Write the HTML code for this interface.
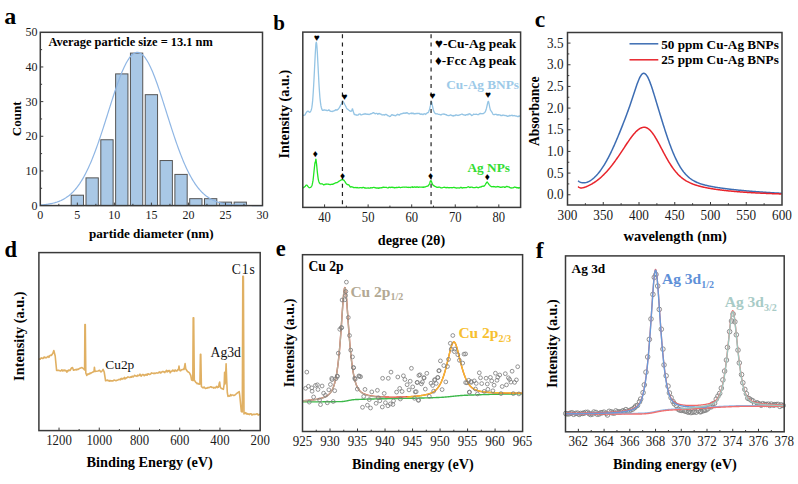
<!DOCTYPE html>
<html><head><meta charset="utf-8"><style>
html,body{margin:0;padding:0;background:#fff;}
svg{display:block;font-family:"Liberation Serif", serif;}
</style></head><body>
<svg width="798" height="484" viewBox="0 0 798 484">
<rect width="798" height="484" fill="#fff"/>
<text x="4.2" y="24" font-size="24" font-weight="bold" fill="#000" text-anchor="start" >a</text>
<rect x="71.19" y="195.2" width="12.3" height="10.4" fill="#a9c8e6" stroke="#555" stroke-width="1"/>
<rect x="86" y="177.87" width="12.3" height="27.73" fill="#a9c8e6" stroke="#555" stroke-width="1"/>
<rect x="100.81" y="139.75" width="12.3" height="65.85" fill="#a9c8e6" stroke="#555" stroke-width="1"/>
<rect x="115.63" y="73.89" width="12.3" height="131.71" fill="#a9c8e6" stroke="#555" stroke-width="1"/>
<rect x="130.44" y="53.1" width="12.3" height="152.5" fill="#a9c8e6" stroke="#555" stroke-width="1"/>
<rect x="145.25" y="94.69" width="12.3" height="110.91" fill="#a9c8e6" stroke="#555" stroke-width="1"/>
<rect x="160.07" y="160.54" width="12.3" height="45.06" fill="#a9c8e6" stroke="#555" stroke-width="1"/>
<rect x="174.88" y="174.41" width="12.3" height="31.19" fill="#a9c8e6" stroke="#555" stroke-width="1"/>
<rect x="189.69" y="198.67" width="12.3" height="6.93" fill="#a9c8e6" stroke="#555" stroke-width="1"/>
<rect x="204.51" y="198.67" width="12.3" height="6.93" fill="#a9c8e6" stroke="#555" stroke-width="1"/>
<rect x="219.32" y="202.13" width="12.3" height="3.47" fill="#a9c8e6" stroke="#555" stroke-width="1"/>
<rect x="234.13" y="202.13" width="12.3" height="3.47" fill="#a9c8e6" stroke="#555" stroke-width="1"/>
<path d="M40.3 204.97 L41.04 204.92 L41.78 204.86 L42.52 204.8 L43.26 204.73 L44 204.65 L44.74 204.58 L45.48 204.49 L46.23 204.4 L46.97 204.3 L47.71 204.2 L48.45 204.08 L49.19 203.96 L49.93 203.83 L50.67 203.69 L51.41 203.55 L52.15 203.39 L52.89 203.22 L53.63 203.04 L54.37 202.85 L55.11 202.65 L55.85 202.43 L56.59 202.2 L57.34 201.95 L58.08 201.69 L58.82 201.42 L59.56 201.12 L60.3 200.81 L61.04 200.49 L61.78 200.14 L62.52 199.77 L63.26 199.38 L64 198.97 L64.74 198.54 L65.48 198.09 L66.22 197.61 L66.96 197.1 L67.7 196.57 L68.45 196.02 L69.19 195.43 L69.93 194.82 L70.67 194.17 L71.41 193.5 L72.15 192.79 L72.89 192.05 L73.63 191.28 L74.37 190.47 L75.11 189.63 L75.85 188.75 L76.59 187.84 L77.33 186.89 L78.07 185.9 L78.81 184.87 L79.56 183.8 L80.3 182.69 L81.04 181.54 L81.78 180.34 L82.52 179.11 L83.26 177.83 L84 176.51 L84.74 175.14 L85.48 173.74 L86.22 172.28 L86.96 170.79 L87.7 169.25 L88.44 167.67 L89.18 166.04 L89.92 164.37 L90.67 162.66 L91.41 160.9 L92.15 159.11 L92.89 157.27 L93.63 155.39 L94.37 153.47 L95.11 151.52 L95.85 149.52 L96.59 147.49 L97.33 145.42 L98.07 143.33 L98.81 141.19 L99.55 139.03 L100.29 136.84 L101.03 134.63 L101.78 132.39 L102.52 130.12 L103.26 127.84 L104 125.54 L104.74 123.22 L105.48 120.89 L106.22 118.55 L106.96 116.21 L107.7 113.86 L108.44 111.51 L109.18 109.15 L109.92 106.81 L110.66 104.47 L111.4 102.14 L112.14 99.83 L112.89 97.53 L113.63 95.26 L114.37 93.01 L115.11 90.79 L115.85 88.59 L116.59 86.44 L117.33 84.32 L118.07 82.24 L118.81 80.21 L119.55 78.22 L120.29 76.29 L121.03 74.41 L121.77 72.59 L122.51 70.83 L123.25 69.14 L124 67.51 L124.74 65.95 L125.48 64.47 L126.22 63.06 L126.96 61.73 L127.7 60.48 L128.44 59.31 L129.18 58.23 L129.92 57.23 L130.66 56.33 L131.4 55.51 L132.14 54.79 L132.88 54.16 L133.62 53.63 L134.36 53.19 L135.11 52.84 L135.85 52.6 L136.59 52.45 L137.33 52.4 L138.07 52.45 L138.81 52.6 L139.55 52.84 L140.29 53.19 L141.03 53.63 L141.77 54.16 L142.51 54.79 L143.25 55.51 L143.99 56.33 L144.73 57.23 L145.47 58.23 L146.22 59.31 L146.96 60.48 L147.7 61.73 L148.44 63.06 L149.18 64.47 L149.92 65.95 L150.66 67.51 L151.4 69.14 L152.14 70.83 L152.88 72.59 L153.62 74.41 L154.36 76.29 L155.1 78.22 L155.84 80.21 L156.58 82.24 L157.33 84.32 L158.07 86.44 L158.81 88.59 L159.55 90.79 L160.29 93.01 L161.03 95.26 L161.77 97.53 L162.51 99.83 L163.25 102.14 L163.99 104.47 L164.73 106.81 L165.47 109.15 L166.21 111.51 L166.95 113.86 L167.69 116.21 L168.44 118.55 L169.18 120.89 L169.92 123.22 L170.66 125.54 L171.4 127.84 L172.14 130.12 L172.88 132.39 L173.62 134.63 L174.36 136.84 L175.1 139.03 L175.84 141.19 L176.58 143.33 L177.32 145.42 L178.06 147.49 L178.8 149.52 L179.55 151.52 L180.29 153.47 L181.03 155.39 L181.77 157.27 L182.51 159.11 L183.25 160.9 L183.99 162.66 L184.73 164.37 L185.47 166.04 L186.21 167.67 L186.95 169.25 L187.69 170.79 L188.43 172.28 L189.17 173.74 L189.91 175.14 L190.66 176.51 L191.4 177.83 L192.14 179.11 L192.88 180.34 L193.62 181.54 L194.36 182.69 L195.1 183.8 L195.84 184.87 L196.58 185.9 L197.32 186.89 L198.06 187.84 L198.8 188.75 L199.54 189.63 L200.28 190.47 L201.02 191.28 L201.77 192.05 L202.51 192.79 L203.25 193.5 L203.99 194.17 L204.73 194.82 L205.47 195.43 L206.21 196.02 L206.95 196.57 L207.69 197.1 L208.43 197.61 L209.17 198.09 L209.91 198.54 L210.65 198.97 L211.39 199.38 L212.13 199.77 L212.88 200.14 L213.62 200.49 L214.36 200.81 L215.1 201.12 L215.84 201.42 L216.58 201.69 L217.32 201.95 L218.06 202.2 L218.8 202.43 L219.54 202.65 L220.28 202.85 L221.02 203.04 L221.76 203.22 L222.5 203.39 L223.24 203.55 L223.99 203.69 L224.73 203.83 L225.47 203.96 L226.21 204.08 L226.95 204.2 L227.69 204.3 L228.43 204.4 L229.17 204.49 L229.91 204.58 L230.65 204.65 L231.39 204.73 L232.13 204.8 L232.87 204.86 L233.61 204.92 L234.35 204.97 L235.1 205.02 L235.84 205.07 L236.58 205.11 L237.32 205.15 L238.06 205.19 L238.8 205.23 L239.54 205.26 L240.28 205.29 L241.02 205.31 L241.76 205.34 L242.5 205.36 L243.24 205.38 L243.98 205.4 L244.72 205.42 L245.46 205.43 L246.21 205.45 L246.95 205.46 L247.69 205.48 L248.43 205.49 L249.17 205.5 L249.91 205.51 L250.65 205.52 L251.39 205.52 L252.13 205.53 L252.87 205.54 L253.61 205.54 L254.35 205.55 L255.09 205.55 L255.83 205.56 L256.57 205.56 L257.32 205.57 L258.06 205.57 L258.8 205.57 L259.54 205.58 L260.28 205.58 L261.02 205.58 L261.76 205.58 L262.5 205.58" fill="none" stroke="#8fb6e4" stroke-width="1.2" stroke-linejoin="round" />
<rect x="40.3" y="32.3" width="222.2" height="173.3" fill="none" stroke="#3a3a3a" stroke-width="1.5"/>
<line x1="58.82" y1="205.6" x2="58.82" y2="203.8" stroke="#3a3a3a" stroke-width="1" />
<line x1="77.33" y1="205.6" x2="77.33" y2="202.6" stroke="#3a3a3a" stroke-width="1" />
<line x1="95.85" y1="205.6" x2="95.85" y2="203.8" stroke="#3a3a3a" stroke-width="1" />
<line x1="114.37" y1="205.6" x2="114.37" y2="202.6" stroke="#3a3a3a" stroke-width="1" />
<line x1="132.88" y1="205.6" x2="132.88" y2="203.8" stroke="#3a3a3a" stroke-width="1" />
<line x1="151.4" y1="205.6" x2="151.4" y2="202.6" stroke="#3a3a3a" stroke-width="1" />
<line x1="169.92" y1="205.6" x2="169.92" y2="203.8" stroke="#3a3a3a" stroke-width="1" />
<line x1="188.43" y1="205.6" x2="188.43" y2="202.6" stroke="#3a3a3a" stroke-width="1" />
<line x1="206.95" y1="205.6" x2="206.95" y2="203.8" stroke="#3a3a3a" stroke-width="1" />
<line x1="225.47" y1="205.6" x2="225.47" y2="202.6" stroke="#3a3a3a" stroke-width="1" />
<line x1="243.98" y1="205.6" x2="243.98" y2="203.8" stroke="#3a3a3a" stroke-width="1" />
<line x1="40.3" y1="188.27" x2="42.1" y2="188.27" stroke="#3a3a3a" stroke-width="1" />
<line x1="40.3" y1="170.94" x2="43.3" y2="170.94" stroke="#3a3a3a" stroke-width="1" />
<line x1="40.3" y1="153.61" x2="42.1" y2="153.61" stroke="#3a3a3a" stroke-width="1" />
<line x1="40.3" y1="136.28" x2="43.3" y2="136.28" stroke="#3a3a3a" stroke-width="1" />
<line x1="40.3" y1="118.95" x2="42.1" y2="118.95" stroke="#3a3a3a" stroke-width="1" />
<line x1="40.3" y1="101.62" x2="43.3" y2="101.62" stroke="#3a3a3a" stroke-width="1" />
<line x1="40.3" y1="84.29" x2="42.1" y2="84.29" stroke="#3a3a3a" stroke-width="1" />
<line x1="40.3" y1="66.96" x2="43.3" y2="66.96" stroke="#3a3a3a" stroke-width="1" />
<line x1="40.3" y1="49.63" x2="42.1" y2="49.63" stroke="#3a3a3a" stroke-width="1" />
<text x="40.3" y="219" font-size="12" font-weight="normal" fill="#1a1a1a" text-anchor="middle" >0</text>
<text x="77.33" y="219" font-size="12" font-weight="normal" fill="#1a1a1a" text-anchor="middle" >5</text>
<text x="114.37" y="219" font-size="12" font-weight="normal" fill="#1a1a1a" text-anchor="middle" >10</text>
<text x="151.4" y="219" font-size="12" font-weight="normal" fill="#1a1a1a" text-anchor="middle" >15</text>
<text x="188.43" y="219" font-size="12" font-weight="normal" fill="#1a1a1a" text-anchor="middle" >20</text>
<text x="225.47" y="219" font-size="12" font-weight="normal" fill="#1a1a1a" text-anchor="middle" >25</text>
<text x="262.5" y="219" font-size="12" font-weight="normal" fill="#1a1a1a" text-anchor="middle" >30</text>
<text x="37.4" y="209.7" font-size="12" font-weight="normal" fill="#1a1a1a" text-anchor="end" >0</text>
<text x="37.4" y="175.04" font-size="12" font-weight="normal" fill="#1a1a1a" text-anchor="end" >10</text>
<text x="37.4" y="140.38" font-size="12" font-weight="normal" fill="#1a1a1a" text-anchor="end" >20</text>
<text x="37.4" y="105.72" font-size="12" font-weight="normal" fill="#1a1a1a" text-anchor="end" >30</text>
<text x="37.4" y="71.06" font-size="12" font-weight="normal" fill="#1a1a1a" text-anchor="end" >40</text>
<text x="37.4" y="36.4" font-size="12" font-weight="normal" fill="#1a1a1a" text-anchor="end" >50</text>
<text x="48.4" y="46.4" font-size="12.4" font-weight="bold" fill="#000" text-anchor="start" >Average particle size = 13.1 nm</text>
<text x="151.25" y="237.5" font-size="13.15" font-weight="bold" fill="#000" text-anchor="middle" >partide diameter (nm)</text>
<text x="21" y="118.85" font-size="13" font-weight="bold" fill="#000" text-anchor="middle" transform="rotate(-90 21 118.85)">Count</text>
<text x="273.2" y="29.5" font-size="21" font-weight="bold" fill="#000" text-anchor="start" >b</text>
<path d="M302.8 115.62 L303.16 115.44 L303.53 115.34 L303.89 115.23 L304.25 115.22 L304.62 115.13 L304.98 114.9 L305.35 114.33 L305.71 113.49 L306.07 112.93 L306.44 112.44 L306.8 111.99 L307.16 111.39 L307.53 111.35 L307.89 111.2 L308.25 111.25 L308.62 111.42 L308.98 111.83 L309.34 112.26 L309.71 112.2 L310.07 112.1 L310.44 111.7 L310.8 110.93 L311.16 110.16 L311.53 108.97 L311.89 107.17 L312.25 104.34 L312.62 100.89 L312.98 96.18 L313.34 90.81 L313.71 84.58 L314.07 77.87 L314.44 70.58 L314.8 62.99 L315.16 55.76 L315.53 49.66 L315.89 43.79 L316.25 42.05 L316.62 43.37 L316.98 46.96 L317.34 52.47 L317.71 59.71 L318.07 66.65 L318.44 73.84 L318.8 81.01 L319.16 87.12 L319.53 92.39 L319.89 97.24 L320.25 100.64 L320.62 103.59 L320.98 105.93 L321.34 107.51 L321.71 108.83 L322.07 109.88 L322.43 110.24 L322.8 110.21 L323.16 110.37 L323.53 110.15 L323.89 110.11 L324.25 109.94 L324.62 110.06 L324.98 109.9 L325.34 110.28 L325.71 110.03 L326.07 110.03 L326.43 110.27 L326.8 110.65 L327.16 110.54 L327.53 110.58 L327.89 110.4 L328.25 110.44 L328.62 110.06 L328.98 109.76 L329.34 110.29 L329.71 110.94 L330.07 110.91 L330.43 111.09 L330.8 111.37 L331.16 111.48 L331.52 111.39 L331.89 111.45 L332.25 111.5 L332.62 111.13 L332.98 111.05 L333.34 111.09 L333.71 111.07 L334.07 110.58 L334.43 110.7 L334.8 110.56 L335.16 109.99 L335.52 109.76 L335.89 110.18 L336.25 109.92 L336.62 109.88 L336.98 110.1 L337.34 109.86 L337.71 109.44 L338.07 109.46 L338.43 108.81 L338.8 108.49 L339.16 107.92 L339.52 107.26 L339.89 106.75 L340.25 106.11 L340.62 105.07 L340.98 104.64 L341.34 104.23 L341.71 103.23 L342.07 102.31 L342.43 101.95 L342.8 101.53 L343.16 101.3 L343.52 102.03 L343.89 102.7 L344.25 103.67 L344.61 104.22 L344.98 104.87 L345.34 105.42 L345.71 106.47 L346.07 107 L346.43 107.84 L346.8 108.51 L347.16 108.88 L347.52 109.18 L347.89 109.35 L348.25 109.65 L348.61 110 L348.98 110.2 L349.34 110.43 L349.71 110.72 L350.07 111.17 L350.43 111.23 L350.8 111.24 L351.16 111.11 L351.52 111.04 L351.89 110.47 L352.25 108.84 L352.61 108.81 L352.98 110.83 L353.34 111.72 L353.7 112.67 L354.07 114.06 L354.43 114.53 L354.8 114.25 L355.16 114.63 L355.52 114.95 L355.89 114.96 L356.25 114.79 L356.61 115.18 L356.98 115.32 L357.34 115.09 L357.7 115.02 L358.07 115.06 L358.43 114.6 L358.8 114.03 L359.16 114.03 L359.52 114.21 L359.89 114.02 L360.25 114 L360.61 114.64 L360.98 114.86 L361.34 114.92 L361.7 114.8 L362.07 114.72 L362.43 114.45 L362.79 114.38 L363.16 114.27 L363.52 114.06 L363.89 114.28 L364.25 114.04 L364.61 114.02 L364.98 113.51 L365.34 113.98 L365.7 113.96 L366.07 114.15 L366.43 114.02 L366.79 114.38 L367.16 114.33 L367.52 114.06 L367.89 114.32 L368.25 114.43 L368.61 114.19 L368.98 114.61 L369.34 114.38 L369.7 114.23 L370.07 113.96 L370.43 114 L370.79 113.6 L371.16 113.81 L371.52 113.73 L371.89 113.48 L372.25 113.16 L372.61 113.13 L372.98 112.9 L373.34 112.58 L373.7 112.58 L374.07 113.07 L374.43 113.1 L374.79 113.54 L375.16 113.56 L375.52 113.83 L375.88 113.41 L376.25 113.43 L376.61 113.47 L376.98 113.5 L377.34 113.81 L377.7 114.22 L378.07 114.09 L378.43 113.49 L378.79 113.94 L379.16 113.69 L379.52 113.46 L379.88 113.61 L380.25 114.1 L380.61 114.18 L380.98 114.07 L381.34 114.45 L381.7 114.72 L382.07 114.98 L382.43 114.75 L382.79 114.88 L383.16 114.94 L383.52 114.77 L383.88 114.62 L384.25 114.99 L384.61 115.16 L384.97 114.65 L385.34 114.64 L385.7 114.37 L386.07 114.34 L386.43 114.52 L386.79 114.89 L387.16 115.03 L387.52 115.58 L387.88 115.5 L388.25 115.74 L388.61 115.88 L388.97 116.11 L389.34 116.26 L389.7 116.56 L390.07 116.22 L390.43 116.4 L390.79 115.88 L391.16 115.41 L391.52 114.75 L391.88 115.05 L392.25 114.64 L392.61 114.95 L392.97 115.07 L393.34 115.38 L393.7 115.04 L394.07 115.25 L394.43 115.53 L394.79 115.52 L395.16 115.57 L395.52 115.8 L395.88 115.66 L396.25 115.06 L396.61 114.89 L396.97 114.93 L397.34 114.4 L397.7 114.27 L398.06 114.62 L398.43 114.81 L398.79 114.56 L399.16 114.95 L399.52 115.03 L399.88 114.58 L400.25 114.1 L400.61 113.93 L400.97 113.9 L401.34 113.71 L401.7 113.71 L402.06 113.8 L402.43 113.58 L402.79 113.34 L403.16 113.17 L403.52 113.35 L403.88 113.01 L404.25 113.29 L404.61 113.14 L404.97 112.95 L405.34 112.96 L405.7 113.28 L406.06 112.77 L406.43 112.68 L406.79 113.04 L407.15 112.78 L407.52 112.93 L407.88 113.42 L408.25 113.66 L408.61 113.63 L408.97 113.92 L409.34 113.87 L409.7 113.8 L410.06 113.28 L410.43 113.36 L410.79 113.34 L411.15 113.16 L411.52 112.99 L411.88 113.71 L412.25 113.23 L412.61 113.09 L412.97 113.58 L413.34 113.51 L413.7 113.3 L414.06 113.98 L414.43 113.9 L414.79 113.59 L415.15 113.94 L415.52 113.69 L415.88 113.36 L416.25 113.47 L416.61 113.56 L416.97 113.42 L417.34 113.59 L417.7 113.46 L418.06 113.39 L418.43 113.44 L418.79 113.5 L419.15 113.43 L419.52 113.5 L419.88 114.08 L420.24 114.16 L420.61 114.29 L420.97 114.01 L421.34 114.3 L421.7 113.93 L422.06 114.05 L422.43 114.03 L422.79 114.49 L423.15 114.48 L423.52 114.04 L423.88 113.92 L424.24 113.88 L424.61 113.74 L424.97 113.84 L425.34 114.46 L425.7 113.95 L426.06 113.68 L426.43 113.74 L426.79 113.37 L427.15 112.78 L427.52 112.6 L427.88 112.77 L428.24 112.47 L428.61 111.65 L428.97 110.73 L429.33 110.2 L429.7 108.67 L430.06 107.11 L430.43 105.46 L430.79 103.57 L431.15 102.08 L431.52 101.65 L431.88 102.63 L432.24 104.51 L432.61 106.75 L432.97 108.23 L433.33 109.88 L433.7 111.07 L434.06 111.89 L434.43 112.47 L434.79 113.07 L435.15 113.38 L435.52 113.71 L435.88 113.86 L436.24 113.78 L436.61 113.77 L436.97 113.95 L437.33 113.89 L437.7 113.99 L438.06 114.22 L438.43 114.42 L438.79 114.45 L439.15 114.29 L439.52 114.38 L439.88 114.61 L440.24 114.69 L440.61 114.71 L440.97 115.04 L441.33 114.81 L441.7 114.3 L442.06 114.25 L442.42 114.13 L442.79 114.2 L443.15 114.19 L443.52 114.08 L443.88 113.89 L444.24 114.35 L444.61 114.16 L444.97 114.12 L445.33 114.46 L445.7 114.75 L446.06 114.56 L446.42 114.67 L446.79 115.19 L447.15 115.46 L447.52 115.36 L447.88 115.39 L448.24 115.66 L448.61 115.57 L448.97 115.63 L449.33 115.44 L449.7 115.31 L450.06 115.15 L450.42 114.92 L450.79 114.93 L451.15 115.24 L451.51 115.43 L451.88 115.26 L452.24 115.78 L452.61 115.81 L452.97 115.66 L453.33 115.52 L453.7 116.03 L454.06 115.51 L454.42 115.44 L454.79 115.66 L455.15 115.64 L455.51 114.97 L455.88 115.06 L456.24 114.97 L456.61 115 L456.97 115.14 L457.33 115.35 L457.7 115.47 L458.06 115.51 L458.42 115.34 L458.79 115.21 L459.15 115.16 L459.51 115.13 L459.88 114.84 L460.24 114.69 L460.61 114.68 L460.97 114.46 L461.33 114.26 L461.7 114.09 L462.06 114.08 L462.42 114.18 L462.79 114.54 L463.15 114.61 L463.51 114.93 L463.88 114.8 L464.24 115.02 L464.6 115.01 L464.97 115.22 L465.33 115.1 L465.7 115.32 L466.06 114.66 L466.42 114.7 L466.79 114.67 L467.15 114.49 L467.51 114.51 L467.88 114.95 L468.24 114.49 L468.6 113.99 L468.97 114.13 L469.33 114.03 L469.7 113.66 L470.06 113.97 L470.42 114.34 L470.79 114.64 L471.15 114.88 L471.51 115.4 L471.88 115.59 L472.24 115.31 L472.6 115.09 L472.97 114.77 L473.33 114.3 L473.69 114.07 L474.06 114.29 L474.42 114.46 L474.79 114.36 L475.15 114.32 L475.51 114.31 L475.88 114.26 L476.24 114.1 L476.6 114.36 L476.97 114.43 L477.33 114.54 L477.69 114.62 L478.06 114.63 L478.42 114.5 L478.79 114.57 L479.15 113.92 L479.51 113.65 L479.88 113.63 L480.24 113.43 L480.6 113.44 L480.97 113.9 L481.33 113.75 L481.69 113.62 L482.06 113.74 L482.42 113.68 L482.78 113.63 L483.15 113.72 L483.51 113.42 L483.88 113.23 L484.24 112.86 L484.6 112.54 L484.97 112.17 L485.33 111.66 L485.69 110.76 L486.06 109.83 L486.42 108.45 L486.78 106.81 L487.15 105.25 L487.51 103.59 L487.88 102.05 L488.24 101.36 L488.6 101.66 L488.97 103.29 L489.33 105.05 L489.69 107.03 L490.06 108.54 L490.42 110.12 L490.78 110.31 L491.15 111.04 L491.51 111.52 L491.88 112.11 L492.24 112.73 L492.6 113.53 L492.97 114.16 L493.33 114.46 L493.69 114.7 L494.06 114.52 L494.42 114.56 L494.78 114.53 L495.15 114.29 L495.51 114.41 L495.87 114.2 L496.24 114.33 L496.6 114.67 L496.97 114.87 L497.33 114.71 L497.69 115.13 L498.06 115.13 L498.42 114.63 L498.78 114.74 L499.15 114.89 L499.51 114.86 L499.87 114.76 L500.24 115.26 L500.6 115.55 L500.97 115.49 L501.33 115.45 L501.69 115.55 L502.06 115.53 L502.42 115.14 L502.78 115.29 L503.15 115.19 L503.51 115.18 L503.87 115.08 L504.24 115.48 L504.6 115.39 L504.96 115.39 L505.33 115.69 L505.69 115.58 L506.06 115.43 L506.42 115.74 L506.78 116.09 L507.15 115.88 L507.51 116.33 L507.87 116.31 L508.24 116.2 L508.6 115.91 L508.96 116.02 L509.33 115.33 L509.69 115.68 L510.06 115.81 L510.42 115.73 L510.78 115.5 L511.15 115.55 L511.51 115.47 L511.87 115.17 L512.24 115.4 L512.6 115.64 L512.96 115.94 L513.33 115.56 L513.69 115.67 L514.06 115.45 L514.42 115.52 L514.78 115.63 L515.15 115.93 L515.51 115.91 L515.87 116.04 L516.24 116.1 L516.6 115.99 L516.96 116.21 L517.33 116.42 L517.69 116.59 L518.05 116.5 L518.42 116.49 L518.78 116.06 L519.15 115.89 L519.51 115.99 L519.87 116.19 L520.24 116.45 L520.6 117.02" fill="none" stroke="#94c4e4" stroke-width="1.3" stroke-linejoin="round" />
<path d="M302.8 187.78 L303.16 187.76 L303.53 187.63 L303.89 187.16 L304.25 187.11 L304.62 186.92 L304.98 186.54 L305.35 186.21 L305.71 185.54 L306.07 185.2 L306.44 185.12 L306.8 185.2 L307.16 185.33 L307.53 186.02 L307.89 186.4 L308.25 186.76 L308.62 187.19 L308.98 187.51 L309.34 187.61 L309.71 187.73 L310.07 187.5 L310.44 187.35 L310.8 187.22 L311.16 186.81 L311.53 186.31 L311.89 185.76 L312.25 184.43 L312.62 182.72 L312.98 180.69 L313.34 177.75 L313.71 174.3 L314.07 170.74 L314.44 167.26 L314.8 164 L315.16 162.18 L315.53 161.66 L315.89 159.07 L316.25 161.52 L316.62 164.68 L316.98 168.42 L317.34 172.17 L317.71 175.12 L318.07 177.83 L318.44 180.06 L318.8 181.42 L319.16 182.38 L319.53 183.09 L319.89 183.4 L320.25 183.86 L320.62 183.9 L320.98 183.83 L321.34 183.91 L321.71 183.83 L322.07 183.73 L322.43 184.03 L322.8 184.22 L323.16 184.44 L323.53 184.87 L323.89 184.78 L324.25 184.5 L324.62 184.53 L324.98 184.57 L325.34 184.19 L325.71 184.12 L326.07 184.24 L326.43 184.21 L326.8 183.99 L327.16 184.09 L327.53 184.16 L327.89 184.18 L328.25 184.13 L328.62 184.28 L328.98 184.25 L329.34 184.43 L329.71 184.54 L330.07 184.49 L330.43 184.59 L330.8 184.52 L331.16 184.37 L331.52 184.27 L331.89 184.46 L332.25 184.27 L332.62 184.3 L332.98 184.25 L333.34 183.92 L333.71 183.66 L334.07 183.54 L334.43 183.5 L334.8 183.23 L335.16 183.05 L335.52 182.92 L335.89 182.88 L336.25 182.61 L336.62 182.68 L336.98 182.7 L337.34 182.43 L337.71 182.25 L338.07 181.91 L338.43 181.49 L338.8 181.28 L339.16 181.2 L339.52 180.87 L339.89 180.82 L340.25 180.54 L340.62 180.3 L340.98 180.12 L341.34 179.8 L341.71 179.83 L342.07 179.53 L342.43 179.58 L342.8 179.58 L343.16 180.06 L343.52 179.97 L343.89 180.18 L344.25 180.66 L344.61 181.15 L344.98 181.52 L345.34 182.39 L345.71 183.06 L346.07 183.4 L346.43 183.8 L346.8 184.13 L347.16 184.37 L347.52 184.54 L347.89 184.79 L348.25 184.59 L348.61 184.95 L348.98 184.99 L349.34 185.54 L349.71 186.11 L350.07 186.78 L350.43 186.9 L350.8 187.09 L351.16 186.97 L351.52 186.72 L351.89 186.88 L352.25 186.98 L352.61 187.11 L352.98 187.24 L353.34 187.48 L353.7 187.5 L354.07 187.51 L354.43 187.62 L354.8 187.65 L355.16 187.43 L355.52 187.56 L355.89 187.66 L356.25 187.48 L356.61 187.64 L356.98 187.84 L357.34 187.49 L357.7 187.64 L358.07 187.8 L358.43 187.79 L358.8 187.78 L359.16 187.96 L359.52 187.59 L359.89 187.68 L360.25 187.58 L360.61 187.53 L360.98 187.6 L361.34 187.81 L361.7 187.78 L362.07 187.74 L362.43 187.77 L362.79 187.48 L363.16 187.43 L363.52 187.43 L363.89 187.64 L364.25 187.61 L364.61 187.86 L364.98 188.1 L365.34 187.99 L365.7 187.92 L366.07 188.17 L366.43 188.19 L366.79 188.15 L367.16 188.11 L367.52 188.05 L367.89 187.84 L368.25 187.85 L368.61 187.84 L368.98 188.22 L369.34 188.11 L369.7 188.06 L370.07 188.1 L370.43 187.84 L370.79 187.62 L371.16 187.77 L371.52 187.8 L371.89 187.81 L372.25 187.75 L372.61 187.78 L372.98 187.52 L373.34 187.47 L373.7 187.34 L374.07 187.48 L374.43 187.49 L374.79 187.68 L375.16 187.71 L375.52 187.84 L375.88 188.08 L376.25 187.97 L376.61 188 L376.98 188.2 L377.34 188.16 L377.7 187.81 L378.07 188.11 L378.43 188.32 L378.79 187.93 L379.16 187.89 L379.52 188.09 L379.88 187.9 L380.25 187.71 L380.61 187.91 L380.98 187.79 L381.34 187.74 L381.7 187.75 L382.07 187.53 L382.43 187.43 L382.79 187.55 L383.16 187.3 L383.52 187.14 L383.88 187.21 L384.25 187.38 L384.61 187.29 L384.97 187.41 L385.34 187.39 L385.7 187.43 L386.07 187.28 L386.43 187.36 L386.79 187.55 L387.16 187.73 L387.52 187.93 L387.88 187.91 L388.25 187.85 L388.61 187.46 L388.97 187.53 L389.34 187.23 L389.7 187.32 L390.07 187.42 L390.43 187.55 L390.79 187.37 L391.16 187.44 L391.52 187.22 L391.88 187.18 L392.25 187.48 L392.61 187.19 L392.97 187.28 L393.34 187.52 L393.7 187.53 L394.07 187.43 L394.43 187.81 L394.79 187.67 L395.16 187.75 L395.52 187.63 L395.88 187.66 L396.25 187.4 L396.61 187.4 L396.97 187.5 L397.34 187.59 L397.7 187.48 L398.06 187.43 L398.43 187.34 L398.79 187.15 L399.16 187.2 L399.52 187.26 L399.88 187.46 L400.25 187.54 L400.61 187.67 L400.97 187.5 L401.34 187.38 L401.7 187.42 L402.06 187.42 L402.43 187.22 L402.79 187.19 L403.16 187.22 L403.52 187.18 L403.88 187.21 L404.25 187.1 L404.61 187.21 L404.97 187.26 L405.34 187.06 L405.7 187.1 L406.06 187.21 L406.43 187.12 L406.79 187.19 L407.15 187.46 L407.52 187.28 L407.88 187.36 L408.25 187.29 L408.61 187.47 L408.97 187.25 L409.34 187.47 L409.7 187.34 L410.06 187.54 L410.43 187.53 L410.79 187.28 L411.15 187.08 L411.52 187.22 L411.88 187.11 L412.25 186.76 L412.61 187.32 L412.97 187.38 L413.34 187.12 L413.7 187.23 L414.06 187.11 L414.43 186.98 L414.79 186.9 L415.15 187.12 L415.52 187.17 L415.88 187.39 L416.25 187.08 L416.61 186.94 L416.97 187.07 L417.34 187 L417.7 186.89 L418.06 187.16 L418.43 187.42 L418.79 187.35 L419.15 186.99 L419.52 187.05 L419.88 187.05 L420.24 187.07 L420.61 187.1 L420.97 187.07 L421.34 187.12 L421.7 187.06 L422.06 187.27 L422.43 187.04 L422.79 187.28 L423.15 187.25 L423.52 187.28 L423.88 186.9 L424.24 187.12 L424.61 187.03 L424.97 187.02 L425.34 186.81 L425.7 186.82 L426.06 186.53 L426.43 186.35 L426.79 186.34 L427.15 186.3 L427.52 186.03 L427.88 185.91 L428.24 185.91 L428.61 185.26 L428.97 184.68 L429.33 184.1 L429.7 183.25 L430.06 182.07 L430.43 180.98 L430.79 180.65 L431.15 180.84 L431.52 181.6 L431.88 182.66 L432.24 183.92 L432.61 184.52 L432.97 184.98 L433.33 185.36 L433.7 185.68 L434.06 185.85 L434.43 185.98 L434.79 186.35 L435.15 186.41 L435.52 186.68 L435.88 186.72 L436.24 186.98 L436.61 187.13 L436.97 187.37 L437.33 187.25 L437.7 187.43 L438.06 187.44 L438.43 187.1 L438.79 187.03 L439.15 187.17 L439.52 187.13 L439.88 187.15 L440.24 187.46 L440.61 187.65 L440.97 187.75 L441.33 187.9 L441.7 187.87 L442.06 187.79 L442.42 187.68 L442.79 187.55 L443.15 187.47 L443.52 187.31 L443.88 187.28 L444.24 187.32 L444.61 187.25 L444.97 187.28 L445.33 187.56 L445.7 187.58 L446.06 187.84 L446.42 187.66 L446.79 187.64 L447.15 187.37 L447.52 187.51 L447.88 187.58 L448.24 187.6 L448.61 187.65 L448.97 187.93 L449.33 187.78 L449.7 187.53 L450.06 187.57 L450.42 187.66 L450.79 187.64 L451.15 187.69 L451.51 187.55 L451.88 187.9 L452.24 187.74 L452.61 187.72 L452.97 187.66 L453.33 187.46 L453.7 187.38 L454.06 187.47 L454.42 187.53 L454.79 187.48 L455.15 187.75 L455.51 187.83 L455.88 187.82 L456.24 187.88 L456.61 188.22 L456.97 188.11 L457.33 187.8 L457.7 187.89 L458.06 187.92 L458.42 187.79 L458.79 187.99 L459.15 188.14 L459.51 187.95 L459.88 187.87 L460.24 187.65 L460.61 187.33 L460.97 187.27 L461.33 187.65 L461.7 187.77 L462.06 187.79 L462.42 187.92 L462.79 188.06 L463.15 187.66 L463.51 187.58 L463.88 187.65 L464.24 187.6 L464.6 187.72 L464.97 187.74 L465.33 187.6 L465.7 187.6 L466.06 187.68 L466.42 187.56 L466.79 187.53 L467.15 187.28 L467.51 187 L467.88 186.88 L468.24 186.74 L468.6 186.81 L468.97 187.03 L469.33 187.35 L469.7 187.51 L470.06 187.49 L470.42 187.4 L470.79 187.13 L471.15 187.03 L471.51 187.06 L471.88 187.21 L472.24 187.26 L472.6 187.49 L472.97 187.6 L473.33 187.53 L473.69 187.55 L474.06 187.62 L474.42 187.65 L474.79 187.68 L475.15 187.59 L475.51 187.44 L475.88 187.25 L476.24 187.11 L476.6 187.12 L476.97 187.38 L477.33 187.41 L477.69 187.55 L478.06 187.76 L478.42 187.64 L478.79 187.54 L479.15 187.36 L479.51 187.17 L479.88 187.05 L480.24 187.08 L480.6 186.89 L480.97 186.88 L481.33 186.85 L481.69 186.64 L482.06 186.27 L482.42 186.33 L482.78 186.23 L483.15 186.12 L483.51 186.27 L483.88 186.28 L484.24 185.86 L484.6 185.5 L484.97 185.12 L485.33 184.52 L485.69 183.84 L486.06 183.29 L486.42 182.76 L486.78 182.34 L487.15 182.03 L487.51 182.27 L487.88 182.8 L488.24 183.26 L488.6 183.83 L488.97 184.45 L489.33 184.81 L489.69 185 L490.06 185.57 L490.42 186.07 L490.78 186.32 L491.15 186.59 L491.51 186.57 L491.88 186.82 L492.24 186.68 L492.6 186.68 L492.97 186.57 L493.33 186.8 L493.69 186.49 L494.06 186.53 L494.42 186.62 L494.78 186.79 L495.15 186.86 L495.51 186.92 L495.87 187.1 L496.24 186.99 L496.6 186.78 L496.97 186.74 L497.33 186.77 L497.69 186.49 L498.06 186.54 L498.42 186.81 L498.78 186.7 L499.15 186.79 L499.51 187.09 L499.87 187.23 L500.24 187.18 L500.6 187.35 L500.97 187.36 L501.33 187.19 L501.69 187.21 L502.06 187.23 L502.42 186.93 L502.78 186.95 L503.15 186.86 L503.51 186.86 L503.87 186.8 L504.24 187.12 L504.6 187.39 L504.96 187.38 L505.33 187.18 L505.69 187.09 L506.06 186.79 L506.42 186.32 L506.78 186.49 L507.15 186.56 L507.51 186.52 L507.87 186.63 L508.24 186.94 L508.6 186.81 L508.96 186.86 L509.33 187.13 L509.69 187.48 L510.06 187.65 L510.42 187.87 L510.78 187.94 L511.15 187.93 L511.51 188 L511.87 187.94 L512.24 187.79 L512.6 187.84 L512.96 187.86 L513.33 187.66 L513.69 187.44 L514.06 187.32 L514.42 187.21 L514.78 187 L515.15 187.15 L515.51 187.29 L515.87 187.31 L516.24 187.55 L516.6 187.85 L516.96 187.49 L517.33 187.65 L517.69 187.9 L518.05 187.99 L518.42 187.74 L518.78 188.05 L519.15 187.88 L519.51 187.82 L519.87 187.6 L520.24 187.88 L520.6 187.65" fill="none" stroke="#22e622" stroke-width="1.3" stroke-linejoin="round" />
<rect x="302.8" y="32.1" width="217.8" height="175.3" fill="none" stroke="#3a3a3a" stroke-width="1.5"/>
<line x1="342.44" y1="34.3" x2="342.44" y2="207.4" stroke="#222" stroke-width="1.2" stroke-dasharray="4 4.3"/>
<line x1="431.08" y1="34.3" x2="431.08" y2="207.4" stroke="#222" stroke-width="1.2" stroke-dasharray="4 4.3"/>
<line x1="324.58" y1="207.4" x2="324.58" y2="204.4" stroke="#3a3a3a" stroke-width="1" />
<line x1="346.36" y1="207.4" x2="346.36" y2="205.6" stroke="#3a3a3a" stroke-width="1" />
<line x1="368.14" y1="207.4" x2="368.14" y2="204.4" stroke="#3a3a3a" stroke-width="1" />
<line x1="389.92" y1="207.4" x2="389.92" y2="205.6" stroke="#3a3a3a" stroke-width="1" />
<line x1="411.7" y1="207.4" x2="411.7" y2="204.4" stroke="#3a3a3a" stroke-width="1" />
<line x1="433.48" y1="207.4" x2="433.48" y2="205.6" stroke="#3a3a3a" stroke-width="1" />
<line x1="455.26" y1="207.4" x2="455.26" y2="204.4" stroke="#3a3a3a" stroke-width="1" />
<line x1="477.04" y1="207.4" x2="477.04" y2="205.6" stroke="#3a3a3a" stroke-width="1" />
<line x1="498.82" y1="207.4" x2="498.82" y2="204.4" stroke="#3a3a3a" stroke-width="1" />
<text transform="translate(324.58 221.6) scale(1 1.08)" x="0" y="0" font-size="12.6" fill="#1a1a1a" text-anchor="middle">40</text>
<text transform="translate(368.14 221.6) scale(1 1.08)" x="0" y="0" font-size="12.6" fill="#1a1a1a" text-anchor="middle">50</text>
<text transform="translate(411.7 221.6) scale(1 1.08)" x="0" y="0" font-size="12.6" fill="#1a1a1a" text-anchor="middle">60</text>
<text transform="translate(455.26 221.6) scale(1 1.08)" x="0" y="0" font-size="12.6" fill="#1a1a1a" text-anchor="middle">70</text>
<text transform="translate(498.82 221.6) scale(1 1.08)" x="0" y="0" font-size="12.6" fill="#1a1a1a" text-anchor="middle">80</text>
<text x="411.55" y="244.9" font-size="14.2" font-weight="bold" fill="#000" text-anchor="middle" >degree (2θ)</text>
<text x="288.7" y="114.2" font-size="14.2" font-weight="bold" fill="#000" text-anchor="middle" transform="rotate(-90 288.7 114.2)">Intensity (a.u.)</text>
<text x="316.9" y="40.8" font-size="10" font-weight="normal" fill="#000" text-anchor="middle" >♥</text>
<text x="344.7" y="99.8" font-size="10" font-weight="normal" fill="#000" text-anchor="middle" >♥</text>
<text x="432.6" y="98.8" font-size="10" font-weight="normal" fill="#000" text-anchor="middle" >♥</text>
<text x="488.2" y="97.8" font-size="10" font-weight="normal" fill="#000" text-anchor="middle" >♥</text>
<text x="315.3" y="157" font-size="10" font-weight="normal" fill="#000" text-anchor="middle" >♦</text>
<text x="342.6" y="178.6" font-size="10" font-weight="normal" fill="#000" text-anchor="middle" >♦</text>
<text x="430.6" y="178.7" font-size="10" font-weight="normal" fill="#000" text-anchor="middle" >♦</text>
<text x="487.2" y="180.2" font-size="10" font-weight="normal" fill="#000" text-anchor="middle" >♦</text>
<text x="435" y="47.6" font-size="13.4" font-weight="bold" fill="#000" text-anchor="start" >♥-Cu-Ag peak</text>
<text x="435" y="64.6" font-size="13.4" font-weight="bold" fill="#000" text-anchor="start" >♦-Fcc Ag peak</text>
<text x="519" y="89.2" font-size="13.3" font-weight="bold" fill="#9dcae8" text-anchor="end" >Cu-Ag BNPs</text>
<text x="510" y="171.6" font-size="13.3" font-weight="bold" fill="#33dd33" text-anchor="end" >Ag NPs</text>
<text x="534.8" y="27.2" font-size="23.5" font-weight="bold" fill="#000" text-anchor="start" >c</text>
<path d="M578.1 180.79 L578.6 181.2 L579.1 181.55 L579.6 181.85 L580.1 182.11 L580.6 182.33 L581.1 182.5 L581.6 182.64 L582.1 182.75 L582.6 182.82 L583.1 182.86 L583.6 182.87 L584.1 182.85 L584.6 182.8 L585.1 182.73 L585.6 182.63 L586.1 182.51 L586.6 182.37 L587.1 182.2 L587.6 182.01 L588.1 181.8 L588.6 181.57 L589.1 181.31 L589.6 181.04 L590.1 180.75 L590.6 180.44 L591.1 180.11 L591.6 179.76 L592.1 179.39 L592.6 179.01 L593.1 178.6 L593.6 178.18 L594.1 177.74 L594.6 177.28 L595.1 176.8 L595.6 176.3 L596.1 175.79 L596.6 175.25 L597.1 174.7 L597.6 174.13 L598.1 173.55 L598.6 172.94 L599.1 172.32 L599.6 171.68 L600.1 171.02 L600.6 170.34 L601.1 169.64 L601.6 168.93 L602.1 168.2 L602.6 167.45 L603.1 166.68 L603.6 165.89 L604.1 165.09 L604.6 164.27 L605.1 163.43 L605.6 162.57 L606.1 161.7 L606.6 160.81 L607.1 159.9 L607.6 158.97 L608.1 158.03 L608.6 157.08 L609.1 156.1 L609.6 155.11 L610.1 154.11 L610.6 153.09 L611.1 152.06 L611.6 151.01 L612.1 149.95 L612.6 148.87 L613.1 147.78 L613.6 146.68 L614.1 145.57 L614.6 144.44 L615.1 143.3 L615.6 142.15 L616.1 140.99 L616.6 139.82 L617.1 138.64 L617.6 137.46 L618.1 136.26 L618.6 135.05 L619.1 133.84 L619.6 132.62 L620.1 131.39 L620.6 130.15 L621.1 128.9 L621.6 127.65 L622.1 126.39 L622.6 125.13 L623.1 123.85 L623.6 122.57 L624.1 121.28 L624.6 119.99 L625.1 118.68 L625.6 117.37 L626.1 116.04 L626.6 114.7 L627.1 113.35 L627.6 111.99 L628.1 110.62 L628.6 109.23 L629.1 107.82 L629.6 106.4 L630.1 104.97 L630.6 103.52 L631.1 102.05 L631.6 100.57 L632.1 99.07 L632.6 97.57 L633.1 96.05 L633.6 94.53 L634.1 93 L634.6 91.48 L635.1 89.97 L635.6 88.46 L636.1 86.98 L636.6 85.53 L637.1 84.12 L637.6 82.75 L638.1 81.43 L638.6 80.18 L639.1 79.01 L639.6 77.92 L640.1 76.93 L640.6 76.04 L641.1 75.27 L641.6 74.61 L642.1 74.08 L642.6 73.69 L643.1 73.44 L643.6 73.33 L644.1 73.35 L644.6 73.51 L645.1 73.79 L645.6 74.19 L646.1 74.72 L646.6 75.36 L647.1 76.11 L647.6 76.97 L648.1 77.93 L648.6 78.98 L649.1 80.11 L649.6 81.33 L650.1 82.61 L650.6 83.96 L651.1 85.37 L651.6 86.82 L652.1 88.32 L652.6 89.85 L653.1 91.42 L653.6 93.01 L654.1 94.62 L654.6 96.24 L655.1 97.88 L655.6 99.53 L656.1 101.19 L656.6 102.85 L657.1 104.51 L657.6 106.17 L658.1 107.83 L658.6 109.49 L659.1 111.14 L659.6 112.79 L660.1 114.44 L660.6 116.08 L661.1 117.71 L661.6 119.33 L662.1 120.95 L662.6 122.56 L663.1 124.16 L663.6 125.74 L664.1 127.32 L664.6 128.89 L665.1 130.44 L665.6 131.97 L666.1 133.5 L666.6 135 L667.1 136.49 L667.6 137.96 L668.1 139.42 L668.6 140.85 L669.1 142.26 L669.6 143.65 L670.1 145.01 L670.6 146.36 L671.1 147.68 L671.6 148.97 L672.1 150.24 L672.6 151.48 L673.1 152.7 L673.6 153.89 L674.1 155.05 L674.6 156.18 L675.1 157.29 L675.6 158.36 L676.1 159.41 L676.6 160.43 L677.1 161.43 L677.6 162.39 L678.1 163.33 L678.6 164.23 L679.1 165.11 L679.6 165.97 L680.1 166.79 L680.6 167.59 L681.1 168.36 L681.6 169.11 L682.1 169.83 L682.6 170.53 L683.1 171.2 L683.6 171.85 L684.1 172.47 L684.6 173.07 L685.1 173.65 L685.6 174.21 L686.1 174.75 L686.6 175.26 L687.1 175.76 L687.6 176.24 L688.1 176.7 L688.6 177.14 L689.1 177.56 L689.6 177.97 L690.1 178.36 L690.6 178.73 L691.1 179.09 L691.6 179.43 L692.1 179.77 L692.6 180.08 L693.1 180.39 L693.6 180.68 L694.1 180.97 L694.6 181.24 L695.1 181.5 L695.6 181.75 L696.1 181.99 L696.6 182.22 L697.1 182.44 L697.6 182.65 L698.1 182.86 L698.6 183.06 L699.1 183.25 L699.6 183.44 L700.1 183.61 L700.6 183.79 L701.1 183.95 L701.6 184.11 L702.1 184.27 L702.6 184.42 L703.1 184.56 L703.6 184.71 L704.1 184.84 L704.6 184.98 L705.1 185.11 L705.6 185.23 L706.1 185.35 L706.6 185.47 L707.1 185.59 L707.6 185.7 L708.1 185.81 L708.6 185.92 L709.1 186.03 L709.6 186.13 L710.1 186.23 L710.6 186.33 L711.1 186.43 L711.6 186.52 L712.1 186.61 L712.6 186.7 L713.1 186.79 L713.6 186.88 L714.1 186.97 L714.6 187.05 L715.1 187.14 L715.6 187.22 L716.1 187.3 L716.6 187.38 L717.1 187.46 L717.6 187.54 L718.1 187.62 L718.6 187.69 L719.1 187.77 L719.6 187.84 L720.1 187.91 L720.6 187.99 L721.1 188.06 L721.6 188.13 L722.1 188.2 L722.6 188.26 L723.1 188.33 L723.6 188.4 L724.1 188.47 L724.6 188.53 L725.1 188.6 L725.6 188.66 L726.1 188.72 L726.6 188.79 L727.1 188.85 L727.6 188.91 L728.1 188.97 L728.6 189.03 L729.1 189.09 L729.6 189.15 L730.1 189.21 L730.6 189.27 L731.1 189.33 L731.6 189.38 L732.1 189.44 L732.6 189.5 L733.1 189.55 L733.6 189.61 L734.1 189.66 L734.6 189.71 L735.1 189.77 L735.6 189.82 L736.1 189.87 L736.6 189.93 L737.1 189.98 L737.6 190.03 L738.1 190.08 L738.6 190.13 L739.1 190.18 L739.6 190.23 L740.1 190.28 L740.6 190.33 L741.1 190.37 L741.6 190.42 L742.1 190.47 L742.6 190.52 L743.1 190.56 L743.6 190.61 L744.1 190.65 L744.6 190.7 L745.1 190.74 L745.6 190.79 L746.1 190.83 L746.6 190.88 L747.1 190.92 L747.6 190.96 L748.1 191.01 L748.6 191.05 L749.1 191.09 L749.6 191.13 L750.1 191.18 L750.6 191.22 L751.1 191.26 L751.6 191.3 L752.1 191.34 L752.6 191.38 L753.1 191.42 L753.6 191.46 L754.1 191.5 L754.6 191.54 L755.1 191.58 L755.6 191.61 L756.1 191.65 L756.6 191.69 L757.1 191.73 L757.6 191.76 L758.1 191.8 L758.6 191.84 L759.1 191.87 L759.6 191.91 L760.1 191.95 L760.6 191.98 L761.1 192.02 L761.6 192.05 L762.1 192.09 L762.6 192.12 L763.1 192.16 L763.6 192.19 L764.1 192.22 L764.6 192.26 L765.1 192.29 L765.6 192.33 L766.1 192.36 L766.6 192.39 L767.1 192.42 L767.6 192.46 L768.1 192.49 L768.6 192.52 L769.1 192.55 L769.6 192.58 L770.1 192.62 L770.6 192.65 L771.1 192.68 L771.6 192.71 L772.1 192.74 L772.6 192.77 L773.1 192.8 L773.6 192.83 L774.1 192.86 L774.6 192.89 L775.1 192.92 L775.6 192.95 L776.1 192.98 L776.6 193.01 L777.1 193.04 L777.6 193.07 L778.1 193.1 L778.6 193.12 L779.1 193.15 L779.6 193.18 L780.1 193.21 L780.6 193.24 L781.1 193.26 L781.6 193.29" fill="none" stroke="#3d6db3" stroke-width="1.5" stroke-linejoin="round" />
<path d="M578.1 186.51 L578.6 187.03 L579.1 187.4 L579.6 187.65 L580.1 187.82 L580.6 187.91 L581.1 187.94 L581.6 187.93 L582.1 187.88 L582.6 187.81 L583.1 187.7 L583.6 187.58 L584.1 187.44 L584.6 187.28 L585.1 187.11 L585.6 186.94 L586.1 186.74 L586.6 186.54 L587.1 186.34 L587.6 186.12 L588.1 185.89 L588.6 185.66 L589.1 185.42 L589.6 185.17 L590.1 184.91 L590.6 184.65 L591.1 184.38 L591.6 184.1 L592.1 183.81 L592.6 183.51 L593.1 183.21 L593.6 182.9 L594.1 182.58 L594.6 182.25 L595.1 181.91 L595.6 181.57 L596.1 181.22 L596.6 180.85 L597.1 180.48 L597.6 180.1 L598.1 179.72 L598.6 179.32 L599.1 178.91 L599.6 178.5 L600.1 178.07 L600.6 177.64 L601.1 177.19 L601.6 176.74 L602.1 176.28 L602.6 175.81 L603.1 175.33 L603.6 174.84 L604.1 174.34 L604.6 173.83 L605.1 173.31 L605.6 172.79 L606.1 172.25 L606.6 171.7 L607.1 171.15 L607.6 170.58 L608.1 170.01 L608.6 169.43 L609.1 168.83 L609.6 168.23 L610.1 167.62 L610.6 167 L611.1 166.38 L611.6 165.74 L612.1 165.1 L612.6 164.45 L613.1 163.79 L613.6 163.12 L614.1 162.45 L614.6 161.76 L615.1 161.07 L615.6 160.38 L616.1 159.68 L616.6 158.97 L617.1 158.25 L617.6 157.53 L618.1 156.8 L618.6 156.07 L619.1 155.34 L619.6 154.59 L620.1 153.85 L620.6 153.1 L621.1 152.35 L621.6 151.6 L622.1 150.84 L622.6 150.08 L623.1 149.32 L623.6 148.56 L624.1 147.8 L624.6 147.04 L625.1 146.29 L625.6 145.53 L626.1 144.78 L626.6 144.02 L627.1 143.28 L627.6 142.54 L628.1 141.8 L628.6 141.07 L629.1 140.35 L629.6 139.64 L630.1 138.93 L630.6 138.24 L631.1 137.56 L631.6 136.88 L632.1 136.23 L632.6 135.58 L633.1 134.96 L633.6 134.35 L634.1 133.75 L634.6 133.18 L635.1 132.63 L635.6 132.09 L636.1 131.58 L636.6 131.1 L637.1 130.64 L637.6 130.2 L638.1 129.79 L638.6 129.41 L639.1 129.06 L639.6 128.73 L640.1 128.44 L640.6 128.18 L641.1 127.95 L641.6 127.75 L642.1 127.59 L642.6 127.46 L643.1 127.37 L643.6 127.3 L644.1 127.28 L644.6 127.29 L645.1 127.34 L645.6 127.45 L646.1 127.59 L646.6 127.78 L647.1 128.01 L647.6 128.29 L648.1 128.61 L648.6 128.98 L649.1 129.38 L649.6 129.82 L650.1 130.31 L650.6 130.83 L651.1 131.38 L651.6 131.98 L652.1 132.6 L652.6 133.26 L653.1 133.95 L653.6 134.67 L654.1 135.41 L654.6 136.19 L655.1 136.98 L655.6 137.8 L656.1 138.64 L656.6 139.5 L657.1 140.37 L657.6 141.27 L658.1 142.17 L658.6 143.09 L659.1 144.01 L659.6 144.95 L660.1 145.89 L660.6 146.84 L661.1 147.79 L661.6 148.74 L662.1 149.69 L662.6 150.64 L663.1 151.59 L663.6 152.54 L664.1 153.48 L664.6 154.41 L665.1 155.33 L665.6 156.25 L666.1 157.16 L666.6 158.06 L667.1 158.94 L667.6 159.81 L668.1 160.67 L668.6 161.52 L669.1 162.35 L669.6 163.16 L670.1 163.96 L670.6 164.74 L671.1 165.51 L671.6 166.26 L672.1 166.99 L672.6 167.71 L673.1 168.41 L673.6 169.09 L674.1 169.75 L674.6 170.39 L675.1 171.02 L675.6 171.63 L676.1 172.22 L676.6 172.8 L677.1 173.36 L677.6 173.9 L678.1 174.42 L678.6 174.93 L679.1 175.42 L679.6 175.89 L680.1 176.35 L680.6 176.8 L681.1 177.23 L681.6 177.65 L682.1 178.05 L682.6 178.44 L683.1 178.81 L683.6 179.17 L684.1 179.52 L684.6 179.86 L685.1 180.19 L685.6 180.5 L686.1 180.81 L686.6 181.1 L687.1 181.39 L687.6 181.66 L688.1 181.92 L688.6 182.18 L689.1 182.43 L689.6 182.67 L690.1 182.9 L690.6 183.12 L691.1 183.34 L691.6 183.55 L692.1 183.75 L692.6 183.95 L693.1 184.14 L693.6 184.33 L694.1 184.51 L694.6 184.68 L695.1 184.85 L695.6 185.02 L696.1 185.18 L696.6 185.33 L697.1 185.48 L697.6 185.63 L698.1 185.78 L698.6 185.92 L699.1 186.05 L699.6 186.19 L700.1 186.32 L700.6 186.44 L701.1 186.57 L701.6 186.69 L702.1 186.81 L702.6 186.92 L703.1 187.04 L703.6 187.15 L704.1 187.26 L704.6 187.37 L705.1 187.47 L705.6 187.57 L706.1 187.68 L706.6 187.77 L707.1 187.87 L707.6 187.97 L708.1 188.06 L708.6 188.15 L709.1 188.24 L709.6 188.33 L710.1 188.42 L710.6 188.51 L711.1 188.59 L711.6 188.68 L712.1 188.76 L712.6 188.84 L713.1 188.92 L713.6 189 L714.1 189.07 L714.6 189.15 L715.1 189.22 L715.6 189.3 L716.1 189.37 L716.6 189.44 L717.1 189.51 L717.6 189.58 L718.1 189.65 L718.6 189.71 L719.1 189.78 L719.6 189.85 L720.1 189.91 L720.6 189.97 L721.1 190.04 L721.6 190.1 L722.1 190.16 L722.6 190.22 L723.1 190.28 L723.6 190.34 L724.1 190.39 L724.6 190.45 L725.1 190.51 L725.6 190.56 L726.1 190.62 L726.6 190.67 L727.1 190.72 L727.6 190.78 L728.1 190.83 L728.6 190.88 L729.1 190.93 L729.6 190.98 L730.1 191.03 L730.6 191.08 L731.1 191.12 L731.6 191.17 L732.1 191.22 L732.6 191.26 L733.1 191.31 L733.6 191.36 L734.1 191.4 L734.6 191.44 L735.1 191.49 L735.6 191.53 L736.1 191.57 L736.6 191.61 L737.1 191.65 L737.6 191.69 L738.1 191.73 L738.6 191.77 L739.1 191.81 L739.6 191.85 L740.1 191.89 L740.6 191.93 L741.1 191.97 L741.6 192 L742.1 192.04 L742.6 192.07 L743.1 192.11 L743.6 192.15 L744.1 192.18 L744.6 192.21 L745.1 192.25 L745.6 192.28 L746.1 192.31 L746.6 192.35 L747.1 192.38 L747.6 192.41 L748.1 192.44 L748.6 192.48 L749.1 192.51 L749.6 192.54 L750.1 192.57 L750.6 192.6 L751.1 192.63 L751.6 192.66 L752.1 192.69 L752.6 192.71 L753.1 192.74 L753.6 192.77 L754.1 192.8 L754.6 192.83 L755.1 192.85 L755.6 192.88 L756.1 192.91 L756.6 192.93 L757.1 192.96 L757.6 192.98 L758.1 193.01 L758.6 193.04 L759.1 193.06 L759.6 193.09 L760.1 193.11 L760.6 193.13 L761.1 193.16 L761.6 193.18 L762.1 193.21 L762.6 193.23 L763.1 193.25 L763.6 193.28 L764.1 193.3 L764.6 193.32 L765.1 193.34 L765.6 193.36 L766.1 193.39 L766.6 193.41 L767.1 193.43 L767.6 193.45 L768.1 193.47 L768.6 193.49 L769.1 193.51 L769.6 193.53 L770.1 193.55 L770.6 193.57 L771.1 193.59 L771.6 193.61 L772.1 193.63 L772.6 193.65 L773.1 193.67 L773.6 193.69 L774.1 193.71 L774.6 193.73 L775.1 193.74 L775.6 193.76 L776.1 193.78 L776.6 193.8 L777.1 193.82 L777.6 193.83 L778.1 193.85 L778.6 193.87 L779.1 193.89 L779.6 193.9 L780.1 193.92 L780.6 193.94 L781.1 193.95 L781.6 193.97" fill="none" stroke="#e8242c" stroke-width="1.5" stroke-linejoin="round" />
<rect x="567.5" y="32.5" width="214.5" height="172.5" fill="none" stroke="#3a3a3a" stroke-width="1.5"/>
<line x1="585.38" y1="205" x2="585.38" y2="203.2" stroke="#3a3a3a" stroke-width="1" />
<line x1="603.25" y1="205" x2="603.25" y2="202" stroke="#3a3a3a" stroke-width="1" />
<line x1="621.12" y1="205" x2="621.12" y2="203.2" stroke="#3a3a3a" stroke-width="1" />
<line x1="639" y1="205" x2="639" y2="202" stroke="#3a3a3a" stroke-width="1" />
<line x1="656.88" y1="205" x2="656.88" y2="203.2" stroke="#3a3a3a" stroke-width="1" />
<line x1="674.75" y1="205" x2="674.75" y2="202" stroke="#3a3a3a" stroke-width="1" />
<line x1="692.62" y1="205" x2="692.62" y2="203.2" stroke="#3a3a3a" stroke-width="1" />
<line x1="710.5" y1="205" x2="710.5" y2="202" stroke="#3a3a3a" stroke-width="1" />
<line x1="728.38" y1="205" x2="728.38" y2="203.2" stroke="#3a3a3a" stroke-width="1" />
<line x1="746.25" y1="205" x2="746.25" y2="202" stroke="#3a3a3a" stroke-width="1" />
<line x1="764.12" y1="205" x2="764.12" y2="203.2" stroke="#3a3a3a" stroke-width="1" />
<line x1="567.5" y1="194.75" x2="570.5" y2="194.75" stroke="#3a3a3a" stroke-width="1" />
<line x1="567.5" y1="183.92" x2="569.3" y2="183.92" stroke="#3a3a3a" stroke-width="1" />
<line x1="567.5" y1="173.09" x2="570.5" y2="173.09" stroke="#3a3a3a" stroke-width="1" />
<line x1="567.5" y1="162.25" x2="569.3" y2="162.25" stroke="#3a3a3a" stroke-width="1" />
<line x1="567.5" y1="151.42" x2="570.5" y2="151.42" stroke="#3a3a3a" stroke-width="1" />
<line x1="567.5" y1="140.59" x2="569.3" y2="140.59" stroke="#3a3a3a" stroke-width="1" />
<line x1="567.5" y1="129.75" x2="570.5" y2="129.75" stroke="#3a3a3a" stroke-width="1" />
<line x1="567.5" y1="118.92" x2="569.3" y2="118.92" stroke="#3a3a3a" stroke-width="1" />
<line x1="567.5" y1="108.09" x2="570.5" y2="108.09" stroke="#3a3a3a" stroke-width="1" />
<line x1="567.5" y1="97.26" x2="569.3" y2="97.26" stroke="#3a3a3a" stroke-width="1" />
<line x1="567.5" y1="86.43" x2="570.5" y2="86.43" stroke="#3a3a3a" stroke-width="1" />
<line x1="567.5" y1="75.59" x2="569.3" y2="75.59" stroke="#3a3a3a" stroke-width="1" />
<line x1="567.5" y1="64.76" x2="570.5" y2="64.76" stroke="#3a3a3a" stroke-width="1" />
<line x1="567.5" y1="53.93" x2="569.3" y2="53.93" stroke="#3a3a3a" stroke-width="1" />
<line x1="567.5" y1="43.09" x2="570.5" y2="43.09" stroke="#3a3a3a" stroke-width="1" />
<text transform="translate(567.5 219.6) scale(1 1.08)" x="0" y="0" font-size="13.2" fill="#1a1a1a" text-anchor="middle">300</text>
<text transform="translate(603.25 219.6) scale(1 1.08)" x="0" y="0" font-size="13.2" fill="#1a1a1a" text-anchor="middle">350</text>
<text transform="translate(639 219.6) scale(1 1.08)" x="0" y="0" font-size="13.2" fill="#1a1a1a" text-anchor="middle">400</text>
<text transform="translate(674.75 219.6) scale(1 1.08)" x="0" y="0" font-size="13.2" fill="#1a1a1a" text-anchor="middle">450</text>
<text transform="translate(710.5 219.6) scale(1 1.08)" x="0" y="0" font-size="13.2" fill="#1a1a1a" text-anchor="middle">500</text>
<text transform="translate(746.25 219.6) scale(1 1.08)" x="0" y="0" font-size="13.2" fill="#1a1a1a" text-anchor="middle">550</text>
<text transform="translate(782 219.6) scale(1 1.08)" x="0" y="0" font-size="13.2" fill="#1a1a1a" text-anchor="middle">600</text>
<text transform="translate(563.5 199.25) scale(1 1.08)" x="0" y="0" font-size="13.2" fill="#1a1a1a" text-anchor="end">0.0</text>
<text transform="translate(563.5 177.59) scale(1 1.08)" x="0" y="0" font-size="13.2" fill="#1a1a1a" text-anchor="end">0.5</text>
<text transform="translate(563.5 155.92) scale(1 1.08)" x="0" y="0" font-size="13.2" fill="#1a1a1a" text-anchor="end">1.0</text>
<text transform="translate(563.5 134.25) scale(1 1.08)" x="0" y="0" font-size="13.2" fill="#1a1a1a" text-anchor="end">1.5</text>
<text transform="translate(563.5 112.59) scale(1 1.08)" x="0" y="0" font-size="13.2" fill="#1a1a1a" text-anchor="end">2.0</text>
<text transform="translate(563.5 90.93) scale(1 1.08)" x="0" y="0" font-size="13.2" fill="#1a1a1a" text-anchor="end">2.5</text>
<text transform="translate(563.5 69.26) scale(1 1.08)" x="0" y="0" font-size="13.2" fill="#1a1a1a" text-anchor="end">3.0</text>
<text transform="translate(563.5 47.59) scale(1 1.08)" x="0" y="0" font-size="13.2" fill="#1a1a1a" text-anchor="end">3.5</text>
<text x="675.2" y="241.2" font-size="14.5" font-weight="bold" fill="#000" text-anchor="middle" >wavelength (nm)</text>
<text x="538.9" y="111.3" font-size="13.6" font-weight="bold" fill="#000" text-anchor="middle" transform="rotate(-90 538.9 111.3)">Absorbance</text>
<line x1="629.5" y1="43.8" x2="658.3" y2="43.8" stroke="#3d6db3" stroke-width="1.5" />
<line x1="629.5" y1="59.8" x2="658.3" y2="59.8" stroke="#e8242c" stroke-width="1.5" />
<text x="661.2" y="48.8" font-size="13.2" font-weight="bold" fill="#000" text-anchor="start" >50 ppm Cu-Ag BNPs</text>
<text x="661.2" y="64" font-size="13.2" font-weight="bold" fill="#000" text-anchor="start" >25 ppm Cu-Ag BNPs</text>
<text x="4.5" y="256.5" font-size="22.5" font-weight="bold" fill="#000" text-anchor="start" >d</text>
<path d="M38.9 358.55 L39.51 359.11 L40.12 359.23 L40.73 358.39 L41.34 357.86 L41.95 358.27 L42.56 358.36 L43.17 358.47 L43.78 357.27 L44.39 357.08 L45 357.82 L45.65 357.5 L46.3 357.77 L46.95 357.31 L47.6 356.61 L48.25 356.33 L48.9 357.4 L49.55 355.9 L50.2 355.47 L50.85 355.1 L51.5 355.4 L53 353 L53.8 350.5 L55.2 356 L56.6 370.34 L57.25 370.4 L57.89 370.22 L58.54 370.39 L59.18 370.58 L59.83 370.8 L60.48 371.02 L61.12 370.66 L61.77 369.8 L62.42 370.96 L63.06 370.05 L63.71 370.65 L64.35 370.1 L65 370.8 L65.62 370.41 L66.25 370.82 L66.88 372.17 L67.5 370.63 L68.12 370.99 L68.75 369.98 L69.38 370.41 L70 370.5 L71.5 368 L72.5 367.5 L73.5 370.3 L74.14 369.89 L74.79 370.02 L75.43 369.83 L76.07 369.26 L76.71 369.9 L77.36 369.21 L78 369.5 L80 368.2 L82 367.5 L83.6 368.8 L84.6 370 L84.9 324.5 L85.3 324.5 L85.8 373 L86.8 375.44 L87.45 374.11 L88.1 374.38 L88.75 373.81 L89.4 373.98 L90.05 373.02 L90.7 373.47 L91.35 372.71 L92 372.5 L94 371.5 L94.4 367.2 L95 371.5 L98 371 L99.5 370.3 L101 372 L102.5 370.5 L103.1 369.4 L104.2 372 L105.6 380.77 L106.22 380.53 L106.83 380.36 L107.45 380 L108.07 380.75 L108.68 380.66 L109.3 381.24 L109.92 380.38 L110.53 380.85 L111.15 380.88 L111.77 380.83 L112.38 380.84 L113 380.88 L113.6 380.38 L114.2 380.04 L114.8 380.17 L115.4 380.47 L116 380.73 L116.6 380.34 L117.2 380.22 L117.8 379.95 L118.4 379.76 L119 379.38 L119.6 379.5 L120.2 379.8 L120.8 378.7 L121.4 378.39 L122 379.43 L122.6 378.51 L123.2 378.69 L123.8 378.49 L124.4 377.44 L125 378.9 L125.6 378.5 L126.2 377.67 L126.8 377.83 L127.4 377.44 L128 376.88 L128.6 377.13 L129.2 377.24 L129.8 377.47 L130.4 377.18 L131 376.79 L131.6 377.27 L132.2 376.21 L132.8 376.8 L133.4 376.84 L134 376.11 L134.6 375.33 L135.2 375.62 L135.8 376.03 L136.4 376.06 L137 376.42 L137.6 375.16 L138.2 375.51 L138.8 375.7 L139.4 375.23 L140 374.13 L140.6 375.48 L141.2 376.08 L141.8 375.41 L142.4 374.47 L143 374.61 L143.6 374.82 L144.2 375.76 L144.8 374.84 L145.4 374.53 L146 375.1 L146.6 374.28 L147.2 375.08 L147.8 373.85 L148.4 373.87 L149 374.32 L149.6 374.56 L150.2 374.13 L150.8 373.9 L151.4 372.86 L152 373.28 L152.6 373.25 L153.2 373.2 L153.8 373.62 L154.4 373.13 L155 373.55 L155.61 373.14 L156.22 372.85 L156.83 372.95 L157.44 372.99 L158.06 373.09 L158.67 372.39 L159.28 372.4 L159.89 371.79 L160.5 373.02 L161.11 372.85 L161.72 372.02 L162.33 371.78 L162.94 371.34 L163.56 371.88 L164.17 371.79 L164.78 372.58 L165.39 371.61 L166 371.05 L166.6 370.27 L167.2 371.98 L167.8 371.41 L168.4 370.57 L169 371.35 L169.6 370.52 L170.2 372.78 L170.8 371.69 L171.4 371.42 L172 371.05 L172.6 370.14 L173.2 371.02 L173.8 370.35 L174.4 371.29 L175 370.04 L175.7 370.35 L176.4 371.07 L177.1 371.02 L177.8 369.51 L178.5 369.8 L179 366 L179.6 369.91 L180.23 370.84 L180.86 370.67 L181.49 369.68 L182.11 369.66 L182.74 369.5 L183.37 369.12 L184 369.5 L185.1 363.6 L185.8 369 L187.5 371.5 L189.3 372.7 L190.8 375.5 L191.6 380 L192.8 380.5 L193.2 317.7 L193.7 317.7 L194.3 380.8 L195.1 381.09 L195.78 382.45 L196.47 382.68 L197.15 383.78 L197.83 383.29 L198.52 383.76 L199.2 384.3 L199.9 384 L200.4 354.3 L200.8 354.3 L201.4 386.5 L202.4 387.46 L203.03 387.82 L203.67 387.26 L204.3 387.03 L204.93 388.11 L205.57 388.42 L206.2 388.13 L206.83 388.32 L207.47 387.81 L208.1 387.35 L208.73 387.69 L209.37 387.46 L210 387.1 L210.61 386.81 L211.23 386.88 L211.84 387.51 L212.46 387.55 L213.07 387.24 L213.69 388.07 L214.3 387.48 L214.91 387.63 L215.53 387.89 L216.14 386.95 L216.76 386.4 L217.37 387.6 L217.99 386.92 L218.6 387.2 L219.2 383.5 L219.7 382 L220.2 386.5 L221 388.3 L223.4 389.3 L224.2 384 L224.6 372.4 L225.1 384 L225.6 376 L226.1 363.7 L226.7 380 L227.3 392.5 L228 396.39 L228.64 395.88 L229.27 396.11 L229.91 395.93 L230.55 394.57 L231.18 395.76 L231.82 395.06 L232.45 394.95 L233.09 395.02 L233.73 395.49 L234.36 395.47 L235 395 L237.1 393.2 L239.2 391.6 L239.8 396 L241.3 411.5 L242.3 412 L242.8 276.4 L243.4 276.4 L244 413.96 L244.6 412.82 L245.2 413.37 L245.8 412.64 L246.4 413.73 L247 414.12 L247.6 413.58 L248.2 414.1 L248.8 414.16 L249.4 414.58 L250 413.83 L250.63 413.84 L251.26 413.88 L251.89 415.03 L252.53 414.74 L253.16 414.21 L253.79 414.38 L254.42 414.34 L255.05 414.39 L255.68 414.22 L256.31 414.17 L256.94 413.77 L257.58 414.06 L258.21 415.11 L258.84 414.62 L259.47 414.42 L260.1 414.4" fill="none" stroke="#e0b063" stroke-width="1.6" stroke-linejoin="round" />
<rect x="38.9" y="252.6" width="221.3" height="178" fill="none" stroke="#3a3a3a" stroke-width="1.5"/>
<line x1="240.08" y1="430.6" x2="240.08" y2="429" stroke="#3a3a3a" stroke-width="1" />
<line x1="219.96" y1="430.6" x2="219.96" y2="427.6" stroke="#3a3a3a" stroke-width="1" />
<line x1="199.85" y1="430.6" x2="199.85" y2="429" stroke="#3a3a3a" stroke-width="1" />
<line x1="179.73" y1="430.6" x2="179.73" y2="427.6" stroke="#3a3a3a" stroke-width="1" />
<line x1="159.61" y1="430.6" x2="159.61" y2="429" stroke="#3a3a3a" stroke-width="1" />
<line x1="139.49" y1="430.6" x2="139.49" y2="427.6" stroke="#3a3a3a" stroke-width="1" />
<line x1="119.37" y1="430.6" x2="119.37" y2="429" stroke="#3a3a3a" stroke-width="1" />
<line x1="99.25" y1="430.6" x2="99.25" y2="427.6" stroke="#3a3a3a" stroke-width="1" />
<line x1="79.14" y1="430.6" x2="79.14" y2="429" stroke="#3a3a3a" stroke-width="1" />
<line x1="59.02" y1="430.6" x2="59.02" y2="427.6" stroke="#3a3a3a" stroke-width="1" />
<text transform="translate(260.2 444.8) scale(1 1.08)" x="0" y="0" font-size="12.8" fill="#1a1a1a" text-anchor="middle">200</text>
<text transform="translate(219.96 444.8) scale(1 1.08)" x="0" y="0" font-size="12.8" fill="#1a1a1a" text-anchor="middle">400</text>
<text transform="translate(179.73 444.8) scale(1 1.08)" x="0" y="0" font-size="12.8" fill="#1a1a1a" text-anchor="middle">600</text>
<text transform="translate(139.49 444.8) scale(1 1.08)" x="0" y="0" font-size="12.8" fill="#1a1a1a" text-anchor="middle">800</text>
<text transform="translate(99.25 444.8) scale(1 1.08)" x="0" y="0" font-size="12.8" fill="#1a1a1a" text-anchor="middle">1000</text>
<text transform="translate(59.02 444.8) scale(1 1.08)" x="0" y="0" font-size="12.8" fill="#1a1a1a" text-anchor="middle">1200</text>
<text x="149.7" y="467" font-size="14.3" font-weight="bold" fill="#000" text-anchor="middle" >Binding Energy (eV)</text>
<text x="24.3" y="336.2" font-size="14.3" font-weight="bold" fill="#000" text-anchor="middle" transform="rotate(-90 24.3 336.2)">Intensity (a.u.)</text>
<text x="105.3" y="369.4" font-size="13.4" font-weight="normal" fill="#111" text-anchor="start" >Cu2p</text>
<text x="210.5" y="357.1" font-size="13.7" font-weight="normal" fill="#111" text-anchor="start" >Ag3d</text>
<text x="231.8" y="273.9" font-size="13.6" font-weight="normal" fill="#111" text-anchor="start" letter-spacing="0.9">C1s</text>
<text x="275.8" y="256.2" font-size="22.5" font-weight="bold" fill="#000" text-anchor="start" >e</text>
<path d="M302.5 401.9 L302.78 401.9 L303.05 401.9 L303.33 401.9 L303.6 401.9 L303.88 401.9 L304.15 401.9 L304.43 401.9 L304.7 401.9 L304.98 401.9 L305.25 401.9 L305.53 401.9 L305.8 401.9 L306.08 401.9 L306.35 401.9 L306.63 401.9 L306.9 401.9 L307.18 401.9 L307.45 401.9 L307.73 401.9 L308 401.89 L308.28 401.89 L308.55 401.89 L308.83 401.89 L309.1 401.89 L309.38 401.89 L309.65 401.89 L309.93 401.89 L310.2 401.89 L310.48 401.89 L310.75 401.89 L311.03 401.89 L311.3 401.89 L311.58 401.89 L311.85 401.89 L312.13 401.88 L312.4 401.88 L312.68 401.88 L312.95 401.88 L313.23 401.88 L313.5 401.88 L313.78 401.88 L314.06 401.88 L314.33 401.88 L314.61 401.87 L314.88 401.87 L315.16 401.87 L315.43 401.87 L315.71 401.87 L315.98 401.87 L316.26 401.87 L316.53 401.87 L316.81 401.86 L317.08 401.86 L317.36 401.86 L317.63 401.86 L317.91 401.86 L318.18 401.86 L318.46 401.85 L318.73 401.85 L319.01 401.85 L319.28 401.85 L319.56 401.85 L319.83 401.85 L320.11 401.84 L320.38 401.84 L320.66 401.84 L320.93 401.84 L321.21 401.84 L321.48 401.83 L321.76 401.83 L322.03 401.83 L322.31 401.83 L322.58 401.83 L322.86 401.82 L323.13 401.82 L323.41 401.82 L323.68 401.82 L323.96 401.82 L324.23 401.81 L324.51 401.81 L324.79 401.81 L325.06 401.81 L325.34 401.8 L325.61 401.8 L325.89 401.8 L326.16 401.8 L326.44 401.79 L326.71 401.79 L326.99 401.79 L327.26 401.79 L327.54 401.78 L327.81 401.78 L328.09 401.78 L328.36 401.77 L328.64 401.77 L328.91 401.77 L329.19 401.77 L329.46 401.76 L329.74 401.76 L330.01 401.76 L330.29 401.75 L330.56 401.75 L330.84 401.75 L331.11 401.74 L331.39 401.74 L331.66 401.74 L331.94 401.73 L332.21 401.73 L332.49 401.73 L332.76 401.72 L333.04 401.72 L333.31 401.72 L333.59 401.71 L333.86 401.71 L334.14 401.71 L334.41 401.7 L334.69 401.7 L334.96 401.69 L335.24 401.69 L335.51 401.69 L335.79 401.68 L336.07 401.68 L336.34 401.67 L336.62 401.67 L336.89 401.67 L337.17 401.66 L337.44 401.66 L337.72 401.65 L337.99 401.65 L338.27 401.65 L338.54 401.64 L338.82 401.64 L339.09 401.63 L339.37 401.63 L339.64 401.62 L339.92 401.62 L340.19 401.61 L340.47 401.61 L340.74 401.6 L341.02 401.6 L341.29 401.59 L341.57 401.58 L341.84 401.57 L342.12 401.55 L342.39 401.53 L342.67 401.51 L342.94 401.48 L343.22 401.45 L343.49 401.42 L343.77 401.38 L344.04 401.35 L344.32 401.31 L344.59 401.26 L344.87 401.22 L345.14 401.17 L345.42 401.13 L345.69 401.08 L345.97 401.03 L346.24 400.98 L346.52 400.93 L346.8 400.87 L347.07 400.82 L347.35 400.76 L347.62 400.71 L347.9 400.65 L348.17 400.6 L348.45 400.54 L348.72 400.49 L349 400.43 L349.27 400.38 L349.55 400.32 L349.82 400.27 L350.1 400.22 L350.37 400.16 L350.65 400.11 L350.92 400.07 L351.2 400.02 L351.47 399.97 L351.75 399.93 L352.02 399.89 L352.3 399.85 L352.57 399.81 L352.85 399.77 L353.12 399.74 L353.4 399.71 L353.67 399.68 L353.95 399.66 L354.22 399.63 L354.5 399.62 L354.77 399.6 L355.05 399.59 L355.32 399.57 L355.6 399.56 L355.87 399.55 L356.15 399.54 L356.42 399.52 L356.7 399.51 L356.97 399.5 L357.25 399.49 L357.52 399.47 L357.8 399.46 L358.08 399.45 L358.35 399.44 L358.63 399.43 L358.9 399.41 L359.18 399.4 L359.45 399.39 L359.73 399.38 L360 399.37 L360.28 399.36 L360.55 399.35 L360.83 399.34 L361.1 399.33 L361.38 399.32 L361.65 399.31 L361.93 399.3 L362.2 399.29 L362.48 399.28 L362.75 399.27 L363.03 399.26 L363.3 399.25 L363.58 399.24 L363.85 399.23 L364.13 399.22 L364.4 399.21 L364.68 399.2 L364.95 399.19 L365.23 399.18 L365.5 399.17 L365.78 399.16 L366.05 399.15 L366.33 399.14 L366.6 399.14 L366.88 399.13 L367.15 399.12 L367.43 399.11 L367.7 399.1 L367.98 399.09 L368.25 399.09 L368.53 399.08 L368.81 399.07 L369.08 399.06 L369.36 399.05 L369.63 399.05 L369.91 399.04 L370.18 399.03 L370.46 399.02 L370.73 399.02 L371.01 399.01 L371.28 399 L371.56 398.99 L371.83 398.99 L372.11 398.98 L372.38 398.97 L372.66 398.97 L372.93 398.96 L373.21 398.95 L373.48 398.95 L373.76 398.94 L374.03 398.93 L374.31 398.93 L374.58 398.92 L374.86 398.91 L375.13 398.91 L375.41 398.9 L375.68 398.89 L375.96 398.89 L376.23 398.88 L376.51 398.88 L376.78 398.87 L377.06 398.86 L377.33 398.86 L377.61 398.85 L377.88 398.85 L378.16 398.84 L378.43 398.83 L378.71 398.83 L378.98 398.82 L379.26 398.82 L379.54 398.81 L379.81 398.81 L380.09 398.8 L380.36 398.8 L380.64 398.79 L380.91 398.79 L381.19 398.78 L381.46 398.78 L381.74 398.77 L382.01 398.77 L382.29 398.76 L382.56 398.76 L382.84 398.75 L383.11 398.75 L383.39 398.74 L383.66 398.74 L383.94 398.73 L384.21 398.73 L384.49 398.72 L384.76 398.72 L385.04 398.71 L385.31 398.71 L385.59 398.7 L385.86 398.7 L386.14 398.69 L386.41 398.69 L386.69 398.68 L386.96 398.68 L387.24 398.68 L387.51 398.67 L387.79 398.67 L388.06 398.66 L388.34 398.66 L388.61 398.65 L388.89 398.65 L389.16 398.64 L389.44 398.64 L389.71 398.64 L389.99 398.63 L390.26 398.63 L390.54 398.62 L390.82 398.62 L391.09 398.61 L391.37 398.61 L391.64 398.61 L391.92 398.6 L392.19 398.6 L392.47 398.59 L392.74 398.59 L393.02 398.58 L393.29 398.58 L393.57 398.58 L393.84 398.57 L394.12 398.57 L394.39 398.56 L394.67 398.56 L394.94 398.55 L395.22 398.55 L395.49 398.55 L395.77 398.54 L396.04 398.54 L396.32 398.53 L396.59 398.53 L396.87 398.53 L397.14 398.52 L397.42 398.52 L397.69 398.51 L397.97 398.51 L398.24 398.5 L398.52 398.5 L398.79 398.49 L399.07 398.49 L399.34 398.49 L399.62 398.48 L399.89 398.48 L400.17 398.47 L400.44 398.47 L400.72 398.46 L400.99 398.46 L401.27 398.45 L401.55 398.45 L401.82 398.45 L402.1 398.44 L402.37 398.44 L402.65 398.43 L402.92 398.43 L403.2 398.42 L403.47 398.42 L403.75 398.41 L404.02 398.41 L404.3 398.4 L404.57 398.4 L404.85 398.39 L405.12 398.39 L405.4 398.38 L405.67 398.38 L405.95 398.37 L406.22 398.37 L406.5 398.36 L406.77 398.36 L407.05 398.35 L407.32 398.35 L407.6 398.34 L407.87 398.34 L408.15 398.33 L408.42 398.33 L408.7 398.32 L408.97 398.32 L409.25 398.31 L409.52 398.3 L409.8 398.3 L410.07 398.29 L410.35 398.29 L410.62 398.28 L410.9 398.28 L411.17 398.27 L411.45 398.26 L411.72 398.26 L412 398.25 L412.27 398.24 L412.55 398.24 L412.83 398.23 L413.1 398.23 L413.38 398.22 L413.65 398.21 L413.93 398.21 L414.2 398.2 L414.48 398.19 L414.75 398.19 L415.03 398.18 L415.3 398.17 L415.58 398.17 L415.85 398.16 L416.13 398.15 L416.4 398.14 L416.68 398.14 L416.95 398.13 L417.23 398.12 L417.5 398.12 L417.78 398.11 L418.05 398.1 L418.33 398.09 L418.6 398.08 L418.88 398.08 L419.15 398.07 L419.43 398.06 L419.7 398.05 L419.98 398.05 L420.25 398.04 L420.53 398.03 L420.8 398.03 L421.08 398.02 L421.35 398.01 L421.63 398 L421.9 398 L422.18 397.99 L422.45 397.98 L422.73 397.97 L423 397.97 L423.28 397.96 L423.56 397.95 L423.83 397.94 L424.11 397.94 L424.38 397.93 L424.66 397.92 L424.93 397.91 L425.21 397.91 L425.48 397.9 L425.76 397.89 L426.03 397.89 L426.31 397.88 L426.58 397.87 L426.86 397.86 L427.13 397.85 L427.41 397.85 L427.68 397.84 L427.96 397.83 L428.23 397.82 L428.51 397.82 L428.78 397.81 L429.06 397.8 L429.33 397.79 L429.61 397.78 L429.88 397.78 L430.16 397.77 L430.43 397.76 L430.71 397.75 L430.98 397.74 L431.26 397.73 L431.53 397.72 L431.81 397.72 L432.08 397.71 L432.36 397.7 L432.63 397.69 L432.91 397.68 L433.18 397.67 L433.46 397.66 L433.73 397.65 L434.01 397.64 L434.28 397.63 L434.56 397.62 L434.84 397.61 L435.11 397.6 L435.39 397.59 L435.66 397.58 L435.94 397.57 L436.21 397.56 L436.49 397.55 L436.76 397.54 L437.04 397.53 L437.31 397.52 L437.59 397.51 L437.86 397.5 L438.14 397.48 L438.41 397.47 L438.69 397.46 L438.96 397.45 L439.24 397.44 L439.51 397.42 L439.79 397.41 L440.06 397.4 L440.34 397.39 L440.61 397.37 L440.89 397.36 L441.16 397.34 L441.44 397.33 L441.71 397.31 L441.99 397.29 L442.26 397.28 L442.54 397.26 L442.81 397.24 L443.09 397.22 L443.36 397.2 L443.64 397.18 L443.91 397.16 L444.19 397.14 L444.46 397.11 L444.74 397.09 L445.01 397.07 L445.29 397.05 L445.56 397.02 L445.84 397 L446.12 396.97 L446.39 396.95 L446.67 396.92 L446.94 396.9 L447.22 396.87 L447.49 396.84 L447.77 396.82 L448.04 396.79 L448.32 396.76 L448.59 396.73 L448.87 396.71 L449.14 396.68 L449.42 396.65 L449.69 396.62 L449.97 396.59 L450.24 396.57 L450.52 396.54 L450.79 396.51 L451.07 396.48 L451.34 396.45 L451.62 396.42 L451.89 396.39 L452.17 396.36 L452.44 396.33 L452.72 396.31 L452.99 396.28 L453.27 396.25 L453.54 396.22 L453.82 396.19 L454.09 396.16 L454.37 396.13 L454.64 396.1 L454.92 396.08 L455.19 396.05 L455.47 396.02 L455.74 395.99 L456.02 395.96 L456.29 395.94 L456.57 395.91 L456.85 395.88 L457.12 395.86 L457.4 395.83 L457.67 395.8 L457.95 395.78 L458.22 395.75 L458.5 395.73 L458.77 395.7 L459.05 395.68 L459.32 395.66 L459.6 395.63 L459.87 395.61 L460.15 395.59 L460.42 395.57 L460.7 395.55 L460.97 395.53 L461.25 395.51 L461.52 395.49 L461.8 395.47 L462.07 395.45 L462.35 395.43 L462.62 395.41 L462.9 395.4 L463.17 395.38 L463.45 395.37 L463.72 395.35 L464 395.34 L464.27 395.32 L464.55 395.31 L464.82 395.3 L465.1 395.29 L465.37 395.28 L465.65 395.27 L465.92 395.26 L466.2 395.24 L466.47 395.23 L466.75 395.22 L467.02 395.21 L467.3 395.2 L467.58 395.19 L467.85 395.18 L468.13 395.17 L468.4 395.16 L468.68 395.15 L468.95 395.13 L469.23 395.12 L469.5 395.11 L469.78 395.1 L470.05 395.09 L470.33 395.08 L470.6 395.07 L470.88 395.06 L471.15 395.05 L471.43 395.04 L471.7 395.03 L471.98 395.02 L472.25 395.01 L472.53 395 L472.8 394.99 L473.08 394.98 L473.35 394.97 L473.63 394.95 L473.9 394.94 L474.18 394.93 L474.45 394.92 L474.73 394.91 L475 394.9 L475.28 394.89 L475.55 394.88 L475.83 394.87 L476.1 394.86 L476.38 394.85 L476.65 394.84 L476.93 394.83 L477.2 394.82 L477.48 394.81 L477.75 394.8 L478.03 394.79 L478.3 394.78 L478.58 394.77 L478.86 394.76 L479.13 394.76 L479.41 394.75 L479.68 394.74 L479.96 394.73 L480.23 394.72 L480.51 394.71 L480.78 394.7 L481.06 394.69 L481.33 394.68 L481.61 394.67 L481.88 394.66 L482.16 394.65 L482.43 394.64 L482.71 394.63 L482.98 394.62 L483.26 394.62 L483.53 394.61 L483.81 394.6 L484.08 394.59 L484.36 394.58 L484.63 394.57 L484.91 394.56 L485.18 394.55 L485.46 394.54 L485.73 394.54 L486.01 394.53 L486.28 394.52 L486.56 394.51 L486.83 394.5 L487.11 394.49 L487.38 394.49 L487.66 394.48 L487.93 394.47 L488.21 394.46 L488.48 394.45 L488.76 394.44 L489.03 394.44 L489.31 394.43 L489.59 394.42 L489.86 394.41 L490.14 394.4 L490.41 394.4 L490.69 394.39 L490.96 394.38 L491.24 394.37 L491.51 394.37 L491.79 394.36 L492.06 394.35 L492.34 394.34 L492.61 394.34 L492.89 394.33 L493.16 394.32 L493.44 394.31 L493.71 394.31 L493.99 394.3 L494.26 394.29 L494.54 394.28 L494.81 394.28 L495.09 394.27 L495.36 394.26 L495.64 394.26 L495.91 394.25 L496.19 394.24 L496.46 394.24 L496.74 394.23 L497.01 394.22 L497.29 394.22 L497.56 394.21 L497.84 394.2 L498.11 394.2 L498.39 394.19 L498.66 394.19 L498.94 394.18 L499.21 394.17 L499.49 394.17 L499.76 394.16 L500.04 394.16 L500.31 394.15 L500.59 394.14 L500.87 394.14 L501.14 394.13 L501.42 394.13 L501.69 394.12 L501.97 394.12 L502.24 394.11 L502.52 394.1 L502.79 394.1 L503.07 394.09 L503.34 394.09 L503.62 394.08 L503.89 394.08 L504.17 394.07 L504.44 394.07 L504.72 394.06 L504.99 394.06 L505.27 394.05 L505.54 394.05 L505.82 394.04 L506.09 394.04 L506.37 394.04 L506.64 394.03 L506.92 394.03 L507.19 394.02 L507.47 394.02 L507.74 394.01 L508.02 394.01 L508.29 394.01 L508.57 394 L508.84 394 L509.12 393.99 L509.39 393.99 L509.67 393.99 L509.94 393.98 L510.22 393.98 L510.49 393.98 L510.77 393.97 L511.04 393.97 L511.32 393.97 L511.6 393.96 L511.87 393.96 L512.15 393.96 L512.42 393.95 L512.7 393.95 L512.97 393.95 L513.25 393.95 L513.52 393.94 L513.8 393.94 L514.07 393.94 L514.35 393.94 L514.62 393.93 L514.9 393.93 L515.17 393.93 L515.45 393.93 L515.72 393.93 L516 393.92 L516.27 393.92 L516.55 393.92 L516.82 393.92 L517.1 393.92 L517.37 393.91 L517.65 393.91 L517.92 393.91 L518.2 393.91 L518.47 393.91 L518.75 393.91 L519.02 393.91 L519.3 393.91 L519.57 393.91 L519.85 393.9 L520.12 393.9 L520.4 393.9 L520.67 393.9 L520.95 393.9 L521.22 393.9 L521.5 393.9 L521.77 393.9 L522.05 393.9 L522.32 393.9 L522.6 393.9" fill="none" stroke="#3cb84a" stroke-width="1.4" stroke-linejoin="round" />
<path d="M302.5 400.7 L302.78 400.69 L303.05 400.67 L303.33 400.66 L303.6 400.64 L303.88 400.63 L304.15 400.61 L304.43 400.59 L304.7 400.58 L304.98 400.56 L305.25 400.54 L305.53 400.52 L305.8 400.51 L306.08 400.49 L306.35 400.47 L306.63 400.45 L306.9 400.43 L307.18 400.41 L307.45 400.39 L307.73 400.37 L308 400.34 L308.28 400.32 L308.55 400.3 L308.83 400.28 L309.1 400.25 L309.38 400.23 L309.65 400.2 L309.93 400.18 L310.2 400.15 L310.48 400.12 L310.75 400.1 L311.03 400.07 L311.3 400.04 L311.58 400.01 L311.85 399.98 L312.13 399.95 L312.4 399.92 L312.68 399.88 L312.95 399.85 L313.23 399.82 L313.5 399.78 L313.78 399.75 L314.06 399.71 L314.33 399.67 L314.61 399.63 L314.88 399.59 L315.16 399.55 L315.43 399.51 L315.71 399.47 L315.98 399.42 L316.26 399.38 L316.53 399.33 L316.81 399.28 L317.08 399.23 L317.36 399.18 L317.63 399.13 L317.91 399.08 L318.18 399.02 L318.46 398.96 L318.73 398.9 L319.01 398.84 L319.28 398.78 L319.56 398.72 L319.83 398.65 L320.11 398.58 L320.38 398.51 L320.66 398.44 L320.93 398.36 L321.21 398.29 L321.48 398.21 L321.76 398.12 L322.03 398.04 L322.31 397.95 L322.58 397.86 L322.86 397.76 L323.13 397.66 L323.41 397.56 L323.68 397.45 L323.96 397.34 L324.23 397.23 L324.51 397.11 L324.79 396.99 L325.06 396.86 L325.34 396.73 L325.61 396.59 L325.89 396.44 L326.16 396.29 L326.44 396.13 L326.71 395.97 L326.99 395.79 L327.26 395.61 L327.54 395.42 L327.81 395.22 L328.09 395.01 L328.36 394.79 L328.64 394.55 L328.91 394.3 L329.19 394.04 L329.46 393.77 L329.74 393.47 L330.01 393.16 L330.29 392.83 L330.56 392.47 L330.84 392.1 L331.11 391.7 L331.39 391.27 L331.66 390.81 L331.94 390.32 L332.21 389.79 L332.49 389.23 L332.76 388.62 L333.04 387.97 L333.31 387.28 L333.59 386.53 L333.86 385.73 L334.14 384.87 L334.41 383.95 L334.69 382.96 L334.96 381.9 L335.24 380.76 L335.51 379.54 L335.79 378.24 L336.07 376.85 L336.34 375.36 L336.62 373.77 L336.89 372.07 L337.17 370.26 L337.44 368.33 L337.72 366.29 L337.99 364.11 L338.27 361.8 L338.54 359.35 L338.82 356.75 L339.09 354.01 L339.37 351.11 L339.64 348.06 L339.92 344.86 L340.19 341.5 L340.47 337.98 L340.74 334.32 L341.02 330.53 L341.29 326.62 L341.57 322.61 L341.84 318.54 L342.12 314.45 L342.39 310.38 L342.67 306.41 L342.94 302.6 L343.22 299.04 L343.49 295.81 L343.77 293 L344.04 290.7 L344.32 288.99 L344.59 287.91 L344.87 287.52 L345.14 287.82 L345.42 288.8 L345.69 290.43 L345.97 292.64 L346.24 295.36 L346.52 298.5 L346.8 301.98 L347.07 305.71 L347.35 309.6 L347.62 313.58 L347.9 317.6 L348.17 321.6 L348.45 325.54 L348.72 329.39 L349 333.12 L349.27 336.72 L349.55 340.17 L349.82 343.47 L350.1 346.62 L350.37 349.61 L350.65 352.45 L350.92 355.14 L351.2 357.68 L351.47 360.07 L351.75 362.34 L352.02 364.46 L352.3 366.47 L352.57 368.35 L352.85 370.11 L353.12 371.77 L353.4 373.33 L353.67 374.78 L353.95 376.14 L354.22 377.42 L354.5 378.61 L354.77 379.73 L355.05 380.77 L355.32 381.74 L355.6 382.64 L355.87 383.49 L356.15 384.27 L356.42 385 L356.7 385.67 L356.97 386.31 L357.25 386.89 L357.52 387.44 L357.8 387.95 L358.08 388.42 L358.35 388.86 L358.63 389.27 L358.9 389.66 L359.18 390.02 L359.45 390.36 L359.73 390.67 L360 390.97 L360.28 391.24 L360.55 391.51 L360.83 391.75 L361.1 391.98 L361.38 392.2 L361.65 392.41 L361.93 392.6 L362.2 392.79 L362.48 392.96 L362.75 393.13 L363.03 393.29 L363.3 393.44 L363.58 393.58 L363.85 393.72 L364.13 393.85 L364.4 393.98 L364.68 394.1 L364.95 394.21 L365.23 394.32 L365.5 394.42 L365.78 394.52 L366.05 394.62 L366.33 394.71 L366.6 394.8 L366.88 394.89 L367.15 394.97 L367.43 395.05 L367.7 395.12 L367.98 395.2 L368.25 395.27 L368.53 395.33 L368.81 395.4 L369.08 395.46 L369.36 395.52 L369.63 395.58 L369.91 395.64 L370.18 395.69 L370.46 395.74 L370.73 395.79 L371.01 395.84 L371.28 395.89 L371.56 395.94 L371.83 395.98 L372.11 396.02 L372.38 396.06 L372.66 396.1 L372.93 396.14 L373.21 396.18 L373.48 396.21 L373.76 396.25 L374.03 396.28 L374.31 396.31 L374.58 396.34 L374.86 396.37 L375.13 396.4 L375.41 396.43 L375.68 396.46 L375.96 396.49 L376.23 396.51 L376.51 396.54 L376.78 396.56 L377.06 396.58 L377.33 396.6 L377.61 396.63 L377.88 396.65 L378.16 396.67 L378.43 396.69 L378.71 396.71 L378.98 396.72 L379.26 396.74 L379.54 396.76 L379.81 396.77 L380.09 396.79 L380.36 396.81 L380.64 396.82 L380.91 396.83 L381.19 396.85 L381.46 396.86 L381.74 396.87 L382.01 396.89 L382.29 396.9 L382.56 396.91 L382.84 396.92 L383.11 396.93 L383.39 396.94 L383.66 396.95 L383.94 396.96 L384.21 396.97 L384.49 396.98 L384.76 396.99 L385.04 397 L385.31 397 L385.59 397.01 L385.86 397.02 L386.14 397.02 L386.41 397.03 L386.69 397.04 L386.96 397.04 L387.24 397.05 L387.51 397.05 L387.79 397.06 L388.06 397.06 L388.34 397.07 L388.61 397.07 L388.89 397.07 L389.16 397.08 L389.44 397.08 L389.71 397.08 L389.99 397.08 L390.26 397.09 L390.54 397.09 L390.82 397.09 L391.09 397.09 L391.37 397.09 L391.64 397.09 L391.92 397.1 L392.19 397.1 L392.47 397.1 L392.74 397.1 L393.02 397.1 L393.29 397.1 L393.57 397.09 L393.84 397.09 L394.12 397.09 L394.39 397.09 L394.67 397.09 L394.94 397.09 L395.22 397.09 L395.49 397.08 L395.77 397.08 L396.04 397.08 L396.32 397.08 L396.59 397.07 L396.87 397.07 L397.14 397.07 L397.42 397.06 L397.69 397.06 L397.97 397.05 L398.24 397.05 L398.52 397.04 L398.79 397.04 L399.07 397.03 L399.34 397.03 L399.62 397.02 L399.89 397.02 L400.17 397.01 L400.44 397 L400.72 397 L400.99 396.99 L401.27 396.98 L401.55 396.98 L401.82 396.97 L402.1 396.96 L402.37 396.95 L402.65 396.94 L402.92 396.94 L403.2 396.93 L403.47 396.92 L403.75 396.91 L404.02 396.9 L404.3 396.89 L404.57 396.88 L404.85 396.87 L405.12 396.86 L405.4 396.85 L405.67 396.83 L405.95 396.82 L406.22 396.81 L406.5 396.8 L406.77 396.79 L407.05 396.77 L407.32 396.76 L407.6 396.75 L407.87 396.73 L408.15 396.72 L408.42 396.7 L408.7 396.69 L408.97 396.67 L409.25 396.66 L409.52 396.64 L409.8 396.63 L410.07 396.61 L410.35 396.59 L410.62 396.58 L410.9 396.56 L411.17 396.54 L411.45 396.52 L411.72 396.5 L412 396.48 L412.27 396.47 L412.55 396.45 L412.83 396.42 L413.1 396.4 L413.38 396.38 L413.65 396.36 L413.93 396.34 L414.2 396.32 L414.48 396.29 L414.75 396.27 L415.03 396.24 L415.3 396.22 L415.58 396.19 L415.85 396.17 L416.13 396.14 L416.4 396.11 L416.68 396.09 L416.95 396.06 L417.23 396.03 L417.5 396 L417.78 395.97 L418.05 395.94 L418.33 395.91 L418.6 395.87 L418.88 395.84 L419.15 395.81 L419.43 395.77 L419.7 395.74 L419.98 395.7 L420.25 395.67 L420.53 395.63 L420.8 395.59 L421.08 395.56 L421.35 395.52 L421.63 395.48 L421.9 395.44 L422.18 395.39 L422.45 395.35 L422.73 395.31 L423 395.26 L423.28 395.22 L423.56 395.17 L423.83 395.12 L424.11 395.07 L424.38 395.02 L424.66 394.97 L424.93 394.91 L425.21 394.86 L425.48 394.8 L425.76 394.74 L426.03 394.68 L426.31 394.62 L426.58 394.55 L426.86 394.49 L427.13 394.42 L427.41 394.35 L427.68 394.28 L427.96 394.2 L428.23 394.12 L428.51 394.04 L428.78 393.96 L429.06 393.87 L429.33 393.78 L429.61 393.69 L429.88 393.59 L430.16 393.49 L430.43 393.39 L430.71 393.28 L430.98 393.16 L431.26 393.04 L431.53 392.92 L431.81 392.79 L432.08 392.65 L432.36 392.51 L432.63 392.37 L432.91 392.21 L433.18 392.05 L433.46 391.88 L433.73 391.71 L434.01 391.52 L434.28 391.33 L434.56 391.13 L434.84 390.92 L435.11 390.69 L435.39 390.46 L435.66 390.22 L435.94 389.96 L436.21 389.7 L436.49 389.42 L436.76 389.12 L437.04 388.82 L437.31 388.5 L437.59 388.16 L437.86 387.81 L438.14 387.44 L438.41 387.06 L438.69 386.66 L438.96 386.24 L439.24 385.8 L439.51 385.35 L439.79 384.87 L440.06 384.38 L440.34 383.86 L440.61 383.32 L440.89 382.76 L441.16 382.18 L441.44 381.57 L441.71 380.94 L441.99 380.28 L442.26 379.6 L442.54 378.9 L442.81 378.17 L443.09 377.41 L443.36 376.63 L443.64 375.83 L443.91 374.99 L444.19 374.13 L444.46 373.25 L444.74 372.33 L445.01 371.39 L445.29 370.43 L445.56 369.44 L445.84 368.43 L446.12 367.39 L446.39 366.33 L446.67 365.25 L446.94 364.15 L447.22 363.03 L447.49 361.89 L447.77 360.74 L448.04 359.58 L448.32 358.41 L448.59 357.23 L448.87 356.06 L449.14 354.89 L449.42 353.73 L449.69 352.59 L449.97 351.46 L450.24 350.37 L450.52 349.31 L450.79 348.29 L451.07 347.32 L451.34 346.41 L451.62 345.57 L451.89 344.8 L452.17 344.11 L452.44 343.51 L452.72 343 L452.99 342.6 L453.27 342.3 L453.54 342.11 L453.82 342.02 L454.09 342.05 L454.37 342.19 L454.64 342.43 L454.92 342.78 L455.19 343.23 L455.47 343.78 L455.74 344.41 L456.02 345.12 L456.29 345.91 L456.57 346.77 L456.85 347.68 L457.12 348.65 L457.4 349.65 L457.67 350.7 L457.95 351.77 L458.22 352.86 L458.5 353.97 L458.77 355.09 L459.05 356.21 L459.32 357.34 L459.6 358.46 L459.87 359.57 L460.15 360.67 L460.42 361.76 L460.7 362.84 L460.97 363.9 L461.25 364.93 L461.52 365.95 L461.8 366.95 L462.07 367.92 L462.35 368.87 L462.62 369.79 L462.9 370.69 L463.17 371.57 L463.45 372.42 L463.72 373.25 L464 374.05 L464.27 374.82 L464.55 375.57 L464.82 376.3 L465.1 377 L465.37 377.68 L465.65 378.33 L465.92 378.96 L466.2 379.56 L466.47 380.15 L466.75 380.71 L467.02 381.24 L467.3 381.76 L467.58 382.25 L467.85 382.73 L468.13 383.18 L468.4 383.62 L468.68 384.03 L468.95 384.43 L469.23 384.81 L469.5 385.17 L469.78 385.52 L470.05 385.85 L470.33 386.17 L470.6 386.47 L470.88 386.75 L471.15 387.03 L471.43 387.29 L471.7 387.53 L471.98 387.77 L472.25 388 L472.53 388.21 L472.8 388.41 L473.08 388.61 L473.35 388.79 L473.63 388.97 L473.9 389.13 L474.18 389.29 L474.45 389.44 L474.73 389.58 L475 389.72 L475.28 389.85 L475.55 389.98 L475.83 390.09 L476.1 390.21 L476.38 390.31 L476.65 390.42 L476.93 390.51 L477.2 390.61 L477.48 390.7 L477.75 390.78 L478.03 390.86 L478.3 390.94 L478.58 391.02 L478.86 391.09 L479.13 391.16 L479.41 391.22 L479.68 391.28 L479.96 391.34 L480.23 391.4 L480.51 391.46 L480.78 391.51 L481.06 391.56 L481.33 391.61 L481.61 391.66 L481.88 391.71 L482.16 391.75 L482.43 391.79 L482.71 391.84 L482.98 391.88 L483.26 391.91 L483.53 391.95 L483.81 391.99 L484.08 392.02 L484.36 392.06 L484.63 392.09 L484.91 392.12 L485.18 392.15 L485.46 392.18 L485.73 392.21 L486.01 392.24 L486.28 392.26 L486.56 392.29 L486.83 392.32 L487.11 392.34 L487.38 392.36 L487.66 392.39 L487.93 392.41 L488.21 392.43 L488.48 392.45 L488.76 392.47 L489.03 392.49 L489.31 392.51 L489.59 392.53 L489.86 392.55 L490.14 392.57 L490.41 392.59 L490.69 392.6 L490.96 392.62 L491.24 392.64 L491.51 392.65 L491.79 392.67 L492.06 392.68 L492.34 392.7 L492.61 392.71 L492.89 392.72 L493.16 392.74 L493.44 392.75 L493.71 392.76 L493.99 392.77 L494.26 392.79 L494.54 392.8 L494.81 392.81 L495.09 392.82 L495.36 392.83 L495.64 392.84 L495.91 392.85 L496.19 392.86 L496.46 392.87 L496.74 392.88 L497.01 392.89 L497.29 392.9 L497.56 392.91 L497.84 392.92 L498.11 392.93 L498.39 392.93 L498.66 392.94 L498.94 392.95 L499.21 392.96 L499.49 392.96 L499.76 392.97 L500.04 392.98 L500.31 392.99 L500.59 392.99 L500.87 393 L501.14 393.01 L501.42 393.01 L501.69 393.02 L501.97 393.02 L502.24 393.03 L502.52 393.04 L502.79 393.04 L503.07 393.05 L503.34 393.05 L503.62 393.06 L503.89 393.06 L504.17 393.07 L504.44 393.07 L504.72 393.08 L504.99 393.08 L505.27 393.09 L505.54 393.09 L505.82 393.1 L506.09 393.1 L506.37 393.11 L506.64 393.11 L506.92 393.12 L507.19 393.12 L507.47 393.13 L507.74 393.13 L508.02 393.13 L508.29 393.14 L508.57 393.14 L508.84 393.15 L509.12 393.15 L509.39 393.15 L509.67 393.16 L509.94 393.16 L510.22 393.17 L510.49 393.17 L510.77 393.17 L511.04 393.18 L511.32 393.18 L511.6 393.19 L511.87 393.19 L512.15 393.19 L512.42 393.2 L512.7 393.2 L512.97 393.2 L513.25 393.21 L513.52 393.21 L513.8 393.21 L514.07 393.22 L514.35 393.22 L514.62 393.23 L514.9 393.23 L515.17 393.23 L515.45 393.24 L515.72 393.24 L516 393.24 L516.27 393.25 L516.55 393.25 L516.82 393.25 L517.1 393.26 L517.37 393.26 L517.65 393.27 L517.92 393.27 L518.2 393.27 L518.47 393.28 L518.75 393.28 L519.02 393.28 L519.3 393.29 L519.57 393.29 L519.85 393.3 L520.12 393.3 L520.4 393.3 L520.67 393.31 L520.95 393.31 L521.22 393.31 L521.5 393.32 L521.77 393.32 L522.05 393.33 L522.32 393.33 L522.6 393.34" fill="none" stroke="#e0503a" stroke-width="1.4" stroke-linejoin="round" />
<path d="M302.5 400.81 L302.78 400.79 L303.05 400.78 L303.33 400.76 L303.6 400.75 L303.88 400.73 L304.15 400.72 L304.43 400.7 L304.7 400.68 L304.98 400.67 L305.25 400.65 L305.53 400.63 L305.8 400.62 L306.08 400.6 L306.35 400.58 L306.63 400.56 L306.9 400.54 L307.18 400.52 L307.45 400.5 L307.73 400.48 L308 400.46 L308.28 400.43 L308.55 400.41 L308.83 400.39 L309.1 400.37 L309.38 400.34 L309.65 400.32 L309.93 400.29 L310.2 400.27 L310.48 400.24 L310.75 400.21 L311.03 400.19 L311.3 400.16 L311.58 400.13 L311.85 400.1 L312.13 400.07 L312.4 400.04 L312.68 400 L312.95 399.97 L313.23 399.94 L313.5 399.9 L313.78 399.87 L314.06 399.83 L314.33 399.79 L314.61 399.76 L314.88 399.72 L315.16 399.68 L315.43 399.64 L315.71 399.59 L315.98 399.55 L316.26 399.5 L316.53 399.46 L316.81 399.41 L317.08 399.36 L317.36 399.31 L317.63 399.26 L317.91 399.21 L318.18 399.15 L318.46 399.09 L318.73 399.04 L319.01 398.98 L319.28 398.91 L319.56 398.85 L319.83 398.78 L320.11 398.72 L320.38 398.65 L320.66 398.57 L320.93 398.5 L321.21 398.42 L321.48 398.34 L321.76 398.26 L322.03 398.17 L322.31 398.09 L322.58 397.99 L322.86 397.9 L323.13 397.8 L323.41 397.7 L323.68 397.6 L323.96 397.49 L324.23 397.37 L324.51 397.25 L324.79 397.13 L325.06 397 L325.34 396.87 L325.61 396.73 L325.89 396.59 L326.16 396.44 L326.44 396.28 L326.71 396.11 L326.99 395.94 L327.26 395.76 L327.54 395.57 L327.81 395.37 L328.09 395.16 L328.36 394.94 L328.64 394.71 L328.91 394.46 L329.19 394.2 L329.46 393.92 L329.74 393.63 L330.01 393.32 L330.29 392.99 L330.56 392.63 L330.84 392.26 L331.11 391.86 L331.39 391.43 L331.66 390.97 L331.94 390.48 L332.21 389.95 L332.49 389.39 L332.76 388.79 L333.04 388.14 L333.31 387.44 L333.59 386.7 L333.86 385.9 L334.14 385.04 L334.41 384.11 L334.69 383.13 L334.96 382.07 L335.24 380.93 L335.51 379.71 L335.79 378.41 L336.07 377.02 L336.34 375.53 L336.62 373.94 L336.89 372.24 L337.17 370.44 L337.44 368.51 L337.72 366.46 L337.99 364.29 L338.27 361.98 L338.54 359.53 L338.82 356.93 L339.09 354.19 L339.37 351.3 L339.64 348.25 L339.92 345.04 L340.19 341.68 L340.47 338.17 L340.74 334.51 L341.02 330.72 L341.29 326.81 L341.57 322.8 L341.84 318.73 L342.12 314.64 L342.39 310.58 L342.67 306.6 L342.94 302.8 L343.22 299.23 L343.49 296.01 L343.77 293.2 L344.04 290.9 L344.32 289.19 L344.59 288.11 L344.87 287.72 L345.14 288.02 L345.42 289.01 L345.69 290.63 L345.97 292.85 L346.24 295.57 L346.52 298.71 L346.8 302.19 L347.07 305.92 L347.35 309.81 L347.62 313.8 L347.9 317.82 L348.17 321.82 L348.45 325.76 L348.72 329.61 L349 333.34 L349.27 336.94 L349.55 340.39 L349.82 343.69 L350.1 346.84 L350.37 349.83 L350.65 352.67 L350.92 355.36 L351.2 357.9 L351.47 360.3 L351.75 362.56 L352.02 364.69 L352.3 366.7 L352.57 368.58 L352.85 370.35 L353.12 372.01 L353.4 373.56 L353.67 375.02 L353.95 376.38 L354.22 377.66 L354.5 378.85 L354.77 379.97 L355.05 381.01 L355.32 381.99 L355.6 382.89 L355.87 383.73 L356.15 384.52 L356.42 385.25 L356.7 385.93 L356.97 386.56 L357.25 387.15 L357.52 387.7 L357.8 388.21 L358.08 388.68 L358.35 389.12 L358.63 389.54 L358.9 389.92 L359.18 390.29 L359.45 390.62 L359.73 390.94 L360 391.24 L360.28 391.52 L360.55 391.78 L360.83 392.03 L361.1 392.26 L361.38 392.48 L361.65 392.69 L361.93 392.89 L362.2 393.07 L362.48 393.25 L362.75 393.42 L363.03 393.58 L363.3 393.73 L363.58 393.88 L363.85 394.02 L364.13 394.15 L364.4 394.27 L364.68 394.4 L364.95 394.51 L365.23 394.62 L365.5 394.73 L365.78 394.83 L366.05 394.93 L366.33 395.02 L366.6 395.12 L366.88 395.2 L367.15 395.29 L367.43 395.37 L367.7 395.45 L367.98 395.52 L368.25 395.59 L368.53 395.66 L368.81 395.73 L369.08 395.79 L369.36 395.86 L369.63 395.92 L369.91 395.98 L370.18 396.03 L370.46 396.09 L370.73 396.14 L371.01 396.19 L371.28 396.24 L371.56 396.29 L371.83 396.33 L372.11 396.38 L372.38 396.42 L372.66 396.46 L372.93 396.5 L373.21 396.54 L373.48 396.58 L373.76 396.62 L374.03 396.66 L374.31 396.69 L374.58 396.72 L374.86 396.76 L375.13 396.79 L375.41 396.82 L375.68 396.85 L375.96 396.88 L376.23 396.91 L376.51 396.93 L376.78 396.96 L377.06 396.99 L377.33 397.01 L377.61 397.04 L377.88 397.06 L378.16 397.08 L378.43 397.11 L378.71 397.13 L378.98 397.15 L379.26 397.17 L379.54 397.19 L379.81 397.21 L380.09 397.23 L380.36 397.25 L380.64 397.26 L380.91 397.28 L381.19 397.3 L381.46 397.32 L381.74 397.33 L382.01 397.35 L382.29 397.36 L382.56 397.38 L382.84 397.39 L383.11 397.41 L383.39 397.42 L383.66 397.43 L383.94 397.45 L384.21 397.46 L384.49 397.47 L384.76 397.49" fill="none" stroke="#b8ab98" stroke-width="1.4" stroke-linejoin="round" />
<path d="M407.32 396.97 L407.6 396.95 L407.87 396.93 L408.15 396.91 L408.42 396.89 L408.7 396.87 L408.97 396.86 L409.25 396.84 L409.52 396.82 L409.8 396.8 L410.07 396.78 L410.35 396.75 L410.62 396.73 L410.9 396.71 L411.17 396.69 L411.45 396.67 L411.72 396.65 L412 396.62 L412.27 396.6 L412.55 396.58 L412.83 396.55 L413.1 396.53 L413.38 396.5 L413.65 396.48 L413.93 396.45 L414.2 396.43 L414.48 396.4 L414.75 396.37 L415.03 396.35 L415.3 396.32 L415.58 396.29 L415.85 396.26 L416.13 396.23 L416.4 396.2 L416.68 396.17 L416.95 396.14 L417.23 396.11 L417.5 396.07 L417.78 396.04 L418.05 396.01 L418.33 395.97 L418.6 395.94 L418.88 395.9 L419.15 395.87 L419.43 395.83 L419.7 395.79 L419.98 395.76 L420.25 395.72 L420.53 395.68 L420.8 395.64 L421.08 395.6 L421.35 395.56 L421.63 395.51 L421.9 395.47 L422.18 395.42 L422.45 395.38 L422.73 395.33 L423 395.29 L423.28 395.24 L423.56 395.19 L423.83 395.14 L424.11 395.09 L424.38 395.03 L424.66 394.98 L424.93 394.92 L425.21 394.86 L425.48 394.81 L425.76 394.74 L426.03 394.68 L426.31 394.62 L426.58 394.55 L426.86 394.48 L427.13 394.41 L427.41 394.34 L427.68 394.27 L427.96 394.19 L428.23 394.11 L428.51 394.03 L428.78 393.94 L429.06 393.85 L429.33 393.76 L429.61 393.66 L429.88 393.57 L430.16 393.46 L430.43 393.36 L430.71 393.24 L430.98 393.13 L431.26 393.01 L431.53 392.88 L431.81 392.75 L432.08 392.62 L432.36 392.47 L432.63 392.32 L432.91 392.17 L433.18 392.01 L433.46 391.84 L433.73 391.66 L434.01 391.47 L434.28 391.28 L434.56 391.07 L434.84 390.86 L435.11 390.64 L435.39 390.4 L435.66 390.16 L435.94 389.9 L436.21 389.63 L436.49 389.35 L436.76 389.06 L437.04 388.75 L437.31 388.43 L437.59 388.09 L437.86 387.74 L438.14 387.37 L438.41 386.99 L438.69 386.58 L438.96 386.17 L439.24 385.73 L439.51 385.27 L439.79 384.79 L440.06 384.3 L440.34 383.78 L440.61 383.24 L440.89 382.68 L441.16 382.09 L441.44 381.48 L441.71 380.85 L441.99 380.19 L442.26 379.51 L442.54 378.81 L442.81 378.08 L443.09 377.32 L443.36 376.54 L443.64 375.73 L443.91 374.89 L444.19 374.03 L444.46 373.14 L444.74 372.23 L445.01 371.29 L445.29 370.33 L445.56 369.34 L445.84 368.32 L446.12 367.28 L446.39 366.22 L446.67 365.14 L446.94 364.04 L447.22 362.92 L447.49 361.78 L447.77 360.63 L448.04 359.46 L448.32 358.29 L448.59 357.12 L448.87 355.94 L449.14 354.77 L449.42 353.61 L449.69 352.47 L449.97 351.34 L450.24 350.25 L450.52 349.18 L450.79 348.17 L451.07 347.2 L451.34 346.29 L451.62 345.44 L451.89 344.67 L452.17 343.98 L452.44 343.38 L452.72 342.88 L452.99 342.47 L453.27 342.17 L453.54 341.97 L453.82 341.89 L454.09 341.92 L454.37 342.05 L454.64 342.3 L454.92 342.65 L455.19 343.09 L455.47 343.64 L455.74 344.27 L456.02 344.99 L456.29 345.77 L456.57 346.63 L456.85 347.54 L457.12 348.5 L457.4 349.51 L457.67 350.55 L457.95 351.62 L458.22 352.72 L458.5 353.82 L458.77 354.94 L459.05 356.06 L459.32 357.19 L459.6 358.31 L459.87 359.42 L460.15 360.52 L460.42 361.61 L460.7 362.69 L460.97 363.74 L461.25 364.78 L461.52 365.8 L461.8 366.79 L462.07 367.76 L462.35 368.71 L462.62 369.64 L462.9 370.54 L463.17 371.41 L463.45 372.26 L463.72 373.09 L464 373.89 L464.27 374.66 L464.55 375.41 L464.82 376.14 L465.1 376.84 L465.37 377.51 L465.65 378.17 L465.92 378.79 L466.2 379.4 L466.47 379.98 L466.75 380.54 L467.02 381.08 L467.3 381.59 L467.58 382.09 L467.85 382.56 L468.13 383.01 L468.4 383.45 L468.68 383.86 L468.95 384.26 L469.23 384.64 L469.5 385 L469.78 385.35 L470.05 385.68 L470.33 385.99 L470.6 386.29 L470.88 386.58 L471.15 386.85 L471.43 387.11 L471.7 387.36 L471.98 387.59 L472.25 387.82 L472.53 388.03 L472.8 388.23 L473.08 388.43 L473.35 388.61 L473.63 388.78 L473.9 388.95 L474.18 389.11 L474.45 389.26 L474.73 389.4 L475 389.54 L475.28 389.67 L475.55 389.79 L475.83 389.91 L476.1 390.02 L476.38 390.13 L476.65 390.23 L476.93 390.33 L477.2 390.42 L477.48 390.51 L477.75 390.59 L478.03 390.68 L478.3 390.75 L478.58 390.83 L478.86 390.9 L479.13 390.97 L479.41 391.03 L479.68 391.09 L479.96 391.15 L480.23 391.21 L480.51 391.27 L480.78 391.32 L481.06 391.37 L481.33 391.42 L481.61 391.47 L481.88 391.51 L482.16 391.56 L482.43 391.6 L482.71 391.64 L482.98 391.68 L483.26 391.72 L483.53 391.75 L483.81 391.79 L484.08 391.82 L484.36 391.86 L484.63 391.89 L484.91 391.92 L485.18 391.95 L485.46 391.98 L485.73 392.01 L486.01 392.04 L486.28 392.06 L486.56 392.09 L486.83 392.11 L487.11 392.14 L487.38 392.16 L487.66 392.19 L487.93 392.21 L488.21 392.23 L488.48 392.25 L488.76 392.27 L489.03 392.29 L489.31 392.31 L489.59 392.33 L489.86 392.35 L490.14 392.36 L490.41 392.38 L490.69 392.4 L490.96 392.41 L491.24 392.43 L491.51 392.44 L491.79 392.46 L492.06 392.47 L492.34 392.49 L492.61 392.5 L492.89 392.51 L493.16 392.53 L493.44 392.54 L493.71 392.55 L493.99 392.56 L494.26 392.58 L494.54 392.59 L494.81 392.6 L495.09 392.61 L495.36 392.62 L495.64 392.63 L495.91 392.64 L496.19 392.65 L496.46 392.66 L496.74 392.67 L497.01 392.68 L497.29 392.69 L497.56 392.69 L497.84 392.7 L498.11 392.71 L498.39 392.72 L498.66 392.73 L498.94 392.73 L499.21 392.74 L499.49 392.75 L499.76 392.75 L500.04 392.76 L500.31 392.77 L500.59 392.77 L500.87 392.78 L501.14 392.79 L501.42 392.79 L501.69 392.8 L501.97 392.81 L502.24 392.81 L502.52 392.82 L502.79 392.82 L503.07 392.83 L503.34 392.83 L503.62 392.84 L503.89 392.84 L504.17 392.85 L504.44 392.85 L504.72 392.86 L504.99 392.86 L505.27 392.87 L505.54 392.87 L505.82 392.88 L506.09 392.88 L506.37 392.88 L506.64 392.89 L506.92 392.89 L507.19 392.9 L507.47 392.9 L507.74 392.9 L508.02 392.91 L508.29 392.91 L508.57 392.92 L508.84 392.92 L509.12 392.92 L509.39 392.93 L509.67 392.93 L509.94 392.94 L510.22 392.94 L510.49 392.94 L510.77 392.95 L511.04 392.95 L511.32 392.95 L511.6 392.96 L511.87 392.96 L512.15 392.96 L512.42 392.97 L512.7 392.97 L512.97 392.97 L513.25 392.98 L513.52 392.98 L513.8 392.98 L514.07 392.99 L514.35 392.99 L514.62 392.99 L514.9 393 L515.17 393 L515.45 393 L515.72 393.01 L516 393.01 L516.27 393.01 L516.55 393.02 L516.82 393.02 L517.1 393.02 L517.37 393.03 L517.65 393.03 L517.92 393.04 L518.2 393.04 L518.47 393.04 L518.75 393.05 L519.02 393.05 L519.3 393.05 L519.57 393.06 L519.85 393.06 L520.12 393.06 L520.4 393.07 L520.67 393.07 L520.95 393.07 L521.22 393.08 L521.5 393.08 L521.77 393.09 L522.05 393.09 L522.32 393.09 L522.6 393.1" fill="none" stroke="#f6b92b" stroke-width="1.4" stroke-linejoin="round" />
<circle cx="306.8" cy="372.1" r="1.9" fill="none" stroke="#7a7a7a" stroke-width="0.8"/>
<circle cx="305.6" cy="388.3" r="1.9" fill="none" stroke="#7a7a7a" stroke-width="0.8"/>
<circle cx="308.4" cy="386.3" r="1.9" fill="none" stroke="#7a7a7a" stroke-width="0.8"/>
<circle cx="311.8" cy="387.9" r="1.9" fill="none" stroke="#7a7a7a" stroke-width="0.8"/>
<circle cx="312.1" cy="391.2" r="1.9" fill="none" stroke="#7a7a7a" stroke-width="0.8"/>
<circle cx="315.5" cy="385.4" r="1.9" fill="none" stroke="#7a7a7a" stroke-width="0.8"/>
<circle cx="317.4" cy="384.8" r="1.9" fill="none" stroke="#7a7a7a" stroke-width="0.8"/>
<circle cx="318" cy="389.5" r="1.9" fill="none" stroke="#7a7a7a" stroke-width="0.8"/>
<circle cx="322.1" cy="386" r="1.9" fill="none" stroke="#7a7a7a" stroke-width="0.8"/>
<circle cx="313.6" cy="397" r="1.9" fill="none" stroke="#7a7a7a" stroke-width="0.8"/>
<circle cx="309.3" cy="402.1" r="1.9" fill="none" stroke="#7a7a7a" stroke-width="0.8"/>
<circle cx="320.5" cy="404.6" r="1.9" fill="none" stroke="#7a7a7a" stroke-width="0.8"/>
<circle cx="319.6" cy="399.9" r="1.9" fill="none" stroke="#7a7a7a" stroke-width="0.8"/>
<circle cx="323.6" cy="393.2" r="1.9" fill="none" stroke="#7a7a7a" stroke-width="0.8"/>
<circle cx="325.4" cy="395.3" r="1.9" fill="none" stroke="#7a7a7a" stroke-width="0.8"/>
<circle cx="327.3" cy="402.8" r="1.9" fill="none" stroke="#7a7a7a" stroke-width="0.8"/>
<circle cx="328.8" cy="389.8" r="1.9" fill="none" stroke="#7a7a7a" stroke-width="0.8"/>
<circle cx="330.4" cy="384.5" r="1.9" fill="none" stroke="#7a7a7a" stroke-width="0.8"/>
<circle cx="332" cy="379.6" r="1.9" fill="none" stroke="#7a7a7a" stroke-width="0.8"/>
<circle cx="334.7" cy="390.7" r="1.9" fill="none" stroke="#7a7a7a" stroke-width="0.8"/>
<circle cx="333.2" cy="401.5" r="1.9" fill="none" stroke="#7a7a7a" stroke-width="0.8"/>
<circle cx="336" cy="378.6" r="1.9" fill="none" stroke="#7a7a7a" stroke-width="0.8"/>
<circle cx="337.2" cy="376.1" r="1.9" fill="none" stroke="#7a7a7a" stroke-width="0.8"/>
<circle cx="353.6" cy="367.7" r="1.9" fill="none" stroke="#7a7a7a" stroke-width="0.8"/>
<circle cx="355.2" cy="379.2" r="1.9" fill="none" stroke="#7a7a7a" stroke-width="0.8"/>
<circle cx="357.3" cy="389.1" r="1.9" fill="none" stroke="#7a7a7a" stroke-width="0.8"/>
<circle cx="358.9" cy="375.9" r="1.9" fill="none" stroke="#7a7a7a" stroke-width="0.8"/>
<circle cx="346.4" cy="282.1" r="1.9" fill="none" stroke="#7a7a7a" stroke-width="0.8"/>
<circle cx="345.9" cy="291.5" r="1.9" fill="none" stroke="#7a7a7a" stroke-width="0.8"/>
<circle cx="345.6" cy="295.5" r="1.9" fill="none" stroke="#7a7a7a" stroke-width="0.8"/>
<circle cx="342.1" cy="300" r="1.9" fill="none" stroke="#7a7a7a" stroke-width="0.8"/>
<circle cx="344.8" cy="299.8" r="1.9" fill="none" stroke="#7a7a7a" stroke-width="0.8"/>
<circle cx="348.3" cy="317.5" r="1.9" fill="none" stroke="#7a7a7a" stroke-width="0.8"/>
<circle cx="341.3" cy="327.6" r="1.9" fill="none" stroke="#7a7a7a" stroke-width="0.8"/>
<circle cx="339.8" cy="329.3" r="1.9" fill="none" stroke="#7a7a7a" stroke-width="0.8"/>
<circle cx="341.7" cy="327.7" r="1.9" fill="none" stroke="#7a7a7a" stroke-width="0.8"/>
<circle cx="349.5" cy="335.5" r="1.9" fill="none" stroke="#7a7a7a" stroke-width="0.8"/>
<circle cx="338.3" cy="353.2" r="1.9" fill="none" stroke="#7a7a7a" stroke-width="0.8"/>
<circle cx="350.7" cy="350.1" r="1.9" fill="none" stroke="#7a7a7a" stroke-width="0.8"/>
<circle cx="352.5" cy="356.9" r="1.9" fill="none" stroke="#7a7a7a" stroke-width="0.8"/>
<circle cx="353.5" cy="367.7" r="1.9" fill="none" stroke="#7a7a7a" stroke-width="0.8"/>
<circle cx="337.4" cy="376.4" r="1.9" fill="none" stroke="#7a7a7a" stroke-width="0.8"/>
<circle cx="331.8" cy="378.3" r="1.9" fill="none" stroke="#7a7a7a" stroke-width="0.8"/>
<circle cx="359.4" cy="376.4" r="1.9" fill="none" stroke="#7a7a7a" stroke-width="0.8"/>
<circle cx="354.7" cy="378.3" r="1.9" fill="none" stroke="#7a7a7a" stroke-width="0.8"/>
<circle cx="360.6" cy="376.7" r="1.9" fill="none" stroke="#7a7a7a" stroke-width="0.8"/>
<circle cx="411.4" cy="368.3" r="1.9" fill="none" stroke="#7a7a7a" stroke-width="0.8"/>
<circle cx="391" cy="372.1" r="1.9" fill="none" stroke="#7a7a7a" stroke-width="0.8"/>
<circle cx="382.6" cy="378.3" r="1.9" fill="none" stroke="#7a7a7a" stroke-width="0.8"/>
<circle cx="388.3" cy="378.3" r="1.9" fill="none" stroke="#7a7a7a" stroke-width="0.8"/>
<circle cx="397.8" cy="377" r="1.9" fill="none" stroke="#7a7a7a" stroke-width="0.8"/>
<circle cx="403.4" cy="375.8" r="1.9" fill="none" stroke="#7a7a7a" stroke-width="0.8"/>
<circle cx="404.9" cy="379.5" r="1.9" fill="none" stroke="#7a7a7a" stroke-width="0.8"/>
<circle cx="410.2" cy="381.2" r="1.9" fill="none" stroke="#7a7a7a" stroke-width="0.8"/>
<circle cx="417.3" cy="382.5" r="1.9" fill="none" stroke="#7a7a7a" stroke-width="0.8"/>
<circle cx="418.9" cy="375.4" r="1.9" fill="none" stroke="#7a7a7a" stroke-width="0.8"/>
<circle cx="407.1" cy="384.7" r="1.9" fill="none" stroke="#7a7a7a" stroke-width="0.8"/>
<circle cx="412.7" cy="386.9" r="1.9" fill="none" stroke="#7a7a7a" stroke-width="0.8"/>
<circle cx="409" cy="389.9" r="1.9" fill="none" stroke="#7a7a7a" stroke-width="0.8"/>
<circle cx="415.2" cy="391.9" r="1.9" fill="none" stroke="#7a7a7a" stroke-width="0.8"/>
<circle cx="365" cy="389.4" r="1.9" fill="none" stroke="#7a7a7a" stroke-width="0.8"/>
<circle cx="371.8" cy="391.9" r="1.9" fill="none" stroke="#7a7a7a" stroke-width="0.8"/>
<circle cx="377.4" cy="390.3" r="1.9" fill="none" stroke="#7a7a7a" stroke-width="0.8"/>
<circle cx="399.7" cy="388.4" r="1.9" fill="none" stroke="#7a7a7a" stroke-width="0.8"/>
<circle cx="396.6" cy="392.1" r="1.9" fill="none" stroke="#7a7a7a" stroke-width="0.8"/>
<circle cx="402.1" cy="391.5" r="1.9" fill="none" stroke="#7a7a7a" stroke-width="0.8"/>
<circle cx="384.2" cy="393.4" r="1.9" fill="none" stroke="#7a7a7a" stroke-width="0.8"/>
<circle cx="363.7" cy="396.5" r="1.9" fill="none" stroke="#7a7a7a" stroke-width="0.8"/>
<circle cx="369.3" cy="399.6" r="1.9" fill="none" stroke="#7a7a7a" stroke-width="0.8"/>
<circle cx="378.3" cy="397.7" r="1.9" fill="none" stroke="#7a7a7a" stroke-width="0.8"/>
<circle cx="379.8" cy="400.8" r="1.9" fill="none" stroke="#7a7a7a" stroke-width="0.8"/>
<circle cx="393.5" cy="400.8" r="1.9" fill="none" stroke="#7a7a7a" stroke-width="0.8"/>
<circle cx="400.3" cy="399" r="1.9" fill="none" stroke="#7a7a7a" stroke-width="0.8"/>
<circle cx="414.5" cy="398.3" r="1.9" fill="none" stroke="#7a7a7a" stroke-width="0.8"/>
<circle cx="418.3" cy="400.2" r="1.9" fill="none" stroke="#7a7a7a" stroke-width="0.8"/>
<circle cx="376.1" cy="403.3" r="1.9" fill="none" stroke="#7a7a7a" stroke-width="0.8"/>
<circle cx="385.4" cy="402.7" r="1.9" fill="none" stroke="#7a7a7a" stroke-width="0.8"/>
<circle cx="390.4" cy="403.9" r="1.9" fill="none" stroke="#7a7a7a" stroke-width="0.8"/>
<circle cx="367.4" cy="405.2" r="1.9" fill="none" stroke="#7a7a7a" stroke-width="0.8"/>
<circle cx="362.5" cy="407.3" r="1.9" fill="none" stroke="#7a7a7a" stroke-width="0.8"/>
<circle cx="370.5" cy="408" r="1.9" fill="none" stroke="#7a7a7a" stroke-width="0.8"/>
<circle cx="382.3" cy="407" r="1.9" fill="none" stroke="#7a7a7a" stroke-width="0.8"/>
<circle cx="387.9" cy="405.8" r="1.9" fill="none" stroke="#7a7a7a" stroke-width="0.8"/>
<circle cx="392.9" cy="404.5" r="1.9" fill="none" stroke="#7a7a7a" stroke-width="0.8"/>
<circle cx="452.8" cy="335.5" r="1.9" fill="none" stroke="#7a7a7a" stroke-width="0.8"/>
<circle cx="450.3" cy="343.3" r="1.9" fill="none" stroke="#7a7a7a" stroke-width="0.8"/>
<circle cx="451.2" cy="349.1" r="1.9" fill="none" stroke="#7a7a7a" stroke-width="0.8"/>
<circle cx="454.9" cy="349.1" r="1.9" fill="none" stroke="#7a7a7a" stroke-width="0.8"/>
<circle cx="454.4" cy="351.6" r="1.9" fill="none" stroke="#7a7a7a" stroke-width="0.8"/>
<circle cx="457.8" cy="354.7" r="1.9" fill="none" stroke="#7a7a7a" stroke-width="0.8"/>
<circle cx="464" cy="354.1" r="1.9" fill="none" stroke="#7a7a7a" stroke-width="0.8"/>
<circle cx="459.4" cy="360.3" r="1.9" fill="none" stroke="#7a7a7a" stroke-width="0.8"/>
<circle cx="462.7" cy="363.1" r="1.9" fill="none" stroke="#7a7a7a" stroke-width="0.8"/>
<circle cx="448.5" cy="359.4" r="1.9" fill="none" stroke="#7a7a7a" stroke-width="0.8"/>
<circle cx="440.4" cy="360.9" r="1.9" fill="none" stroke="#7a7a7a" stroke-width="0.8"/>
<circle cx="443.8" cy="365.6" r="1.9" fill="none" stroke="#7a7a7a" stroke-width="0.8"/>
<circle cx="447.5" cy="366.5" r="1.9" fill="none" stroke="#7a7a7a" stroke-width="0.8"/>
<circle cx="439.2" cy="370.6" r="1.9" fill="none" stroke="#7a7a7a" stroke-width="0.8"/>
<circle cx="420" cy="374.8" r="1.9" fill="none" stroke="#7a7a7a" stroke-width="0.8"/>
<circle cx="426.8" cy="373.3" r="1.9" fill="none" stroke="#7a7a7a" stroke-width="0.8"/>
<circle cx="423.9" cy="377.6" r="1.9" fill="none" stroke="#7a7a7a" stroke-width="0.8"/>
<circle cx="437.9" cy="377.6" r="1.9" fill="none" stroke="#7a7a7a" stroke-width="0.8"/>
<circle cx="434.8" cy="379.5" r="1.9" fill="none" stroke="#7a7a7a" stroke-width="0.8"/>
<circle cx="465.6" cy="353.9" r="1.9" fill="none" stroke="#7a7a7a" stroke-width="0.8"/>
<circle cx="517.7" cy="366.7" r="1.9" fill="none" stroke="#7a7a7a" stroke-width="0.8"/>
<circle cx="512.1" cy="371.2" r="1.9" fill="none" stroke="#7a7a7a" stroke-width="0.8"/>
<circle cx="479.3" cy="372.8" r="1.9" fill="none" stroke="#7a7a7a" stroke-width="0.8"/>
<circle cx="495.4" cy="373.2" r="1.9" fill="none" stroke="#7a7a7a" stroke-width="0.8"/>
<circle cx="505.3" cy="373.7" r="1.9" fill="none" stroke="#7a7a7a" stroke-width="0.8"/>
<circle cx="499.7" cy="375" r="1.9" fill="none" stroke="#7a7a7a" stroke-width="0.8"/>
<circle cx="480.5" cy="377.8" r="1.9" fill="none" stroke="#7a7a7a" stroke-width="0.8"/>
<circle cx="486.1" cy="378.2" r="1.9" fill="none" stroke="#7a7a7a" stroke-width="0.8"/>
<circle cx="490.4" cy="377.4" r="1.9" fill="none" stroke="#7a7a7a" stroke-width="0.8"/>
<circle cx="497.8" cy="377.2" r="1.9" fill="none" stroke="#7a7a7a" stroke-width="0.8"/>
<circle cx="508.4" cy="377.8" r="1.9" fill="none" stroke="#7a7a7a" stroke-width="0.8"/>
<circle cx="509.6" cy="379.4" r="1.9" fill="none" stroke="#7a7a7a" stroke-width="0.8"/>
<circle cx="516.4" cy="379.9" r="1.9" fill="none" stroke="#7a7a7a" stroke-width="0.8"/>
<circle cx="471.2" cy="381.5" r="1.9" fill="none" stroke="#7a7a7a" stroke-width="0.8"/>
<circle cx="474.3" cy="380.9" r="1.9" fill="none" stroke="#7a7a7a" stroke-width="0.8"/>
<circle cx="466.9" cy="382.8" r="1.9" fill="none" stroke="#7a7a7a" stroke-width="0.8"/>
<circle cx="476.2" cy="383.4" r="1.9" fill="none" stroke="#7a7a7a" stroke-width="0.8"/>
<circle cx="481.7" cy="383.6" r="1.9" fill="none" stroke="#7a7a7a" stroke-width="0.8"/>
<circle cx="491.7" cy="380.9" r="1.9" fill="none" stroke="#7a7a7a" stroke-width="0.8"/>
<circle cx="497" cy="380.3" r="1.9" fill="none" stroke="#7a7a7a" stroke-width="0.8"/>
<circle cx="487.3" cy="384" r="1.9" fill="none" stroke="#7a7a7a" stroke-width="0.8"/>
<circle cx="494.1" cy="385.2" r="1.9" fill="none" stroke="#7a7a7a" stroke-width="0.8"/>
<circle cx="510.9" cy="382.1" r="1.9" fill="none" stroke="#7a7a7a" stroke-width="0.8"/>
<circle cx="514.6" cy="382.4" r="1.9" fill="none" stroke="#7a7a7a" stroke-width="0.8"/>
<circle cx="502.2" cy="386.5" r="1.9" fill="none" stroke="#7a7a7a" stroke-width="0.8"/>
<circle cx="506.5" cy="384.9" r="1.9" fill="none" stroke="#7a7a7a" stroke-width="0.8"/>
<circle cx="475.5" cy="389" r="1.9" fill="none" stroke="#7a7a7a" stroke-width="0.8"/>
<circle cx="487.9" cy="389.3" r="1.9" fill="none" stroke="#7a7a7a" stroke-width="0.8"/>
<circle cx="492.9" cy="390.8" r="1.9" fill="none" stroke="#7a7a7a" stroke-width="0.8"/>
<circle cx="469.3" cy="392.1" r="1.9" fill="none" stroke="#7a7a7a" stroke-width="0.8"/>
<circle cx="484.2" cy="391.4" r="1.9" fill="none" stroke="#7a7a7a" stroke-width="0.8"/>
<circle cx="477.4" cy="393.9" r="1.9" fill="none" stroke="#7a7a7a" stroke-width="0.8"/>
<circle cx="501" cy="393.6" r="1.9" fill="none" stroke="#7a7a7a" stroke-width="0.8"/>
<circle cx="513.3" cy="393.6" r="1.9" fill="none" stroke="#7a7a7a" stroke-width="0.8"/>
<circle cx="518.9" cy="393.9" r="1.9" fill="none" stroke="#7a7a7a" stroke-width="0.8"/>
<circle cx="438.8" cy="370.8" r="1.9" fill="none" stroke="#7a7a7a" stroke-width="0.8"/>
<circle cx="424.1" cy="378.1" r="1.9" fill="none" stroke="#7a7a7a" stroke-width="0.8"/>
<circle cx="417.1" cy="382.4" r="1.9" fill="none" stroke="#7a7a7a" stroke-width="0.8"/>
<circle cx="421.4" cy="383.9" r="1.9" fill="none" stroke="#7a7a7a" stroke-width="0.8"/>
<circle cx="422.4" cy="381.9" r="1.9" fill="none" stroke="#7a7a7a" stroke-width="0.8"/>
<circle cx="431" cy="383.2" r="1.9" fill="none" stroke="#7a7a7a" stroke-width="0.8"/>
<circle cx="434.6" cy="380.3" r="1.9" fill="none" stroke="#7a7a7a" stroke-width="0.8"/>
<circle cx="437.7" cy="377.4" r="1.9" fill="none" stroke="#7a7a7a" stroke-width="0.8"/>
<circle cx="436.2" cy="383.4" r="1.9" fill="none" stroke="#7a7a7a" stroke-width="0.8"/>
<circle cx="432.6" cy="385.5" r="1.9" fill="none" stroke="#7a7a7a" stroke-width="0.8"/>
<circle cx="445.8" cy="381.9" r="1.9" fill="none" stroke="#7a7a7a" stroke-width="0.8"/>
<circle cx="425.3" cy="389.1" r="1.9" fill="none" stroke="#7a7a7a" stroke-width="0.8"/>
<circle cx="416.2" cy="391.7" r="1.9" fill="none" stroke="#7a7a7a" stroke-width="0.8"/>
<circle cx="433.6" cy="391.2" r="1.9" fill="none" stroke="#7a7a7a" stroke-width="0.8"/>
<circle cx="442.1" cy="389.6" r="1.9" fill="none" stroke="#7a7a7a" stroke-width="0.8"/>
<circle cx="429.3" cy="396.3" r="1.9" fill="none" stroke="#7a7a7a" stroke-width="0.8"/>
<circle cx="418.6" cy="400.2" r="1.9" fill="none" stroke="#7a7a7a" stroke-width="0.8"/>
<circle cx="465.6" cy="382.6" r="1.9" fill="none" stroke="#7a7a7a" stroke-width="0.8"/>
<circle cx="468.7" cy="380.3" r="1.9" fill="none" stroke="#7a7a7a" stroke-width="0.8"/>
<circle cx="471.3" cy="382.4" r="1.9" fill="none" stroke="#7a7a7a" stroke-width="0.8"/>
<circle cx="469.5" cy="392.2" r="1.9" fill="none" stroke="#7a7a7a" stroke-width="0.8"/>
<rect x="302.5" y="254.7" width="220.1" height="176.8" fill="none" stroke="#3a3a3a" stroke-width="1.5"/>
<line x1="316.26" y1="431.5" x2="316.26" y2="429.7" stroke="#3a3a3a" stroke-width="1" />
<line x1="330.01" y1="431.5" x2="330.01" y2="428.5" stroke="#3a3a3a" stroke-width="1" />
<line x1="343.77" y1="431.5" x2="343.77" y2="429.7" stroke="#3a3a3a" stroke-width="1" />
<line x1="357.52" y1="431.5" x2="357.52" y2="428.5" stroke="#3a3a3a" stroke-width="1" />
<line x1="371.28" y1="431.5" x2="371.28" y2="429.7" stroke="#3a3a3a" stroke-width="1" />
<line x1="385.04" y1="431.5" x2="385.04" y2="428.5" stroke="#3a3a3a" stroke-width="1" />
<line x1="398.79" y1="431.5" x2="398.79" y2="429.7" stroke="#3a3a3a" stroke-width="1" />
<line x1="412.55" y1="431.5" x2="412.55" y2="428.5" stroke="#3a3a3a" stroke-width="1" />
<line x1="426.31" y1="431.5" x2="426.31" y2="429.7" stroke="#3a3a3a" stroke-width="1" />
<line x1="440.06" y1="431.5" x2="440.06" y2="428.5" stroke="#3a3a3a" stroke-width="1" />
<line x1="453.82" y1="431.5" x2="453.82" y2="429.7" stroke="#3a3a3a" stroke-width="1" />
<line x1="467.58" y1="431.5" x2="467.58" y2="428.5" stroke="#3a3a3a" stroke-width="1" />
<line x1="481.33" y1="431.5" x2="481.33" y2="429.7" stroke="#3a3a3a" stroke-width="1" />
<line x1="495.09" y1="431.5" x2="495.09" y2="428.5" stroke="#3a3a3a" stroke-width="1" />
<line x1="508.84" y1="431.5" x2="508.84" y2="429.7" stroke="#3a3a3a" stroke-width="1" />
<text transform="translate(302.5 446.1) scale(1 1.08)" x="0" y="0" font-size="13" fill="#1a1a1a" text-anchor="middle">925</text>
<text transform="translate(330.01 446.1) scale(1 1.08)" x="0" y="0" font-size="13" fill="#1a1a1a" text-anchor="middle">930</text>
<text transform="translate(357.52 446.1) scale(1 1.08)" x="0" y="0" font-size="13" fill="#1a1a1a" text-anchor="middle">935</text>
<text transform="translate(385.04 446.1) scale(1 1.08)" x="0" y="0" font-size="13" fill="#1a1a1a" text-anchor="middle">940</text>
<text transform="translate(412.55 446.1) scale(1 1.08)" x="0" y="0" font-size="13" fill="#1a1a1a" text-anchor="middle">945</text>
<text transform="translate(440.06 446.1) scale(1 1.08)" x="0" y="0" font-size="13" fill="#1a1a1a" text-anchor="middle">950</text>
<text transform="translate(467.58 446.1) scale(1 1.08)" x="0" y="0" font-size="13" fill="#1a1a1a" text-anchor="middle">955</text>
<text transform="translate(495.09 446.1) scale(1 1.08)" x="0" y="0" font-size="13" fill="#1a1a1a" text-anchor="middle">960</text>
<text transform="translate(522.6 446.1) scale(1 1.08)" x="0" y="0" font-size="13" fill="#1a1a1a" text-anchor="middle">965</text>
<text x="412.8" y="469.4" font-size="14.15" font-weight="bold" fill="#000" text-anchor="middle" >Binding energy (eV)</text>
<text x="293.7" y="342.9" font-size="14.2" font-weight="bold" fill="#000" text-anchor="middle" transform="rotate(-90 293.7 342.9)">Intensity (a.u.)</text>
<text x="308.4" y="271.2" font-size="13.6" font-weight="bold" fill="#000" text-anchor="start" >Cu 2p</text>
<text x="350.4" y="296.8" font-size="15.5" font-weight="bold" fill="#b3a994">Cu 2p<tspan font-size="10" dy="3.3">1/2</tspan></text>
<text x="458.4" y="338.2" font-size="15.5" font-weight="bold" fill="#f7c030">Cu 2p<tspan font-size="10" dy="3.3">2/3</tspan></text>
<text x="535.8" y="257.8" font-size="23.5" font-weight="bold" fill="#000" text-anchor="start" >f</text>
<circle cx="565.77" cy="413.52" r="2.3" fill="none" stroke="#7c7c7c" stroke-width="0.85"/>
<circle cx="567.3" cy="413.96" r="2.3" fill="none" stroke="#7c7c7c" stroke-width="0.85"/>
<circle cx="569.15" cy="413.82" r="2.3" fill="none" stroke="#7c7c7c" stroke-width="0.85"/>
<circle cx="570.62" cy="413.05" r="2.3" fill="none" stroke="#7c7c7c" stroke-width="0.85"/>
<circle cx="572.23" cy="412.83" r="2.3" fill="none" stroke="#7c7c7c" stroke-width="0.85"/>
<circle cx="573.65" cy="414.32" r="2.3" fill="none" stroke="#7c7c7c" stroke-width="0.85"/>
<circle cx="575.67" cy="413.38" r="2.3" fill="none" stroke="#7c7c7c" stroke-width="0.85"/>
<circle cx="577.48" cy="413.08" r="2.3" fill="none" stroke="#7c7c7c" stroke-width="0.85"/>
<circle cx="579.15" cy="414.45" r="2.3" fill="none" stroke="#7c7c7c" stroke-width="0.85"/>
<circle cx="580.69" cy="413.41" r="2.3" fill="none" stroke="#7c7c7c" stroke-width="0.85"/>
<circle cx="582.66" cy="413.4" r="2.3" fill="none" stroke="#7c7c7c" stroke-width="0.85"/>
<circle cx="583.92" cy="413.16" r="2.3" fill="none" stroke="#7c7c7c" stroke-width="0.85"/>
<circle cx="585.6" cy="412.44" r="2.3" fill="none" stroke="#7c7c7c" stroke-width="0.85"/>
<circle cx="587.72" cy="412.31" r="2.3" fill="none" stroke="#7c7c7c" stroke-width="0.85"/>
<circle cx="589.12" cy="413.67" r="2.3" fill="none" stroke="#7c7c7c" stroke-width="0.85"/>
<circle cx="590.71" cy="414.52" r="2.3" fill="none" stroke="#7c7c7c" stroke-width="0.85"/>
<circle cx="592.68" cy="413.92" r="2.3" fill="none" stroke="#7c7c7c" stroke-width="0.85"/>
<circle cx="593.88" cy="412.04" r="2.3" fill="none" stroke="#7c7c7c" stroke-width="0.85"/>
<circle cx="596.04" cy="412.49" r="2.3" fill="none" stroke="#7c7c7c" stroke-width="0.85"/>
<circle cx="597.29" cy="414.22" r="2.3" fill="none" stroke="#7c7c7c" stroke-width="0.85"/>
<circle cx="599.13" cy="413.97" r="2.3" fill="none" stroke="#7c7c7c" stroke-width="0.85"/>
<circle cx="600.77" cy="412.76" r="2.3" fill="none" stroke="#7c7c7c" stroke-width="0.85"/>
<circle cx="602.19" cy="412.76" r="2.3" fill="none" stroke="#7c7c7c" stroke-width="0.85"/>
<circle cx="603.98" cy="412.15" r="2.3" fill="none" stroke="#7c7c7c" stroke-width="0.85"/>
<circle cx="606.31" cy="413.27" r="2.3" fill="none" stroke="#7c7c7c" stroke-width="0.85"/>
<circle cx="607.5" cy="414.98" r="2.3" fill="none" stroke="#7c7c7c" stroke-width="0.85"/>
<circle cx="609.16" cy="411.33" r="2.3" fill="none" stroke="#7c7c7c" stroke-width="0.85"/>
<circle cx="611.31" cy="411.86" r="2.3" fill="none" stroke="#7c7c7c" stroke-width="0.85"/>
<circle cx="612.44" cy="412.95" r="2.3" fill="none" stroke="#7c7c7c" stroke-width="0.85"/>
<circle cx="614.36" cy="413.12" r="2.3" fill="none" stroke="#7c7c7c" stroke-width="0.85"/>
<circle cx="615.82" cy="410.93" r="2.3" fill="none" stroke="#7c7c7c" stroke-width="0.85"/>
<circle cx="617.61" cy="411.89" r="2.3" fill="none" stroke="#7c7c7c" stroke-width="0.85"/>
<circle cx="619.21" cy="412.01" r="2.3" fill="none" stroke="#7c7c7c" stroke-width="0.85"/>
<circle cx="620.83" cy="411.85" r="2.3" fill="none" stroke="#7c7c7c" stroke-width="0.85"/>
<circle cx="622.92" cy="410.75" r="2.3" fill="none" stroke="#7c7c7c" stroke-width="0.85"/>
<circle cx="624.38" cy="411.48" r="2.3" fill="none" stroke="#7c7c7c" stroke-width="0.85"/>
<circle cx="625.93" cy="409.6" r="2.3" fill="none" stroke="#7c7c7c" stroke-width="0.85"/>
<circle cx="627.38" cy="411.16" r="2.3" fill="none" stroke="#7c7c7c" stroke-width="0.85"/>
<circle cx="629.23" cy="410.94" r="2.3" fill="none" stroke="#7c7c7c" stroke-width="0.85"/>
<circle cx="630.95" cy="409.84" r="2.3" fill="none" stroke="#7c7c7c" stroke-width="0.85"/>
<circle cx="632.89" cy="409" r="2.3" fill="none" stroke="#7c7c7c" stroke-width="0.85"/>
<circle cx="634.64" cy="407.58" r="2.3" fill="none" stroke="#7c7c7c" stroke-width="0.85"/>
<circle cx="635.81" cy="406.02" r="2.3" fill="none" stroke="#7c7c7c" stroke-width="0.85"/>
<circle cx="637.46" cy="405.38" r="2.3" fill="none" stroke="#7c7c7c" stroke-width="0.85"/>
<circle cx="639.52" cy="401.82" r="2.3" fill="none" stroke="#7c7c7c" stroke-width="0.85"/>
<circle cx="640.66" cy="399.08" r="2.3" fill="none" stroke="#7c7c7c" stroke-width="0.85"/>
<circle cx="643.06" cy="392.66" r="2.3" fill="none" stroke="#7c7c7c" stroke-width="0.85"/>
<circle cx="644.31" cy="384.91" r="2.3" fill="none" stroke="#7c7c7c" stroke-width="0.85"/>
<circle cx="645.97" cy="372.15" r="2.3" fill="none" stroke="#7c7c7c" stroke-width="0.85"/>
<circle cx="647.65" cy="356.95" r="2.3" fill="none" stroke="#7c7c7c" stroke-width="0.85"/>
<circle cx="649.35" cy="339.37" r="2.3" fill="none" stroke="#7c7c7c" stroke-width="0.85"/>
<circle cx="651" cy="318.96" r="2.3" fill="none" stroke="#7c7c7c" stroke-width="0.85"/>
<circle cx="652.93" cy="294.39" r="2.3" fill="none" stroke="#7c7c7c" stroke-width="0.85"/>
<circle cx="654.31" cy="277.36" r="2.3" fill="none" stroke="#7c7c7c" stroke-width="0.85"/>
<circle cx="656" cy="274.5" r="2.3" fill="none" stroke="#7c7c7c" stroke-width="0.85"/>
<circle cx="657.69" cy="286.06" r="2.3" fill="none" stroke="#7c7c7c" stroke-width="0.85"/>
<circle cx="659.29" cy="309.41" r="2.3" fill="none" stroke="#7c7c7c" stroke-width="0.85"/>
<circle cx="661.31" cy="329.24" r="2.3" fill="none" stroke="#7c7c7c" stroke-width="0.85"/>
<circle cx="662.91" cy="349.1" r="2.3" fill="none" stroke="#7c7c7c" stroke-width="0.85"/>
<circle cx="664.04" cy="364.92" r="2.3" fill="none" stroke="#7c7c7c" stroke-width="0.85"/>
<circle cx="666.13" cy="375.82" r="2.3" fill="none" stroke="#7c7c7c" stroke-width="0.85"/>
<circle cx="668.03" cy="386.12" r="2.3" fill="none" stroke="#7c7c7c" stroke-width="0.85"/>
<circle cx="669.4" cy="392.93" r="2.3" fill="none" stroke="#7c7c7c" stroke-width="0.85"/>
<circle cx="671.08" cy="397.62" r="2.3" fill="none" stroke="#7c7c7c" stroke-width="0.85"/>
<circle cx="672.93" cy="401.48" r="2.3" fill="none" stroke="#7c7c7c" stroke-width="0.85"/>
<circle cx="674.3" cy="403.81" r="2.3" fill="none" stroke="#7c7c7c" stroke-width="0.85"/>
<circle cx="676.36" cy="405.59" r="2.3" fill="none" stroke="#7c7c7c" stroke-width="0.85"/>
<circle cx="678.01" cy="409.03" r="2.3" fill="none" stroke="#7c7c7c" stroke-width="0.85"/>
<circle cx="679.65" cy="410.04" r="2.3" fill="none" stroke="#7c7c7c" stroke-width="0.85"/>
<circle cx="681.29" cy="410.36" r="2.3" fill="none" stroke="#7c7c7c" stroke-width="0.85"/>
<circle cx="682.79" cy="410.23" r="2.3" fill="none" stroke="#7c7c7c" stroke-width="0.85"/>
<circle cx="684.64" cy="410.93" r="2.3" fill="none" stroke="#7c7c7c" stroke-width="0.85"/>
<circle cx="686.15" cy="411.32" r="2.3" fill="none" stroke="#7c7c7c" stroke-width="0.85"/>
<circle cx="688.11" cy="412.23" r="2.3" fill="none" stroke="#7c7c7c" stroke-width="0.85"/>
<circle cx="689.33" cy="411.32" r="2.3" fill="none" stroke="#7c7c7c" stroke-width="0.85"/>
<circle cx="690.97" cy="412.58" r="2.3" fill="none" stroke="#7c7c7c" stroke-width="0.85"/>
<circle cx="692.75" cy="412.23" r="2.3" fill="none" stroke="#7c7c7c" stroke-width="0.85"/>
<circle cx="694.17" cy="411.69" r="2.3" fill="none" stroke="#7c7c7c" stroke-width="0.85"/>
<circle cx="696.11" cy="412.22" r="2.3" fill="none" stroke="#7c7c7c" stroke-width="0.85"/>
<circle cx="698.29" cy="410.78" r="2.3" fill="none" stroke="#7c7c7c" stroke-width="0.85"/>
<circle cx="700.25" cy="411.87" r="2.3" fill="none" stroke="#7c7c7c" stroke-width="0.85"/>
<circle cx="701.15" cy="411.37" r="2.3" fill="none" stroke="#7c7c7c" stroke-width="0.85"/>
<circle cx="703.22" cy="410.77" r="2.3" fill="none" stroke="#7c7c7c" stroke-width="0.85"/>
<circle cx="704.66" cy="410.18" r="2.3" fill="none" stroke="#7c7c7c" stroke-width="0.85"/>
<circle cx="706.06" cy="409.96" r="2.3" fill="none" stroke="#7c7c7c" stroke-width="0.85"/>
<circle cx="707.81" cy="408.8" r="2.3" fill="none" stroke="#7c7c7c" stroke-width="0.85"/>
<circle cx="709.76" cy="406.62" r="2.3" fill="none" stroke="#7c7c7c" stroke-width="0.85"/>
<circle cx="711.27" cy="406.82" r="2.3" fill="none" stroke="#7c7c7c" stroke-width="0.85"/>
<circle cx="712.53" cy="403.98" r="2.3" fill="none" stroke="#7c7c7c" stroke-width="0.85"/>
<circle cx="714.58" cy="403.19" r="2.3" fill="none" stroke="#7c7c7c" stroke-width="0.85"/>
<circle cx="716.26" cy="399.1" r="2.3" fill="none" stroke="#7c7c7c" stroke-width="0.85"/>
<circle cx="717.94" cy="396.17" r="2.3" fill="none" stroke="#7c7c7c" stroke-width="0.85"/>
<circle cx="719.69" cy="393.41" r="2.3" fill="none" stroke="#7c7c7c" stroke-width="0.85"/>
<circle cx="721.33" cy="388.14" r="2.3" fill="none" stroke="#7c7c7c" stroke-width="0.85"/>
<circle cx="722.89" cy="379.91" r="2.3" fill="none" stroke="#7c7c7c" stroke-width="0.85"/>
<circle cx="724.59" cy="371.09" r="2.3" fill="none" stroke="#7c7c7c" stroke-width="0.85"/>
<circle cx="726.43" cy="360.05" r="2.3" fill="none" stroke="#7c7c7c" stroke-width="0.85"/>
<circle cx="727.47" cy="347.35" r="2.3" fill="none" stroke="#7c7c7c" stroke-width="0.85"/>
<circle cx="729.61" cy="331.63" r="2.3" fill="none" stroke="#7c7c7c" stroke-width="0.85"/>
<circle cx="731.51" cy="320.98" r="2.3" fill="none" stroke="#7c7c7c" stroke-width="0.85"/>
<circle cx="733.08" cy="313.98" r="2.3" fill="none" stroke="#7c7c7c" stroke-width="0.85"/>
<circle cx="734.87" cy="321.77" r="2.3" fill="none" stroke="#7c7c7c" stroke-width="0.85"/>
<circle cx="736.32" cy="334.77" r="2.3" fill="none" stroke="#7c7c7c" stroke-width="0.85"/>
<circle cx="738" cy="350.11" r="2.3" fill="none" stroke="#7c7c7c" stroke-width="0.85"/>
<circle cx="739.32" cy="362.87" r="2.3" fill="none" stroke="#7c7c7c" stroke-width="0.85"/>
<circle cx="741.56" cy="374.58" r="2.3" fill="none" stroke="#7c7c7c" stroke-width="0.85"/>
<circle cx="742.83" cy="382.73" r="2.3" fill="none" stroke="#7c7c7c" stroke-width="0.85"/>
<circle cx="744.82" cy="389.38" r="2.3" fill="none" stroke="#7c7c7c" stroke-width="0.85"/>
<circle cx="746.37" cy="393.71" r="2.3" fill="none" stroke="#7c7c7c" stroke-width="0.85"/>
<circle cx="747.83" cy="398.19" r="2.3" fill="none" stroke="#7c7c7c" stroke-width="0.85"/>
<circle cx="749.34" cy="398.8" r="2.3" fill="none" stroke="#7c7c7c" stroke-width="0.85"/>
<circle cx="751.25" cy="400.15" r="2.3" fill="none" stroke="#7c7c7c" stroke-width="0.85"/>
<circle cx="752.93" cy="400.94" r="2.3" fill="none" stroke="#7c7c7c" stroke-width="0.85"/>
<circle cx="754.7" cy="403.85" r="2.3" fill="none" stroke="#7c7c7c" stroke-width="0.85"/>
<circle cx="756.85" cy="402.84" r="2.3" fill="none" stroke="#7c7c7c" stroke-width="0.85"/>
<circle cx="757.74" cy="403.28" r="2.3" fill="none" stroke="#7c7c7c" stroke-width="0.85"/>
<circle cx="759.57" cy="403.98" r="2.3" fill="none" stroke="#7c7c7c" stroke-width="0.85"/>
<circle cx="761.18" cy="405.23" r="2.3" fill="none" stroke="#7c7c7c" stroke-width="0.85"/>
<circle cx="762.78" cy="403.68" r="2.3" fill="none" stroke="#7c7c7c" stroke-width="0.85"/>
<circle cx="764.57" cy="404.41" r="2.3" fill="none" stroke="#7c7c7c" stroke-width="0.85"/>
<circle cx="766.37" cy="404.44" r="2.3" fill="none" stroke="#7c7c7c" stroke-width="0.85"/>
<circle cx="768.31" cy="404.14" r="2.3" fill="none" stroke="#7c7c7c" stroke-width="0.85"/>
<circle cx="769.8" cy="405.5" r="2.3" fill="none" stroke="#7c7c7c" stroke-width="0.85"/>
<circle cx="771.25" cy="404.14" r="2.3" fill="none" stroke="#7c7c7c" stroke-width="0.85"/>
<circle cx="773.61" cy="405.17" r="2.3" fill="none" stroke="#7c7c7c" stroke-width="0.85"/>
<circle cx="774.65" cy="404.67" r="2.3" fill="none" stroke="#7c7c7c" stroke-width="0.85"/>
<circle cx="776.26" cy="404.55" r="2.3" fill="none" stroke="#7c7c7c" stroke-width="0.85"/>
<circle cx="778.11" cy="404.39" r="2.3" fill="none" stroke="#7c7c7c" stroke-width="0.85"/>
<circle cx="779.83" cy="406.37" r="2.3" fill="none" stroke="#7c7c7c" stroke-width="0.85"/>
<circle cx="781.18" cy="404.87" r="2.3" fill="none" stroke="#7c7c7c" stroke-width="0.85"/>
<circle cx="783.17" cy="405.5" r="2.3" fill="none" stroke="#7c7c7c" stroke-width="0.85"/>
<path d="M565.5 413.3 L565.66 413.3 L565.82 413.3 L565.98 413.3 L566.14 413.3 L566.3 413.3 L566.46 413.3 L566.63 413.3 L566.79 413.3 L566.95 413.3 L567.11 413.3 L567.27 413.3 L567.43 413.3 L567.59 413.3 L567.75 413.3 L567.91 413.3 L568.07 413.3 L568.23 413.3 L568.39 413.3 L568.56 413.3 L568.72 413.3 L568.88 413.3 L569.04 413.3 L569.2 413.3 L569.36 413.3 L569.52 413.3 L569.68 413.3 L569.84 413.3 L570 413.3 L570.16 413.3 L570.32 413.3 L570.49 413.3 L570.65 413.3 L570.81 413.3 L570.97 413.3 L571.13 413.3 L571.29 413.3 L571.45 413.3 L571.61 413.3 L571.77 413.3 L571.93 413.3 L572.09 413.3 L572.25 413.3 L572.41 413.3 L572.58 413.3 L572.74 413.3 L572.9 413.3 L573.06 413.3 L573.22 413.3 L573.38 413.3 L573.54 413.3 L573.7 413.3 L573.86 413.3 L574.02 413.3 L574.18 413.3 L574.34 413.3 L574.51 413.3 L574.67 413.3 L574.83 413.3 L574.99 413.3 L575.15 413.3 L575.31 413.3 L575.47 413.3 L575.63 413.3 L575.79 413.3 L575.95 413.3 L576.11 413.3 L576.27 413.3 L576.44 413.3 L576.6 413.3 L576.76 413.3 L576.92 413.3 L577.08 413.3 L577.24 413.3 L577.4 413.3 L577.56 413.3 L577.72 413.3 L577.88 413.3 L578.04 413.3 L578.2 413.3 L578.36 413.3 L578.53 413.3 L578.69 413.3 L578.85 413.3 L579.01 413.3 L579.17 413.3 L579.33 413.3 L579.49 413.3 L579.65 413.3 L579.81 413.3 L579.97 413.3 L580.13 413.3 L580.29 413.3 L580.46 413.3 L580.62 413.3 L580.78 413.3 L580.94 413.3 L581.1 413.3 L581.26 413.3 L581.42 413.3 L581.58 413.3 L581.74 413.3 L581.9 413.3 L582.06 413.3 L582.22 413.3 L582.38 413.3 L582.55 413.3 L582.71 413.3 L582.87 413.3 L583.03 413.3 L583.19 413.3 L583.35 413.3 L583.51 413.3 L583.67 413.3 L583.83 413.3 L583.99 413.3 L584.15 413.3 L584.31 413.3 L584.48 413.3 L584.64 413.3 L584.8 413.3 L584.96 413.3 L585.12 413.3 L585.28 413.3 L585.44 413.3 L585.6 413.3 L585.76 413.3 L585.92 413.3 L586.08 413.3 L586.24 413.3 L586.41 413.3 L586.57 413.3 L586.73 413.3 L586.89 413.3 L587.05 413.3 L587.21 413.3 L587.37 413.3 L587.53 413.3 L587.69 413.3 L587.85 413.3 L588.01 413.3 L588.17 413.3 L588.33 413.3 L588.5 413.3 L588.66 413.3 L588.82 413.3 L588.98 413.3 L589.14 413.3 L589.3 413.3 L589.46 413.3 L589.62 413.3 L589.78 413.3 L589.94 413.3 L590.1 413.3 L590.26 413.3 L590.43 413.3 L590.59 413.3 L590.75 413.3 L590.91 413.3 L591.07 413.3 L591.23 413.3 L591.39 413.3 L591.55 413.3 L591.71 413.3 L591.87 413.3 L592.03 413.3 L592.19 413.3 L592.36 413.3 L592.52 413.3 L592.68 413.3 L592.84 413.3 L593 413.3 L593.16 413.3 L593.32 413.3 L593.48 413.3 L593.64 413.3 L593.8 413.3 L593.96 413.3 L594.12 413.3 L594.28 413.3 L594.45 413.3 L594.61 413.3 L594.77 413.3 L594.93 413.3 L595.09 413.3 L595.25 413.3 L595.41 413.3 L595.57 413.3 L595.73 413.3 L595.89 413.3 L596.05 413.3 L596.21 413.3 L596.38 413.3 L596.54 413.3 L596.7 413.3 L596.86 413.3 L597.02 413.3 L597.18 413.3 L597.34 413.3 L597.5 413.3 L597.66 413.3 L597.82 413.3 L597.98 413.3 L598.14 413.3 L598.31 413.3 L598.47 413.3 L598.63 413.3 L598.79 413.3 L598.95 413.3 L599.11 413.3 L599.27 413.3 L599.43 413.3 L599.59 413.3 L599.75 413.3 L599.91 413.3 L600.07 413.3 L600.23 413.3 L600.4 413.3 L600.56 413.3 L600.72 413.3 L600.88 413.3 L601.04 413.3 L601.2 413.3 L601.36 413.3 L601.52 413.3 L601.68 413.3 L601.84 413.3 L602 413.3 L602.16 413.3 L602.33 413.3 L602.49 413.3 L602.65 413.3 L602.81 413.3 L602.97 413.3 L603.13 413.3 L603.29 413.3 L603.45 413.3 L603.61 413.3 L603.77 413.3 L603.93 413.3 L604.09 413.3 L604.25 413.3 L604.42 413.3 L604.58 413.3 L604.74 413.3 L604.9 413.3 L605.06 413.3 L605.22 413.3 L605.38 413.3 L605.54 413.3 L605.7 413.3 L605.86 413.3 L606.02 413.3 L606.18 413.3 L606.35 413.3 L606.51 413.3 L606.67 413.3 L606.83 413.3 L606.99 413.3 L607.15 413.3 L607.31 413.3 L607.47 413.3 L607.63 413.3 L607.79 413.3 L607.95 413.3 L608.11 413.3 L608.28 413.3 L608.44 413.3 L608.6 413.3 L608.76 413.3 L608.92 413.3 L609.08 413.3 L609.24 413.3 L609.4 413.3 L609.56 413.3 L609.72 413.3 L609.88 413.3 L610.04 413.3 L610.2 413.3 L610.37 413.3 L610.53 413.3 L610.69 413.3 L610.85 413.3 L611.01 413.3 L611.17 413.3 L611.33 413.3 L611.49 413.3 L611.65 413.3 L611.81 413.3 L611.97 413.3 L612.13 413.3 L612.3 413.3 L612.46 413.3 L612.62 413.3 L612.78 413.3 L612.94 413.3 L613.1 413.3 L613.26 413.3 L613.42 413.3 L613.58 413.3 L613.74 413.3 L613.9 413.3 L614.06 413.3 L614.23 413.3 L614.39 413.3 L614.55 413.3 L614.71 413.3 L614.87 413.3 L615.03 413.3 L615.19 413.3 L615.35 413.3 L615.51 413.3 L615.67 413.3 L615.83 413.3 L615.99 413.3 L616.15 413.3 L616.32 413.3 L616.48 413.3 L616.64 413.3 L616.8 413.3 L616.96 413.3 L617.12 413.3 L617.28 413.3 L617.44 413.3 L617.6 413.3 L617.76 413.3 L617.92 413.3 L618.08 413.3 L618.25 413.3 L618.41 413.3 L618.57 413.3 L618.73 413.3 L618.89 413.3 L619.05 413.3 L619.21 413.3 L619.37 413.3 L619.53 413.3 L619.69 413.3 L619.85 413.3 L620.01 413.3 L620.17 413.3 L620.34 413.3 L620.5 413.3 L620.66 413.3 L620.82 413.3 L620.98 413.3 L621.14 413.3 L621.3 413.3 L621.46 413.3 L621.62 413.3 L621.78 413.3 L621.94 413.3 L622.1 413.3 L622.27 413.3 L622.43 413.3 L622.59 413.3 L622.75 413.3 L622.91 413.3 L623.07 413.3 L623.23 413.3 L623.39 413.3 L623.55 413.3 L623.71 413.3 L623.87 413.3 L624.03 413.3 L624.2 413.3 L624.36 413.3 L624.52 413.3 L624.68 413.3 L624.84 413.3 L625 413.3 L625.16 413.3 L625.32 413.3 L625.48 413.3 L625.64 413.3 L625.8 413.29 L625.96 413.29 L626.12 413.29 L626.29 413.29 L626.45 413.29 L626.61 413.29 L626.77 413.29 L626.93 413.29 L627.09 413.29 L627.25 413.29 L627.41 413.29 L627.57 413.29 L627.73 413.29 L627.89 413.29 L628.05 413.29 L628.22 413.29 L628.38 413.29 L628.54 413.29 L628.7 413.29 L628.86 413.29 L629.02 413.29 L629.18 413.29 L629.34 413.29 L629.5 413.29 L629.66 413.29 L629.82 413.29 L629.98 413.29 L630.15 413.29 L630.31 413.29 L630.47 413.29 L630.63 413.29 L630.79 413.28 L630.95 413.28 L631.11 413.28 L631.27 413.28 L631.43 413.28 L631.59 413.28 L631.75 413.28 L631.91 413.28 L632.07 413.28 L632.24 413.28 L632.4 413.28 L632.56 413.28 L632.72 413.28 L632.88 413.28 L633.04 413.27 L633.2 413.27 L633.36 413.27 L633.52 413.27 L633.68 413.27 L633.84 413.27 L634 413.27 L634.17 413.27 L634.33 413.27 L634.49 413.27 L634.65 413.26 L634.81 413.26 L634.97 413.26 L635.13 413.26 L635.29 413.26 L635.45 413.26 L635.61 413.26 L635.77 413.25 L635.93 413.25 L636.1 413.25 L636.26 413.25 L636.42 413.25 L636.58 413.24 L636.74 413.24 L636.9 413.24 L637.06 413.24 L637.22 413.24 L637.38 413.23 L637.54 413.23 L637.7 413.23 L637.86 413.23 L638.02 413.22 L638.19 413.22 L638.35 413.22 L638.51 413.22 L638.67 413.21 L638.83 413.21 L638.99 413.21 L639.15 413.2 L639.31 413.2 L639.47 413.2 L639.63 413.19 L639.79 413.19 L639.95 413.18 L640.12 413.18 L640.28 413.18 L640.44 413.17 L640.6 413.17 L640.76 413.16 L640.92 413.16 L641.08 413.15 L641.24 413.15 L641.4 413.14 L641.56 413.14 L641.72 413.13 L641.88 413.13 L642.04 413.12 L642.21 413.11 L642.37 413.11 L642.53 413.1 L642.69 413.09 L642.85 413.09 L643.01 413.08 L643.17 413.07 L643.33 413.06 L643.49 413.06 L643.65 413.05 L643.81 413.04 L643.97 413.03 L644.14 413.02 L644.3 413.01 L644.46 413 L644.62 412.99 L644.78 412.98 L644.94 412.97 L645.1 412.96 L645.26 412.95 L645.42 412.94 L645.58 412.93 L645.74 412.91 L645.9 412.9 L646.07 412.89 L646.23 412.87 L646.39 412.86 L646.55 412.85 L646.71 412.83 L646.87 412.82 L647.03 412.8 L647.19 412.79 L647.35 412.77 L647.51 412.75 L647.67 412.74 L647.83 412.72 L647.99 412.7 L648.16 412.68 L648.32 412.67 L648.48 412.65 L648.64 412.63 L648.8 412.61 L648.96 412.59 L649.12 412.57 L649.28 412.54 L649.44 412.52 L649.6 412.5 L649.76 412.48 L649.92 412.45 L650.09 412.43 L650.25 412.41 L650.41 412.38 L650.57 412.36 L650.73 412.33 L650.89 412.3 L651.05 412.28 L651.21 412.25 L651.37 412.22 L651.53 412.2 L651.69 412.17 L651.85 412.14 L652.02 412.11 L652.18 412.08 L652.34 412.05 L652.5 412.02 L652.66 411.99 L652.82 411.96 L652.98 411.93 L653.14 411.9 L653.3 411.87 L653.46 411.83 L653.62 411.8 L653.78 411.77 L653.94 411.74 L654.11 411.7 L654.27 411.67 L654.43 411.64 L654.59 411.6 L654.75 411.57 L654.91 411.54 L655.07 411.5 L655.23 411.47 L655.39 411.43 L655.55 411.4 L655.71 411.37 L655.87 411.33 L656.04 411.3 L656.2 411.26 L656.36 411.23 L656.52 411.2 L656.68 411.16 L656.84 411.13 L657 411.1 L657.16 411.06 L657.32 411.03 L657.48 411 L657.64 410.97 L657.8 410.93 L657.97 410.9 L658.13 410.87 L658.29 410.84 L658.45 410.81 L658.61 410.78 L658.77 410.75 L658.93 410.72 L659.09 410.69 L659.25 410.66 L659.41 410.63 L659.57 410.6 L659.73 410.57 L659.89 410.54 L660.06 410.51 L660.22 410.48 L660.38 410.45 L660.54 410.42 L660.7 410.39 L660.86 410.36 L661.02 410.33 L661.18 410.3 L661.34 410.27 L661.5 410.25 L661.66 410.22 L661.82 410.19 L661.99 410.17 L662.15 410.14 L662.31 410.12 L662.47 410.09 L662.63 410.07 L662.79 410.04 L662.95 410.02 L663.11 410 L663.27 409.97 L663.43 409.95 L663.59 409.93 L663.75 409.91 L663.91 409.89 L664.08 409.87 L664.24 409.85 L664.4 409.83 L664.56 409.81 L664.72 409.79 L664.88 409.77 L665.04 409.75 L665.2 409.73 L665.36 409.71 L665.52 409.7 L665.68 409.68 L665.84 409.66 L666.01 409.64 L666.17 409.63 L666.33 409.61 L666.49 409.6 L666.65 409.58 L666.81 409.56 L666.97 409.55 L667.13 409.53 L667.29 409.52 L667.45 409.51 L667.61 409.49 L667.77 409.48 L667.94 409.46 L668.1 409.45 L668.26 409.44 L668.42 409.42 L668.58 409.41 L668.74 409.4 L668.9 409.38 L669.06 409.37 L669.22 409.36 L669.38 409.35 L669.54 409.34 L669.7 409.32 L669.86 409.31 L670.03 409.3 L670.19 409.29 L670.35 409.28 L670.51 409.27 L670.67 409.25 L670.83 409.24 L670.99 409.23 L671.15 409.22 L671.31 409.21 L671.47 409.2 L671.63 409.19 L671.79 409.18 L671.96 409.17 L672.12 409.16 L672.28 409.15 L672.44 409.14 L672.6 409.13 L672.76 409.12 L672.92 409.11 L673.08 409.1 L673.24 409.09 L673.4 409.08 L673.56 409.07 L673.72 409.06 L673.89 409.05 L674.05 409.04 L674.21 409.03 L674.37 409.02 L674.53 409.01 L674.69 409 L674.85 408.99 L675.01 408.99 L675.17 408.98 L675.33 408.97 L675.49 408.96 L675.65 408.95 L675.81 408.94 L675.98 408.93 L676.14 408.92 L676.3 408.91 L676.46 408.9 L676.62 408.89 L676.78 408.89 L676.94 408.88 L677.1 408.87 L677.26 408.86 L677.42 408.85 L677.58 408.84 L677.74 408.83 L677.91 408.82 L678.07 408.81 L678.23 408.81 L678.39 408.8 L678.55 408.79 L678.71 408.78 L678.87 408.77 L679.03 408.76 L679.19 408.75 L679.35 408.74 L679.51 408.73 L679.67 408.73 L679.84 408.72 L680 408.71 L680.16 408.7 L680.32 408.69 L680.48 408.68 L680.64 408.67 L680.8 408.66 L680.96 408.65 L681.12 408.65 L681.28 408.64 L681.44 408.63 L681.6 408.62 L681.76 408.61 L681.93 408.6 L682.09 408.59 L682.25 408.58 L682.41 408.57 L682.57 408.57 L682.73 408.56 L682.89 408.55 L683.05 408.54 L683.21 408.53 L683.37 408.52 L683.53 408.51 L683.69 408.5 L683.86 408.49 L684.02 408.48 L684.18 408.48 L684.34 408.47 L684.5 408.46 L684.66 408.45 L684.82 408.44 L684.98 408.43 L685.14 408.42 L685.3 408.41 L685.46 408.4 L685.62 408.39 L685.79 408.39 L685.95 408.38 L686.11 408.37 L686.27 408.36 L686.43 408.35 L686.59 408.34 L686.75 408.33 L686.91 408.32 L687.07 408.31 L687.23 408.3 L687.39 408.29 L687.55 408.28 L687.71 408.27 L687.88 408.27 L688.04 408.26 L688.2 408.25 L688.36 408.24 L688.52 408.23 L688.68 408.22 L688.84 408.21 L689 408.2 L689.16 408.19 L689.32 408.18 L689.48 408.17 L689.64 408.16 L689.81 408.15 L689.97 408.14 L690.13 408.13 L690.29 408.13 L690.45 408.12 L690.61 408.11 L690.77 408.1 L690.93 408.09 L691.09 408.08 L691.25 408.07 L691.41 408.06 L691.57 408.05 L691.73 408.04 L691.9 408.03 L692.06 408.02 L692.22 408.01 L692.38 408 L692.54 407.99 L692.7 407.98 L692.86 407.97 L693.02 407.96 L693.18 407.95 L693.34 407.95 L693.5 407.94 L693.66 407.93 L693.83 407.92 L693.99 407.91 L694.15 407.9 L694.31 407.89 L694.47 407.88 L694.63 407.87 L694.79 407.86 L694.95 407.85 L695.11 407.84 L695.27 407.83 L695.43 407.82 L695.59 407.81 L695.76 407.8 L695.92 407.79 L696.08 407.78 L696.24 407.77 L696.4 407.76 L696.56 407.75 L696.72 407.74 L696.88 407.73 L697.04 407.72 L697.2 407.71 L697.36 407.7 L697.52 407.7 L697.68 407.69 L697.85 407.68 L698.01 407.67 L698.17 407.66 L698.33 407.65 L698.49 407.64 L698.65 407.63 L698.81 407.62 L698.97 407.61 L699.13 407.6 L699.29 407.59 L699.45 407.58 L699.61 407.57 L699.78 407.56 L699.94 407.55 L700.1 407.54 L700.26 407.53 L700.42 407.52 L700.58 407.51 L700.74 407.5 L700.9 407.49 L701.06 407.48 L701.22 407.47 L701.38 407.46 L701.54 407.45 L701.71 407.44 L701.87 407.43 L702.03 407.42 L702.19 407.41 L702.35 407.41 L702.51 407.4 L702.67 407.39 L702.83 407.38 L702.99 407.37 L703.15 407.36 L703.31 407.35 L703.47 407.34 L703.63 407.33 L703.8 407.32 L703.96 407.31 L704.12 407.3 L704.28 407.29 L704.44 407.28 L704.6 407.27 L704.76 407.26 L704.92 407.25 L705.08 407.24 L705.24 407.23 L705.4 407.22 L705.56 407.21 L705.73 407.2 L705.89 407.19 L706.05 407.18 L706.21 407.17 L706.37 407.17 L706.53 407.16 L706.69 407.15 L706.85 407.14 L707.01 407.13 L707.17 407.12 L707.33 407.11 L707.49 407.1 L707.66 407.09 L707.82 407.08 L707.98 407.07 L708.14 407.06 L708.3 407.05 L708.46 407.04 L708.62 407.03 L708.78 407.02 L708.94 407.01 L709.1 407 L709.26 406.99 L709.42 406.99 L709.58 406.98 L709.75 406.97 L709.91 406.96 L710.07 406.95 L710.23 406.94 L710.39 406.93 L710.55 406.92 L710.71 406.91 L710.87 406.9 L711.03 406.89 L711.19 406.88 L711.35 406.87 L711.51 406.86 L711.68 406.86 L711.84 406.85 L712 406.84 L712.16 406.83 L712.32 406.82 L712.48 406.81 L712.64 406.8 L712.8 406.79 L712.96 406.78 L713.12 406.77 L713.28 406.76 L713.44 406.76 L713.6 406.75 L713.77 406.74 L713.93 406.73 L714.09 406.72 L714.25 406.71 L714.41 406.7 L714.57 406.69 L714.73 406.68 L714.89 406.67 L715.05 406.67 L715.21 406.66 L715.37 406.65 L715.53 406.64 L715.7 406.63 L715.86 406.62 L716.02 406.61 L716.18 406.6 L716.34 406.6 L716.5 406.59 L716.66 406.58 L716.82 406.57 L716.98 406.56 L717.14 406.55 L717.3 406.54 L717.46 406.54 L717.63 406.53 L717.79 406.52 L717.95 406.51 L718.11 406.5 L718.27 406.49 L718.43 406.48 L718.59 406.48 L718.75 406.47 L718.91 406.46 L719.07 406.45 L719.23 406.44 L719.39 406.43 L719.55 406.43 L719.72 406.42 L719.88 406.41 L720.04 406.4 L720.2 406.39 L720.36 406.38 L720.52 406.38 L720.68 406.37 L720.84 406.36 L721 406.35 L721.16 406.34 L721.32 406.34 L721.48 406.33 L721.65 406.32 L721.81 406.31 L721.97 406.3 L722.13 406.3 L722.29 406.29 L722.45 406.28 L722.61 406.27 L722.77 406.26 L722.93 406.26 L723.09 406.25 L723.25 406.24 L723.41 406.23 L723.58 406.22 L723.74 406.22 L723.9 406.21 L724.06 406.2 L724.22 406.19 L724.38 406.19 L724.54 406.18 L724.7 406.17 L724.86 406.16 L725.02 406.16 L725.18 406.15 L725.34 406.14 L725.5 406.13 L725.67 406.13 L725.83 406.12 L725.99 406.11 L726.15 406.11 L726.31 406.1 L726.47 406.09 L726.63 406.08 L726.79 406.08 L726.95 406.07 L727.11 406.06 L727.27 406.06 L727.43 406.05 L727.6 406.04 L727.76 406.03 L727.92 406.03 L728.08 406.02 L728.24 406.01 L728.4 406.01 L728.56 406 L728.72 405.99 L728.88 405.99 L729.04 405.98 L729.2 405.97 L729.36 405.97 L729.53 405.96 L729.69 405.95 L729.85 405.95 L730.01 405.94 L730.17 405.93 L730.33 405.93 L730.49 405.92 L730.65 405.91 L730.81 405.91 L730.97 405.9 L731.13 405.9 L731.29 405.89 L731.45 405.88 L731.62 405.88 L731.78 405.87 L731.94 405.87 L732.1 405.86 L732.26 405.85 L732.42 405.85 L732.58 405.84 L732.74 405.84 L732.9 405.83 L733.06 405.82 L733.22 405.82 L733.38 405.81 L733.55 405.81 L733.71 405.8 L733.87 405.8 L734.03 405.79 L734.19 405.78 L734.35 405.78 L734.51 405.77 L734.67 405.77 L734.83 405.76 L734.99 405.76 L735.15 405.75 L735.31 405.75 L735.47 405.74 L735.64 405.74 L735.8 405.73 L735.96 405.73 L736.12 405.72 L736.28 405.72 L736.44 405.71 L736.6 405.71 L736.76 405.7 L736.92 405.7 L737.08 405.69 L737.24 405.69 L737.4 405.68 L737.57 405.68 L737.73 405.67 L737.89 405.67 L738.05 405.66 L738.21 405.66 L738.37 405.65 L738.53 405.65 L738.69 405.65 L738.85 405.64 L739.01 405.64 L739.17 405.63 L739.33 405.63 L739.5 405.62 L739.66 405.62 L739.82 405.62 L739.98 405.61 L740.14 405.61 L740.3 405.6 L740.46 405.6 L740.62 405.6 L740.78 405.6 L740.94 405.6 L741.1 405.6 L741.26 405.6 L741.42 405.6 L741.59 405.59 L741.75 405.59 L741.91 405.59 L742.07 405.59 L742.23 405.59 L742.39 405.59 L742.55 405.59 L742.71 405.59 L742.87 405.59 L743.03 405.59 L743.19 405.59 L743.35 405.59 L743.52 405.59 L743.68 405.59 L743.84 405.58 L744 405.58 L744.16 405.58 L744.32 405.58 L744.48 405.58 L744.64 405.58 L744.8 405.58 L744.96 405.58 L745.12 405.58 L745.28 405.58 L745.45 405.58 L745.61 405.58 L745.77 405.58 L745.93 405.58 L746.09 405.57 L746.25 405.57 L746.41 405.57 L746.57 405.57 L746.73 405.57 L746.89 405.57 L747.05 405.57 L747.21 405.57 L747.37 405.57 L747.54 405.57 L747.7 405.57 L747.86 405.57 L748.02 405.57 L748.18 405.56 L748.34 405.56 L748.5 405.56 L748.66 405.56 L748.82 405.56 L748.98 405.56 L749.14 405.56 L749.3 405.56 L749.47 405.56 L749.63 405.56 L749.79 405.56 L749.95 405.56 L750.11 405.56 L750.27 405.56 L750.43 405.55 L750.59 405.55 L750.75 405.55 L750.91 405.55 L751.07 405.55 L751.23 405.55 L751.39 405.55 L751.56 405.55 L751.72 405.55 L751.88 405.55 L752.04 405.55 L752.2 405.55 L752.36 405.55 L752.52 405.54 L752.68 405.54 L752.84 405.54 L753 405.54 L753.16 405.54 L753.32 405.54 L753.49 405.54 L753.65 405.54 L753.81 405.54 L753.97 405.54 L754.13 405.54 L754.29 405.54 L754.45 405.54 L754.61 405.54 L754.77 405.53 L754.93 405.53 L755.09 405.53 L755.25 405.53 L755.42 405.53 L755.58 405.53 L755.74 405.53 L755.9 405.53 L756.06 405.53 L756.22 405.53 L756.38 405.53 L756.54 405.53 L756.7 405.53 L756.86 405.53 L757.02 405.52 L757.18 405.52 L757.34 405.52 L757.51 405.52 L757.67 405.52 L757.83 405.52 L757.99 405.52 L758.15 405.52 L758.31 405.52 L758.47 405.52 L758.63 405.52 L758.79 405.52 L758.95 405.52 L759.11 405.51 L759.27 405.51 L759.44 405.51 L759.6 405.51 L759.76 405.51 L759.92 405.51 L760.08 405.51 L760.24 405.51 L760.4 405.51 L760.56 405.51 L760.72 405.51 L760.88 405.51 L761.04 405.51 L761.2 405.51 L761.37 405.5 L761.53 405.5 L761.69 405.5 L761.85 405.5 L762.01 405.5 L762.17 405.5 L762.33 405.5 L762.49 405.5 L762.65 405.5 L762.81 405.5 L762.97 405.5 L763.13 405.5 L763.29 405.5 L763.46 405.49 L763.62 405.49 L763.78 405.49 L763.94 405.49 L764.1 405.49 L764.26 405.49 L764.42 405.49 L764.58 405.49 L764.74 405.49 L764.9 405.49 L765.06 405.49 L765.22 405.49 L765.39 405.49 L765.55 405.49 L765.71 405.48 L765.87 405.48 L766.03 405.48 L766.19 405.48 L766.35 405.48 L766.51 405.48 L766.67 405.48 L766.83 405.48 L766.99 405.48 L767.15 405.48 L767.32 405.48 L767.48 405.48 L767.64 405.48 L767.8 405.48 L767.96 405.47 L768.12 405.47 L768.28 405.47 L768.44 405.47 L768.6 405.47 L768.76 405.47 L768.92 405.47 L769.08 405.47 L769.24 405.47 L769.41 405.47 L769.57 405.47 L769.73 405.47 L769.89 405.47 L770.05 405.46 L770.21 405.46 L770.37 405.46 L770.53 405.46 L770.69 405.46 L770.85 405.46 L771.01 405.46 L771.17 405.46 L771.34 405.46 L771.5 405.46 L771.66 405.46 L771.82 405.46 L771.98 405.46 L772.14 405.46 L772.3 405.45 L772.46 405.45 L772.62 405.45 L772.78 405.45 L772.94 405.45 L773.1 405.45 L773.26 405.45 L773.43 405.45 L773.59 405.45 L773.75 405.45 L773.91 405.45 L774.07 405.45 L774.23 405.45 L774.39 405.44 L774.55 405.44 L774.71 405.44 L774.87 405.44 L775.03 405.44 L775.19 405.44 L775.36 405.44 L775.52 405.44 L775.68 405.44 L775.84 405.44 L776 405.44 L776.16 405.44 L776.32 405.44 L776.48 405.44 L776.64 405.43 L776.8 405.43 L776.96 405.43 L777.12 405.43 L777.29 405.43 L777.45 405.43 L777.61 405.43 L777.77 405.43 L777.93 405.43 L778.09 405.43 L778.25 405.43 L778.41 405.43 L778.57 405.43 L778.73 405.43 L778.89 405.42 L779.05 405.42 L779.21 405.42 L779.38 405.42 L779.54 405.42 L779.7 405.42 L779.86 405.42 L780.02 405.42 L780.18 405.42 L780.34 405.42 L780.5 405.42 L780.66 405.42 L780.82 405.42 L780.98 405.41 L781.14 405.41 L781.31 405.41 L781.47 405.41 L781.63 405.41 L781.79 405.41 L781.95 405.41 L782.11 405.41 L782.27 405.41 L782.43 405.41 L782.59 405.41 L782.75 405.41 L782.91 405.41 L783.07 405.41 L783.24 405.4 L783.4 405.4 L783.56 405.4 L783.72 405.4 L783.88 405.4 L784.04 405.4 L784.2 405.4" fill="none" stroke="#8db7e8" stroke-width="1.2" stroke-linejoin="round" />
<path d="M565.5 414.1 L565.66 414.1 L565.82 414.1 L565.98 414.1 L566.14 414.1 L566.3 414.1 L566.46 414.1 L566.63 414.1 L566.79 414.1 L566.95 414.1 L567.11 414.1 L567.27 414.1 L567.43 414.1 L567.59 414.1 L567.75 414.1 L567.91 414.1 L568.07 414.1 L568.23 414.1 L568.39 414.1 L568.56 414.1 L568.72 414.1 L568.88 414.1 L569.04 414.1 L569.2 414.1 L569.36 414.1 L569.52 414.1 L569.68 414.1 L569.84 414.1 L570 414.1 L570.16 414.1 L570.32 414.1 L570.49 414.1 L570.65 414.1 L570.81 414.1 L570.97 414.1 L571.13 414.1 L571.29 414.1 L571.45 414.1 L571.61 414.1 L571.77 414.1 L571.93 414.1 L572.09 414.1 L572.25 414.1 L572.41 414.1 L572.58 414.1 L572.74 414.1 L572.9 414.1 L573.06 414.1 L573.22 414.1 L573.38 414.1 L573.54 414.1 L573.7 414.1 L573.86 414.1 L574.02 414.1 L574.18 414.1 L574.34 414.1 L574.51 414.1 L574.67 414.1 L574.83 414.1 L574.99 414.1 L575.15 414.1 L575.31 414.1 L575.47 414.1 L575.63 414.1 L575.79 414.1 L575.95 414.1 L576.11 414.1 L576.27 414.1 L576.44 414.1 L576.6 414.1 L576.76 414.1 L576.92 414.1 L577.08 414.1 L577.24 414.1 L577.4 414.1 L577.56 414.1 L577.72 414.1 L577.88 414.1 L578.04 414.1 L578.2 414.1 L578.36 414.1 L578.53 414.1 L578.69 414.1 L578.85 414.1 L579.01 414.1 L579.17 414.1 L579.33 414.1 L579.49 414.1 L579.65 414.1 L579.81 414.1 L579.97 414.1 L580.13 414.1 L580.29 414.1 L580.46 414.1 L580.62 414.1 L580.78 414.1 L580.94 414.1 L581.1 414.1 L581.26 414.1 L581.42 414.1 L581.58 414.1 L581.74 414.1 L581.9 414.1 L582.06 414.1 L582.22 414.1 L582.38 414.1 L582.55 414.1 L582.71 414.1 L582.87 414.1 L583.03 414.1 L583.19 414.1 L583.35 414.1 L583.51 414.1 L583.67 414.1 L583.83 414.1 L583.99 414.1 L584.15 414.1 L584.31 414.1 L584.48 414.1 L584.64 414.1 L584.8 414.1 L584.96 414.1 L585.12 414.1 L585.28 414.1 L585.44 414.1 L585.6 414.1 L585.76 414.1 L585.92 414.1 L586.08 414.1 L586.24 414.1 L586.41 414.1 L586.57 414.1 L586.73 414.1 L586.89 414.1 L587.05 414.1 L587.21 414.1 L587.37 414.1 L587.53 414.1 L587.69 414.1 L587.85 414.1 L588.01 414.1 L588.17 414.1 L588.33 414.1 L588.5 414.1 L588.66 414.1 L588.82 414.1 L588.98 414.1 L589.14 414.1 L589.3 414.1 L589.46 414.1 L589.62 414.1 L589.78 414.1 L589.94 414.1 L590.1 414.1 L590.26 414.1 L590.43 414.1 L590.59 414.1 L590.75 414.1 L590.91 414.1 L591.07 414.1 L591.23 414.1 L591.39 414.1 L591.55 414.1 L591.71 414.1 L591.87 414.1 L592.03 414.1 L592.19 414.1 L592.36 414.1 L592.52 414.1 L592.68 414.1 L592.84 414.1 L593 414.1 L593.16 414.1 L593.32 414.1 L593.48 414.1 L593.64 414.1 L593.8 414.1 L593.96 414.1 L594.12 414.1 L594.28 414.1 L594.45 414.1 L594.61 414.1 L594.77 414.1 L594.93 414.1 L595.09 414.1 L595.25 414.1 L595.41 414.1 L595.57 414.1 L595.73 414.1 L595.89 414.1 L596.05 414.1 L596.21 414.1 L596.38 414.1 L596.54 414.1 L596.7 414.1 L596.86 414.1 L597.02 414.1 L597.18 414.1 L597.34 414.1 L597.5 414.1 L597.66 414.1 L597.82 414.1 L597.98 414.1 L598.14 414.1 L598.31 414.1 L598.47 414.1 L598.63 414.1 L598.79 414.1 L598.95 414.1 L599.11 414.1 L599.27 414.1 L599.43 414.1 L599.59 414.1 L599.75 414.1 L599.91 414.1 L600.07 414.1 L600.23 414.1 L600.4 414.1 L600.56 414.1 L600.72 414.1 L600.88 414.1 L601.04 414.1 L601.2 414.1 L601.36 414.1 L601.52 414.1 L601.68 414.1 L601.84 414.1 L602 414.1 L602.16 414.1 L602.33 414.1 L602.49 414.1 L602.65 414.1 L602.81 414.1 L602.97 414.1 L603.13 414.1 L603.29 414.1 L603.45 414.1 L603.61 414.1 L603.77 414.1 L603.93 414.1 L604.09 414.1 L604.25 414.1 L604.42 414.1 L604.58 414.1 L604.74 414.1 L604.9 414.1 L605.06 414.1 L605.22 414.1 L605.38 414.1 L605.54 414.1 L605.7 414.1 L605.86 414.1 L606.02 414.1 L606.18 414.1 L606.35 414.1 L606.51 414.1 L606.67 414.1 L606.83 414.1 L606.99 414.1 L607.15 414.1 L607.31 414.1 L607.47 414.1 L607.63 414.1 L607.79 414.1 L607.95 414.1 L608.11 414.1 L608.28 414.1 L608.44 414.1 L608.6 414.1 L608.76 414.1 L608.92 414.1 L609.08 414.1 L609.24 414.1 L609.4 414.1 L609.56 414.1 L609.72 414.1 L609.88 414.1 L610.04 414.1 L610.2 414.1 L610.37 414.1 L610.53 414.1 L610.69 414.1 L610.85 414.1 L611.01 414.1 L611.17 414.1 L611.33 414.1 L611.49 414.1 L611.65 414.1 L611.81 414.1 L611.97 414.1 L612.13 414.1 L612.3 414.1 L612.46 414.1 L612.62 414.1 L612.78 414.1 L612.94 414.1 L613.1 414.1 L613.26 414.1 L613.42 414.1 L613.58 414.1 L613.74 414.1 L613.9 414.1 L614.06 414.1 L614.23 414.1 L614.39 414.1 L614.55 414.1 L614.71 414.1 L614.87 414.1 L615.03 414.1 L615.19 414.1 L615.35 414.1 L615.51 414.1 L615.67 414.1 L615.83 414.1 L615.99 414.1 L616.15 414.1 L616.32 414.1 L616.48 414.1 L616.64 414.1 L616.8 414.1 L616.96 414.1 L617.12 414.1 L617.28 414.1 L617.44 414.1 L617.6 414.1 L617.76 414.1 L617.92 414.1 L618.08 414.1 L618.25 414.1 L618.41 414.1 L618.57 414.1 L618.73 414.1 L618.89 414.1 L619.05 414.1 L619.21 414.1 L619.37 414.1 L619.53 414.1 L619.69 414.1 L619.85 414.1 L620.01 414.1 L620.17 414.1 L620.34 414.1 L620.5 414.1 L620.66 414.1 L620.82 414.1 L620.98 414.1 L621.14 414.1 L621.3 414.1 L621.46 414.1 L621.62 414.1 L621.78 414.1 L621.94 414.1 L622.1 414.1 L622.27 414.1 L622.43 414.1 L622.59 414.1 L622.75 414.1 L622.91 414.1 L623.07 414.1 L623.23 414.1 L623.39 414.1 L623.55 414.1 L623.71 414.1 L623.87 414.1 L624.03 414.1 L624.2 414.1 L624.36 414.1 L624.52 414.1 L624.68 414.1 L624.84 414.1 L625 414.1 L625.16 414.1 L625.32 414.1 L625.48 414.1 L625.64 414.1 L625.8 414.09 L625.96 414.09 L626.12 414.09 L626.29 414.09 L626.45 414.09 L626.61 414.09 L626.77 414.09 L626.93 414.09 L627.09 414.09 L627.25 414.09 L627.41 414.09 L627.57 414.09 L627.73 414.09 L627.89 414.09 L628.05 414.09 L628.22 414.09 L628.38 414.09 L628.54 414.09 L628.7 414.09 L628.86 414.09 L629.02 414.09 L629.18 414.09 L629.34 414.09 L629.5 414.09 L629.66 414.09 L629.82 414.09 L629.98 414.09 L630.15 414.09 L630.31 414.09 L630.47 414.09 L630.63 414.09 L630.79 414.08 L630.95 414.08 L631.11 414.08 L631.27 414.08 L631.43 414.08 L631.59 414.08 L631.75 414.08 L631.91 414.08 L632.07 414.08 L632.24 414.08 L632.4 414.08 L632.56 414.08 L632.72 414.08 L632.88 414.08 L633.04 414.07 L633.2 414.07 L633.36 414.07 L633.52 414.07 L633.68 414.07 L633.84 414.07 L634 414.07 L634.17 414.07 L634.33 414.07 L634.49 414.07 L634.65 414.06 L634.81 414.06 L634.97 414.06 L635.13 414.06 L635.29 414.06 L635.45 414.06 L635.61 414.06 L635.77 414.05 L635.93 414.05 L636.1 414.05 L636.26 414.05 L636.42 414.05 L636.58 414.04 L636.74 414.04 L636.9 414.04 L637.06 414.04 L637.22 414.04 L637.38 414.03 L637.54 414.03 L637.7 414.03 L637.86 414.03 L638.02 414.02 L638.19 414.02 L638.35 414.02 L638.51 414.02 L638.67 414.01 L638.83 414.01 L638.99 414.01 L639.15 414 L639.31 414 L639.47 414 L639.63 413.99 L639.79 413.99 L639.95 413.98 L640.12 413.98 L640.28 413.98 L640.44 413.97 L640.6 413.97 L640.76 413.96 L640.92 413.96 L641.08 413.95 L641.24 413.95 L641.4 413.94 L641.56 413.94 L641.72 413.93 L641.88 413.93 L642.04 413.92 L642.21 413.91 L642.37 413.91 L642.53 413.9 L642.69 413.89 L642.85 413.89 L643.01 413.88 L643.17 413.87 L643.33 413.86 L643.49 413.86 L643.65 413.85 L643.81 413.84 L643.97 413.83 L644.14 413.82 L644.3 413.81 L644.46 413.8 L644.62 413.79 L644.78 413.78 L644.94 413.77 L645.1 413.76 L645.26 413.75 L645.42 413.74 L645.58 413.73 L645.74 413.71 L645.9 413.7 L646.07 413.69 L646.23 413.67 L646.39 413.66 L646.55 413.65 L646.71 413.63 L646.87 413.62 L647.03 413.6 L647.19 413.59 L647.35 413.57 L647.51 413.55 L647.67 413.54 L647.83 413.52 L647.99 413.5 L648.16 413.48 L648.32 413.47 L648.48 413.45 L648.64 413.43 L648.8 413.41 L648.96 413.39 L649.12 413.37 L649.28 413.34 L649.44 413.32 L649.6 413.3 L649.76 413.28 L649.92 413.25 L650.09 413.23 L650.25 413.21 L650.41 413.18 L650.57 413.16 L650.73 413.13 L650.89 413.1 L651.05 413.08 L651.21 413.05 L651.37 413.02 L651.53 413 L651.69 412.97 L651.85 412.94 L652.02 412.91 L652.18 412.88 L652.34 412.85 L652.5 412.82 L652.66 412.79 L652.82 412.76 L652.98 412.73 L653.14 412.7 L653.3 412.67 L653.46 412.63 L653.62 412.6 L653.78 412.57 L653.94 412.54 L654.11 412.5 L654.27 412.47 L654.43 412.44 L654.59 412.4 L654.75 412.37 L654.91 412.34 L655.07 412.3 L655.23 412.27 L655.39 412.23 L655.55 412.2 L655.71 412.17 L655.87 412.13 L656.04 412.1 L656.2 412.06 L656.36 412.03 L656.52 412 L656.68 411.96 L656.84 411.93 L657 411.9 L657.16 411.86 L657.32 411.83 L657.48 411.8 L657.64 411.77 L657.8 411.73 L657.97 411.7 L658.13 411.67 L658.29 411.64 L658.45 411.61 L658.61 411.58 L658.77 411.55 L658.93 411.52 L659.09 411.49 L659.25 411.46 L659.41 411.43 L659.57 411.4 L659.73 411.37 L659.89 411.34 L660.06 411.31 L660.22 411.28 L660.38 411.25 L660.54 411.22 L660.7 411.19 L660.86 411.16 L661.02 411.13 L661.18 411.1 L661.34 411.07 L661.5 411.05 L661.66 411.02 L661.82 410.99 L661.99 410.97 L662.15 410.94 L662.31 410.92 L662.47 410.89 L662.63 410.87 L662.79 410.84 L662.95 410.82 L663.11 410.8 L663.27 410.77 L663.43 410.75 L663.59 410.73 L663.75 410.71 L663.91 410.69 L664.08 410.67 L664.24 410.65 L664.4 410.63 L664.56 410.61 L664.72 410.59 L664.88 410.57 L665.04 410.55 L665.2 410.53 L665.36 410.51 L665.52 410.5 L665.68 410.48 L665.84 410.46 L666.01 410.44 L666.17 410.43 L666.33 410.41 L666.49 410.4 L666.65 410.38 L666.81 410.36 L666.97 410.35 L667.13 410.33 L667.29 410.32 L667.45 410.31 L667.61 410.29 L667.77 410.28 L667.94 410.26 L668.1 410.25 L668.26 410.24 L668.42 410.22 L668.58 410.21 L668.74 410.2 L668.9 410.18 L669.06 410.17 L669.22 410.16 L669.38 410.15 L669.54 410.14 L669.7 410.12 L669.86 410.11 L670.03 410.1 L670.19 410.09 L670.35 410.08 L670.51 410.07 L670.67 410.05 L670.83 410.04 L670.99 410.03 L671.15 410.02 L671.31 410.01 L671.47 410 L671.63 409.99 L671.79 409.98 L671.96 409.97 L672.12 409.96 L672.28 409.95 L672.44 409.94 L672.6 409.93 L672.76 409.92 L672.92 409.91 L673.08 409.9 L673.24 409.89 L673.4 409.88 L673.56 409.87 L673.72 409.86 L673.89 409.85 L674.05 409.84 L674.21 409.83 L674.37 409.82 L674.53 409.81 L674.69 409.8 L674.85 409.79 L675.01 409.79 L675.17 409.78 L675.33 409.77 L675.49 409.76 L675.65 409.75 L675.81 409.74 L675.98 409.73 L676.14 409.72 L676.3 409.71 L676.46 409.7 L676.62 409.69 L676.78 409.69 L676.94 409.68 L677.1 409.67 L677.26 409.66 L677.42 409.65 L677.58 409.64 L677.74 409.63 L677.91 409.62 L678.07 409.61 L678.23 409.61 L678.39 409.6 L678.55 409.59 L678.71 409.58 L678.87 409.57 L679.03 409.56 L679.19 409.55 L679.35 409.54 L679.51 409.53 L679.67 409.53 L679.84 409.52 L680 409.51 L680.16 409.5 L680.32 409.49 L680.48 409.48 L680.64 409.47 L680.8 409.46 L680.96 409.45 L681.12 409.45 L681.28 409.44 L681.44 409.43 L681.6 409.42 L681.76 409.41 L681.93 409.4 L682.09 409.39 L682.25 409.38 L682.41 409.37 L682.57 409.37 L682.73 409.36 L682.89 409.35 L683.05 409.34 L683.21 409.33 L683.37 409.32 L683.53 409.31 L683.69 409.3 L683.86 409.29 L684.02 409.28 L684.18 409.28 L684.34 409.27 L684.5 409.26 L684.66 409.25 L684.82 409.24 L684.98 409.23 L685.14 409.22 L685.3 409.21 L685.46 409.2 L685.62 409.19 L685.79 409.19 L685.95 409.18 L686.11 409.17 L686.27 409.16 L686.43 409.15 L686.59 409.14 L686.75 409.13 L686.91 409.12 L687.07 409.11 L687.23 409.1 L687.39 409.09 L687.55 409.08 L687.71 409.07 L687.88 409.07 L688.04 409.06 L688.2 409.05 L688.36 409.04 L688.52 409.03 L688.68 409.02 L688.84 409.01 L689 409 L689.16 408.99 L689.32 408.98 L689.48 408.97 L689.64 408.96 L689.81 408.95 L689.97 408.94 L690.13 408.93 L690.29 408.93 L690.45 408.92 L690.61 408.91 L690.77 408.9 L690.93 408.89 L691.09 408.88 L691.25 408.87 L691.41 408.86 L691.57 408.85 L691.73 408.84 L691.9 408.83 L692.06 408.82 L692.22 408.81 L692.38 408.8 L692.54 408.79 L692.7 408.78 L692.86 408.77 L693.02 408.76 L693.18 408.75 L693.34 408.75 L693.5 408.74 L693.66 408.73 L693.83 408.72 L693.99 408.71 L694.15 408.7 L694.31 408.69 L694.47 408.68 L694.63 408.67 L694.79 408.66 L694.95 408.65 L695.11 408.64 L695.27 408.63 L695.43 408.62 L695.59 408.61 L695.76 408.6 L695.92 408.59 L696.08 408.58 L696.24 408.57 L696.4 408.56 L696.56 408.55 L696.72 408.54 L696.88 408.53 L697.04 408.52 L697.2 408.51 L697.36 408.5 L697.52 408.5 L697.68 408.49 L697.85 408.48 L698.01 408.47 L698.17 408.46 L698.33 408.45 L698.49 408.44 L698.65 408.43 L698.81 408.42 L698.97 408.41 L699.13 408.4 L699.29 408.39 L699.45 408.38 L699.61 408.37 L699.78 408.36 L699.94 408.35 L700.1 408.34 L700.26 408.33 L700.42 408.32 L700.58 408.31 L700.74 408.3 L700.9 408.29 L701.06 408.28 L701.22 408.27 L701.38 408.26 L701.54 408.25 L701.71 408.24 L701.87 408.23 L702.03 408.22 L702.19 408.21 L702.35 408.21 L702.51 408.2 L702.67 408.19 L702.83 408.18 L702.99 408.17 L703.15 408.16 L703.31 408.15 L703.47 408.14 L703.63 408.13 L703.8 408.12 L703.96 408.11 L704.12 408.1 L704.28 408.09 L704.44 408.08 L704.6 408.07 L704.76 408.06 L704.92 408.05 L705.08 408.04 L705.24 408.03 L705.4 408.02 L705.56 408.01 L705.73 408 L705.89 407.99 L706.05 407.98 L706.21 407.97 L706.37 407.97 L706.53 407.96 L706.69 407.95 L706.85 407.94 L707.01 407.93 L707.17 407.92 L707.33 407.91 L707.49 407.9 L707.66 407.89 L707.82 407.88 L707.98 407.87 L708.14 407.86 L708.3 407.85 L708.46 407.84 L708.62 407.83 L708.78 407.82 L708.94 407.81 L709.1 407.8 L709.26 407.79 L709.42 407.79 L709.58 407.78 L709.75 407.77 L709.91 407.76 L710.07 407.75 L710.23 407.74 L710.39 407.73 L710.55 407.72 L710.71 407.71 L710.87 407.7 L711.03 407.69 L711.19 407.68 L711.35 407.67 L711.51 407.66 L711.68 407.66 L711.84 407.65 L712 407.64 L712.16 407.63 L712.32 407.62 L712.48 407.61 L712.64 407.6 L712.8 407.59 L712.96 407.58 L713.12 407.57 L713.28 407.56 L713.44 407.56 L713.6 407.55 L713.77 407.54 L713.93 407.53 L714.09 407.52 L714.25 407.51 L714.41 407.5 L714.57 407.49 L714.73 407.48 L714.89 407.47 L715.05 407.47 L715.21 407.46 L715.37 407.45 L715.53 407.44 L715.7 407.43 L715.86 407.42 L716.02 407.41 L716.18 407.4 L716.34 407.4 L716.5 407.39 L716.66 407.38 L716.82 407.37 L716.98 407.36 L717.14 407.35 L717.3 407.34 L717.46 407.34 L717.63 407.33 L717.79 407.32 L717.95 407.31 L718.11 407.3 L718.27 407.29 L718.43 407.28 L718.59 407.28 L718.75 407.27 L718.91 407.26 L719.07 407.25 L719.23 407.24 L719.39 407.23 L719.55 407.23 L719.72 407.22 L719.88 407.21 L720.04 407.2 L720.2 407.19 L720.36 407.18 L720.52 407.18 L720.68 407.17 L720.84 407.16 L721 407.15 L721.16 407.14 L721.32 407.14 L721.48 407.13 L721.65 407.12 L721.81 407.11 L721.97 407.1 L722.13 407.1 L722.29 407.09 L722.45 407.08 L722.61 407.07 L722.77 407.06 L722.93 407.06 L723.09 407.05 L723.25 407.04 L723.41 407.03 L723.58 407.02 L723.74 407.02 L723.9 407.01 L724.06 407 L724.22 406.99 L724.38 406.99 L724.54 406.98 L724.7 406.97 L724.86 406.96 L725.02 406.96 L725.18 406.95 L725.34 406.94 L725.5 406.93 L725.67 406.93 L725.83 406.92 L725.99 406.91 L726.15 406.91 L726.31 406.9 L726.47 406.89 L726.63 406.88 L726.79 406.88 L726.95 406.87 L727.11 406.86 L727.27 406.86 L727.43 406.85 L727.6 406.84 L727.76 406.83 L727.92 406.83 L728.08 406.82 L728.24 406.81 L728.4 406.81 L728.56 406.8 L728.72 406.79 L728.88 406.79 L729.04 406.78 L729.2 406.77 L729.36 406.77 L729.53 406.76 L729.69 406.75 L729.85 406.75 L730.01 406.74 L730.17 406.73 L730.33 406.73 L730.49 406.72 L730.65 406.71 L730.81 406.71 L730.97 406.7 L731.13 406.7 L731.29 406.69 L731.45 406.68 L731.62 406.68 L731.78 406.67 L731.94 406.67 L732.1 406.66 L732.26 406.65 L732.42 406.65 L732.58 406.64 L732.74 406.64 L732.9 406.63 L733.06 406.62 L733.22 406.62 L733.38 406.61 L733.55 406.61 L733.71 406.6 L733.87 406.6 L734.03 406.59 L734.19 406.58 L734.35 406.58 L734.51 406.57 L734.67 406.57 L734.83 406.56 L734.99 406.56 L735.15 406.55 L735.31 406.55 L735.47 406.54 L735.64 406.54 L735.8 406.53 L735.96 406.53 L736.12 406.52 L736.28 406.52 L736.44 406.51 L736.6 406.51 L736.76 406.5 L736.92 406.5 L737.08 406.49 L737.24 406.49 L737.4 406.48 L737.57 406.48 L737.73 406.47 L737.89 406.47 L738.05 406.46 L738.21 406.46 L738.37 406.45 L738.53 406.45 L738.69 406.45 L738.85 406.44 L739.01 406.44 L739.17 406.43 L739.33 406.43 L739.5 406.42 L739.66 406.42 L739.82 406.42 L739.98 406.41 L740.14 406.41 L740.3 406.4 L740.46 406.4 L740.62 406.4 L740.78 406.4 L740.94 406.4 L741.1 406.4 L741.26 406.4 L741.42 406.4 L741.59 406.39 L741.75 406.39 L741.91 406.39 L742.07 406.39 L742.23 406.39 L742.39 406.39 L742.55 406.39 L742.71 406.39 L742.87 406.39 L743.03 406.39 L743.19 406.39 L743.35 406.39 L743.52 406.39 L743.68 406.39 L743.84 406.38 L744 406.38 L744.16 406.38 L744.32 406.38 L744.48 406.38 L744.64 406.38 L744.8 406.38 L744.96 406.38 L745.12 406.38 L745.28 406.38 L745.45 406.38 L745.61 406.38 L745.77 406.38 L745.93 406.38 L746.09 406.37 L746.25 406.37 L746.41 406.37 L746.57 406.37 L746.73 406.37 L746.89 406.37 L747.05 406.37 L747.21 406.37 L747.37 406.37 L747.54 406.37 L747.7 406.37 L747.86 406.37 L748.02 406.37 L748.18 406.36 L748.34 406.36 L748.5 406.36 L748.66 406.36 L748.82 406.36 L748.98 406.36 L749.14 406.36 L749.3 406.36 L749.47 406.36 L749.63 406.36 L749.79 406.36 L749.95 406.36 L750.11 406.36 L750.27 406.36 L750.43 406.35 L750.59 406.35 L750.75 406.35 L750.91 406.35 L751.07 406.35 L751.23 406.35 L751.39 406.35 L751.56 406.35 L751.72 406.35 L751.88 406.35 L752.04 406.35 L752.2 406.35 L752.36 406.35 L752.52 406.34 L752.68 406.34 L752.84 406.34 L753 406.34 L753.16 406.34 L753.32 406.34 L753.49 406.34 L753.65 406.34 L753.81 406.34 L753.97 406.34 L754.13 406.34 L754.29 406.34 L754.45 406.34 L754.61 406.34 L754.77 406.33 L754.93 406.33 L755.09 406.33 L755.25 406.33 L755.42 406.33 L755.58 406.33 L755.74 406.33 L755.9 406.33 L756.06 406.33 L756.22 406.33 L756.38 406.33 L756.54 406.33 L756.7 406.33 L756.86 406.33 L757.02 406.32 L757.18 406.32 L757.34 406.32 L757.51 406.32 L757.67 406.32 L757.83 406.32 L757.99 406.32 L758.15 406.32 L758.31 406.32 L758.47 406.32 L758.63 406.32 L758.79 406.32 L758.95 406.32 L759.11 406.31 L759.27 406.31 L759.44 406.31 L759.6 406.31 L759.76 406.31 L759.92 406.31 L760.08 406.31 L760.24 406.31 L760.4 406.31 L760.56 406.31 L760.72 406.31 L760.88 406.31 L761.04 406.31 L761.2 406.31 L761.37 406.3 L761.53 406.3 L761.69 406.3 L761.85 406.3 L762.01 406.3 L762.17 406.3 L762.33 406.3 L762.49 406.3 L762.65 406.3 L762.81 406.3 L762.97 406.3 L763.13 406.3 L763.29 406.3 L763.46 406.29 L763.62 406.29 L763.78 406.29 L763.94 406.29 L764.1 406.29 L764.26 406.29 L764.42 406.29 L764.58 406.29 L764.74 406.29 L764.9 406.29 L765.06 406.29 L765.22 406.29 L765.39 406.29 L765.55 406.29 L765.71 406.28 L765.87 406.28 L766.03 406.28 L766.19 406.28 L766.35 406.28 L766.51 406.28 L766.67 406.28 L766.83 406.28 L766.99 406.28 L767.15 406.28 L767.32 406.28 L767.48 406.28 L767.64 406.28 L767.8 406.28 L767.96 406.27 L768.12 406.27 L768.28 406.27 L768.44 406.27 L768.6 406.27 L768.76 406.27 L768.92 406.27 L769.08 406.27 L769.24 406.27 L769.41 406.27 L769.57 406.27 L769.73 406.27 L769.89 406.27 L770.05 406.26 L770.21 406.26 L770.37 406.26 L770.53 406.26 L770.69 406.26 L770.85 406.26 L771.01 406.26 L771.17 406.26 L771.34 406.26 L771.5 406.26 L771.66 406.26 L771.82 406.26 L771.98 406.26 L772.14 406.26 L772.3 406.25 L772.46 406.25 L772.62 406.25 L772.78 406.25 L772.94 406.25 L773.1 406.25 L773.26 406.25 L773.43 406.25 L773.59 406.25 L773.75 406.25 L773.91 406.25 L774.07 406.25 L774.23 406.25 L774.39 406.24 L774.55 406.24 L774.71 406.24 L774.87 406.24 L775.03 406.24 L775.19 406.24 L775.36 406.24 L775.52 406.24 L775.68 406.24 L775.84 406.24 L776 406.24 L776.16 406.24 L776.32 406.24 L776.48 406.24 L776.64 406.23 L776.8 406.23 L776.96 406.23 L777.12 406.23 L777.29 406.23 L777.45 406.23 L777.61 406.23 L777.77 406.23 L777.93 406.23 L778.09 406.23 L778.25 406.23 L778.41 406.23 L778.57 406.23 L778.73 406.23 L778.89 406.22 L779.05 406.22 L779.21 406.22 L779.38 406.22 L779.54 406.22 L779.7 406.22 L779.86 406.22 L780.02 406.22 L780.18 406.22 L780.34 406.22 L780.5 406.22 L780.66 406.22 L780.82 406.22 L780.98 406.21 L781.14 406.21 L781.31 406.21 L781.47 406.21 L781.63 406.21 L781.79 406.21 L781.95 406.21 L782.11 406.21 L782.27 406.21 L782.43 406.21 L782.59 406.21 L782.75 406.21 L782.91 406.21 L783.07 406.21 L783.24 406.2 L783.4 406.2 L783.56 406.2 L783.72 406.2 L783.88 406.2 L784.04 406.2 L784.2 406.2" fill="none" stroke="#f07070" stroke-width="1.4" stroke-linejoin="round" />
<path d="M565.5 413.23 L565.66 413.23 L565.82 413.23 L565.98 413.23 L566.14 413.23 L566.3 413.23 L566.46 413.23 L566.63 413.23 L566.79 413.23 L566.95 413.22 L567.11 413.22 L567.27 413.22 L567.43 413.22 L567.59 413.22 L567.75 413.22 L567.91 413.22 L568.07 413.21 L568.23 413.21 L568.39 413.21 L568.56 413.21 L568.72 413.21 L568.88 413.21 L569.04 413.21 L569.2 413.21 L569.36 413.2 L569.52 413.2 L569.68 413.2 L569.84 413.2 L570 413.2 L570.16 413.2 L570.32 413.2 L570.49 413.19 L570.65 413.19 L570.81 413.19 L570.97 413.19 L571.13 413.19 L571.29 413.19 L571.45 413.19 L571.61 413.18 L571.77 413.18 L571.93 413.18 L572.09 413.18 L572.25 413.18 L572.41 413.18 L572.58 413.18 L572.74 413.17 L572.9 413.17 L573.06 413.17 L573.22 413.17 L573.38 413.17 L573.54 413.17 L573.7 413.16 L573.86 413.16 L574.02 413.16 L574.18 413.16 L574.34 413.16 L574.51 413.16 L574.67 413.15 L574.83 413.15 L574.99 413.15 L575.15 413.15 L575.31 413.15 L575.47 413.15 L575.63 413.15 L575.79 413.14 L575.95 413.14 L576.11 413.14 L576.27 413.14 L576.44 413.14 L576.6 413.13 L576.76 413.13 L576.92 413.13 L577.08 413.13 L577.24 413.13 L577.4 413.13 L577.56 413.12 L577.72 413.12 L577.88 413.12 L578.04 413.12 L578.2 413.12 L578.36 413.11 L578.53 413.11 L578.69 413.11 L578.85 413.11 L579.01 413.11 L579.17 413.11 L579.33 413.1 L579.49 413.1 L579.65 413.1 L579.81 413.1 L579.97 413.1 L580.13 413.09 L580.29 413.09 L580.46 413.09 L580.62 413.09 L580.78 413.09 L580.94 413.08 L581.1 413.08 L581.26 413.08 L581.42 413.08 L581.58 413.08 L581.74 413.07 L581.9 413.07 L582.06 413.07 L582.22 413.07 L582.38 413.06 L582.55 413.06 L582.71 413.06 L582.87 413.06 L583.03 413.06 L583.19 413.05 L583.35 413.05 L583.51 413.05 L583.67 413.05 L583.83 413.04 L583.99 413.04 L584.15 413.04 L584.31 413.04 L584.48 413.03 L584.64 413.03 L584.8 413.03 L584.96 413.03 L585.12 413.03 L585.28 413.02 L585.44 413.02 L585.6 413.02 L585.76 413.02 L585.92 413.01 L586.08 413.01 L586.24 413.01 L586.41 413.01 L586.57 413 L586.73 413 L586.89 413 L587.05 412.99 L587.21 412.99 L587.37 412.99 L587.53 412.99 L587.69 412.98 L587.85 412.98 L588.01 412.98 L588.17 412.98 L588.33 412.97 L588.5 412.97 L588.66 412.97 L588.82 412.96 L588.98 412.96 L589.14 412.96 L589.3 412.96 L589.46 412.95 L589.62 412.95 L589.78 412.95 L589.94 412.94 L590.1 412.94 L590.26 412.94 L590.43 412.94 L590.59 412.93 L590.75 412.93 L590.91 412.93 L591.07 412.92 L591.23 412.92 L591.39 412.92 L591.55 412.91 L591.71 412.91 L591.87 412.91 L592.03 412.9 L592.19 412.9 L592.36 412.9 L592.52 412.89 L592.68 412.89 L592.84 412.89 L593 412.88 L593.16 412.88 L593.32 412.88 L593.48 412.87 L593.64 412.87 L593.8 412.87 L593.96 412.86 L594.12 412.86 L594.28 412.86 L594.45 412.85 L594.61 412.85 L594.77 412.84 L594.93 412.84 L595.09 412.84 L595.25 412.83 L595.41 412.83 L595.57 412.83 L595.73 412.82 L595.89 412.82 L596.05 412.81 L596.21 412.81 L596.38 412.81 L596.54 412.8 L596.7 412.8 L596.86 412.79 L597.02 412.79 L597.18 412.79 L597.34 412.78 L597.5 412.78 L597.66 412.77 L597.82 412.77 L597.98 412.76 L598.14 412.76 L598.31 412.76 L598.47 412.75 L598.63 412.75 L598.79 412.74 L598.95 412.74 L599.11 412.73 L599.27 412.73 L599.43 412.72 L599.59 412.72 L599.75 412.71 L599.91 412.71 L600.07 412.71 L600.23 412.7 L600.4 412.7 L600.56 412.69 L600.72 412.69 L600.88 412.68 L601.04 412.68 L601.2 412.67 L601.36 412.67 L601.52 412.66 L601.68 412.65 L601.84 412.65 L602 412.64 L602.16 412.64 L602.33 412.63 L602.49 412.63 L602.65 412.62 L602.81 412.62 L602.97 412.61 L603.13 412.61 L603.29 412.6 L603.45 412.59 L603.61 412.59 L603.77 412.58 L603.93 412.58 L604.09 412.57 L604.25 412.56 L604.42 412.56 L604.58 412.55 L604.74 412.55 L604.9 412.54 L605.06 412.53 L605.22 412.53 L605.38 412.52 L605.54 412.51 L605.7 412.51 L605.86 412.5 L606.02 412.49 L606.18 412.49 L606.35 412.48 L606.51 412.47 L606.67 412.47 L606.83 412.46 L606.99 412.45 L607.15 412.45 L607.31 412.44 L607.47 412.43 L607.63 412.42 L607.79 412.42 L607.95 412.41 L608.11 412.4 L608.28 412.39 L608.44 412.39 L608.6 412.38 L608.76 412.37 L608.92 412.36 L609.08 412.35 L609.24 412.35 L609.4 412.34 L609.56 412.33 L609.72 412.32 L609.88 412.31 L610.04 412.31 L610.2 412.3 L610.37 412.29 L610.53 412.28 L610.69 412.27 L610.85 412.26 L611.01 412.25 L611.17 412.24 L611.33 412.23 L611.49 412.22 L611.65 412.22 L611.81 412.21 L611.97 412.2 L612.13 412.19 L612.3 412.18 L612.46 412.17 L612.62 412.16 L612.78 412.15 L612.94 412.14 L613.1 412.13 L613.26 412.12 L613.42 412.1 L613.58 412.09 L613.74 412.08 L613.9 412.07 L614.06 412.06 L614.23 412.05 L614.39 412.04 L614.55 412.03 L614.71 412.02 L614.87 412 L615.03 411.99 L615.19 411.98 L615.35 411.97 L615.51 411.96 L615.67 411.94 L615.83 411.93 L615.99 411.92 L616.15 411.9 L616.32 411.89 L616.48 411.88 L616.64 411.86 L616.8 411.85 L616.96 411.84 L617.12 411.82 L617.28 411.81 L617.44 411.8 L617.6 411.78 L617.76 411.77 L617.92 411.75 L618.08 411.74 L618.25 411.72 L618.41 411.71 L618.57 411.69 L618.73 411.68 L618.89 411.66 L619.05 411.64 L619.21 411.63 L619.37 411.61 L619.53 411.59 L619.69 411.58 L619.85 411.56 L620.01 411.54 L620.17 411.53 L620.34 411.51 L620.5 411.49 L620.66 411.47 L620.82 411.45 L620.98 411.43 L621.14 411.42 L621.3 411.4 L621.46 411.38 L621.62 411.36 L621.78 411.34 L621.94 411.32 L622.1 411.3 L622.27 411.27 L622.43 411.25 L622.59 411.23 L622.75 411.21 L622.91 411.19 L623.07 411.17 L623.23 411.14 L623.39 411.12 L623.55 411.1 L623.71 411.07 L623.87 411.05 L624.03 411.02 L624.2 411 L624.36 410.97 L624.52 410.95 L624.68 410.92 L624.84 410.9 L625 410.87 L625.16 410.84 L625.32 410.81 L625.48 410.79 L625.64 410.76 L625.8 410.73 L625.96 410.7 L626.12 410.67 L626.29 410.64 L626.45 410.61 L626.61 410.58 L626.77 410.55 L626.93 410.51 L627.09 410.48 L627.25 410.45 L627.41 410.41 L627.57 410.38 L627.73 410.34 L627.89 410.31 L628.05 410.27 L628.22 410.23 L628.38 410.2 L628.54 410.16 L628.7 410.12 L628.86 410.08 L629.02 410.04 L629.18 410 L629.34 409.96 L629.5 409.92 L629.66 409.87 L629.82 409.83 L629.98 409.78 L630.15 409.74 L630.31 409.69 L630.47 409.64 L630.63 409.59 L630.79 409.54 L630.95 409.49 L631.11 409.44 L631.27 409.39 L631.43 409.34 L631.59 409.28 L631.75 409.22 L631.91 409.17 L632.07 409.11 L632.24 409.05 L632.4 408.99 L632.56 408.92 L632.72 408.86 L632.88 408.79 L633.04 408.73 L633.2 408.66 L633.36 408.59 L633.52 408.51 L633.68 408.44 L633.84 408.36 L634 408.28 L634.17 408.2 L634.33 408.12 L634.49 408.03 L634.65 407.95 L634.81 407.85 L634.97 407.76 L635.13 407.66 L635.29 407.57 L635.45 407.46 L635.61 407.36 L635.77 407.25 L635.93 407.13 L636.1 407.02 L636.26 406.9 L636.42 406.77 L636.58 406.64 L636.74 406.51 L636.9 406.37 L637.06 406.23 L637.22 406.08 L637.38 405.92 L637.54 405.76 L637.7 405.59 L637.86 405.42 L638.02 405.24 L638.19 405.05 L638.35 404.86 L638.51 404.65 L638.67 404.44 L638.83 404.22 L638.99 403.99 L639.15 403.75 L639.31 403.51 L639.47 403.25 L639.63 402.98 L639.79 402.7 L639.95 402.4 L640.12 402.1 L640.28 401.78 L640.44 401.45 L640.6 401.1 L640.76 400.74 L640.92 400.37 L641.08 399.98 L641.24 399.57 L641.4 399.15 L641.56 398.71 L641.72 398.25 L641.88 397.77 L642.04 397.27 L642.21 396.75 L642.37 396.21 L642.53 395.65 L642.69 395.07 L642.85 394.46 L643.01 393.83 L643.17 393.17 L643.33 392.49 L643.49 391.79 L643.65 391.05 L643.81 390.29 L643.97 389.51 L644.14 388.69 L644.3 387.84 L644.46 386.97 L644.62 386.06 L644.78 385.12 L644.94 384.15 L645.1 383.14 L645.26 382.1 L645.42 381.03 L645.58 379.93 L645.74 378.78 L645.9 377.61 L646.07 376.39 L646.23 375.14 L646.39 373.85 L646.55 372.53 L646.71 371.16 L646.87 369.76 L647.03 368.32 L647.19 366.84 L647.35 365.31 L647.51 363.75 L647.67 362.15 L647.83 360.51 L647.99 358.83 L648.16 357.11 L648.32 355.34 L648.48 353.54 L648.64 351.69 L648.8 349.81 L648.96 347.88 L649.12 345.92 L649.28 343.91 L649.44 341.87 L649.6 339.79 L649.76 337.67 L649.92 335.52 L650.09 333.32 L650.25 331.1 L650.41 328.84 L650.57 326.55 L650.73 324.24 L650.89 321.89 L651.05 319.52 L651.21 317.13 L651.37 314.73 L651.53 312.31 L651.69 309.88 L651.85 307.45 L652.02 305.02 L652.18 302.59 L652.34 300.18 L652.5 297.79 L652.66 295.44 L652.82 293.11 L652.98 290.84 L653.14 288.62 L653.3 286.47 L653.46 284.4 L653.62 282.42 L653.78 280.53 L653.94 278.76 L654.11 277.11 L654.27 275.6 L654.43 274.23 L654.59 273.01 L654.75 271.96 L654.91 271.09 L655.07 270.39 L655.23 269.88 L655.39 269.55 L655.55 269.42 L655.71 269.48 L655.87 269.74 L656.04 270.18 L656.2 270.81 L656.36 271.61 L656.52 272.6 L656.68 273.74 L656.84 275.04 L657 276.49 L657.16 278.07 L657.32 279.77 L657.48 281.59 L657.64 283.5 L657.8 285.51 L657.97 287.59 L658.13 289.75 L658.29 291.96 L658.45 294.21 L658.61 296.51 L658.77 298.83 L658.93 301.18 L659.09 303.55 L659.25 305.92 L659.41 308.29 L659.57 310.66 L659.73 313.01 L659.89 315.36 L660.06 317.69 L660.22 320 L660.38 322.28 L660.54 324.54 L660.7 326.77 L660.86 328.97 L661.02 331.14 L661.18 333.28 L661.34 335.38 L661.5 337.45 L661.66 339.48 L661.82 341.47 L661.99 343.43 L662.15 345.34 L662.31 347.22 L662.47 349.06 L662.63 350.86 L662.79 352.61 L662.95 354.33 L663.11 356.01 L663.27 357.65 L663.43 359.25 L663.59 360.81 L663.75 362.33 L663.91 363.81 L664.08 365.26 L664.24 366.66 L664.4 368.03 L664.56 369.35 L664.72 370.64 L664.88 371.9 L665.04 373.11 L665.2 374.29 L665.36 375.44 L665.52 376.55 L665.68 377.62 L665.84 378.66 L666.01 379.67 L666.17 380.65 L666.33 381.59 L666.49 382.5 L666.65 383.38 L666.81 384.23 L666.97 385.05 L667.13 385.84 L667.29 386.6 L667.45 387.33 L667.61 388.04 L667.77 388.72 L667.94 389.38 L668.1 390.01 L668.26 390.62 L668.42 391.2 L668.58 391.76 L668.74 392.3 L668.9 392.82 L669.06 393.32 L669.22 393.79 L669.38 394.25 L669.54 394.69 L669.7 395.11 L669.86 395.52 L670.03 395.9 L670.19 396.27 L670.35 396.63 L670.51 396.97 L670.67 397.3 L670.83 397.61 L670.99 397.91 L671.15 398.2 L671.31 398.47 L671.47 398.74 L671.63 398.99 L671.79 399.23 L671.96 399.46 L672.12 399.69 L672.28 399.9 L672.44 400.1 L672.6 400.3 L672.76 400.48 L672.92 400.66 L673.08 400.84 L673.24 401 L673.4 401.16 L673.56 401.31 L673.72 401.46 L673.89 401.6 L674.05 401.73 L674.21 401.86 L674.37 401.98 L674.53 402.1 L674.69 402.22 L674.85 402.33 L675.01 402.44 L675.17 402.54 L675.33 402.64 L675.49 402.73 L675.65 402.82 L675.81 402.91 L675.98 403 L676.14 403.08 L676.3 403.16 L676.46 403.24 L676.62 403.31 L676.78 403.38 L676.94 403.45 L677.1 403.52 L677.26 403.59 L677.42 403.65 L677.58 403.71 L677.74 403.77 L677.91 403.83 L678.07 403.88 L678.23 403.94 L678.39 403.99 L678.55 404.04 L678.71 404.09 L678.87 404.14 L679.03 404.18 L679.19 404.23 L679.35 404.27 L679.51 404.31 L679.67 404.36 L679.84 404.4 L680 404.44 L680.16 404.47 L680.32 404.51 L680.48 404.55 L680.64 404.58 L680.8 404.62 L680.96 404.65 L681.12 404.68 L681.28 404.71 L681.44 404.74 L681.6 404.77 L681.76 404.8 L681.93 404.83 L682.09 404.86 L682.25 404.88 L682.41 404.91 L682.57 404.93 L682.73 404.96 L682.89 404.98 L683.05 405 L683.21 405.03 L683.37 405.05 L683.53 405.07 L683.69 405.09 L683.86 405.11 L684.02 405.13 L684.18 405.15 L684.34 405.17 L684.5 405.18 L684.66 405.2 L684.82 405.22 L684.98 405.23 L685.14 405.25 L685.3 405.26 L685.46 405.28 L685.62 405.29 L685.79 405.3 L685.95 405.32 L686.11 405.33 L686.27 405.34 L686.43 405.35 L686.59 405.36 L686.75 405.37 L686.91 405.38 L687.07 405.39 L687.23 405.4 L687.39 405.41 L687.55 405.42 L687.71 405.43 L687.88 405.43 L688.04 405.44 L688.2 405.45 L688.36 405.45 L688.52 405.46 L688.68 405.47 L688.84 405.47 L689 405.48 L689.16 405.48 L689.32 405.49 L689.48 405.49 L689.64 405.49 L689.81 405.5 L689.97 405.5 L690.13 405.5 L690.29 405.5 L690.45 405.51 L690.61 405.51 L690.77 405.51 L690.93 405.51 L691.09 405.51 L691.25 405.51 L691.41 405.51 L691.57 405.51 L691.73 405.51 L691.9 405.51 L692.06 405.51 L692.22 405.51 L692.38 405.5 L692.54 405.5 L692.7 405.5 L692.86 405.5 L693.02 405.49 L693.18 405.49 L693.34 405.49 L693.5 405.48 L693.66 405.48 L693.83 405.47 L693.99 405.47 L694.15 405.46 L694.31 405.46 L694.47 405.45 L694.63 405.45 L694.79 405.44 L694.95 405.43 L695.11 405.43 L695.27 405.42 L695.43 405.41 L695.59 405.41 L695.76 405.4 L695.92 405.39 L696.08 405.38 L696.24 405.37 L696.4 405.36 L696.56 405.36 L696.72 405.35 L696.88 405.34 L697.04 405.33 L697.2 405.32 L697.36 405.31 L697.52 405.3 L697.68 405.28 L697.85 405.27 L698.01 405.26 L698.17 405.25 L698.33 405.24 L698.49 405.23 L698.65 405.21 L698.81 405.2 L698.97 405.19 L699.13 405.17 L699.29 405.16 L699.45 405.14 L699.61 405.13 L699.78 405.12 L699.94 405.1 L700.1 405.09 L700.26 405.07 L700.42 405.05 L700.58 405.04 L700.74 405.02 L700.9 405 L701.06 404.99 L701.22 404.97 L701.38 404.95 L701.54 404.93 L701.71 404.92 L701.87 404.9 L702.03 404.88 L702.19 404.86 L702.35 404.84 L702.51 404.82 L702.67 404.8 L702.83 404.78 L702.99 404.76 L703.15 404.73 L703.31 404.71 L703.47 404.69 L703.63 404.67 L703.8 404.64 L703.96 404.62 L704.12 404.6 L704.28 404.57 L704.44 404.55 L704.6 404.52 L704.76 404.5 L704.92 404.47 L705.08 404.44 L705.24 404.42 L705.4 404.39 L705.56 404.36 L705.73 404.33 L705.89 404.3 L706.05 404.27 L706.21 404.24 L706.37 404.21 L706.53 404.18 L706.69 404.15 L706.85 404.12 L707.01 404.09 L707.17 404.05 L707.33 404.02 L707.49 403.99 L707.66 403.95 L707.82 403.92 L707.98 403.88 L708.14 403.84 L708.3 403.8 L708.46 403.76 L708.62 403.73 L708.78 403.69 L708.94 403.64 L709.1 403.6 L709.26 403.56 L709.42 403.52 L709.58 403.47 L709.75 403.43 L709.91 403.38 L710.07 403.33 L710.23 403.28 L710.39 403.23 L710.55 403.18 L710.71 403.13 L710.87 403.08 L711.03 403.02 L711.19 402.97 L711.35 402.91 L711.51 402.85 L711.68 402.79 L711.84 402.73 L712 402.66 L712.16 402.59 L712.32 402.53 L712.48 402.46 L712.64 402.38 L712.8 402.31 L712.96 402.23 L713.12 402.16 L713.28 402.07 L713.44 401.99 L713.6 401.9 L713.77 401.81 L713.93 401.72 L714.09 401.62 L714.25 401.52 L714.41 401.42 L714.57 401.31 L714.73 401.2 L714.89 401.09 L715.05 400.97 L715.21 400.84 L715.37 400.72 L715.53 400.58 L715.7 400.44 L715.86 400.3 L716.02 400.15 L716.18 399.99 L716.34 399.83 L716.5 399.66 L716.66 399.49 L716.82 399.31 L716.98 399.12 L717.14 398.92 L717.3 398.71 L717.46 398.5 L717.63 398.27 L717.79 398.04 L717.95 397.8 L718.11 397.55 L718.27 397.28 L718.43 397.01 L718.59 396.72 L718.75 396.43 L718.91 396.12 L719.07 395.8 L719.23 395.46 L719.39 395.12 L719.55 394.75 L719.72 394.38 L719.88 393.99 L720.04 393.58 L720.2 393.16 L720.36 392.72 L720.52 392.27 L720.68 391.79 L720.84 391.31 L721 390.8 L721.16 390.27 L721.32 389.73 L721.48 389.16 L721.65 388.58 L721.81 387.97 L721.97 387.34 L722.13 386.7 L722.29 386.03 L722.45 385.34 L722.61 384.62 L722.77 383.88 L722.93 383.12 L723.09 382.34 L723.25 381.53 L723.41 380.7 L723.58 379.84 L723.74 378.96 L723.9 378.05 L724.06 377.12 L724.22 376.16 L724.38 375.17 L724.54 374.16 L724.7 373.12 L724.86 372.06 L725.02 370.97 L725.18 369.85 L725.34 368.71 L725.5 367.53 L725.67 366.34 L725.83 365.11 L725.99 363.86 L726.15 362.58 L726.31 361.27 L726.47 359.94 L726.63 358.59 L726.79 357.21 L726.95 355.8 L727.11 354.37 L727.27 352.91 L727.43 351.44 L727.6 349.94 L727.76 348.42 L727.92 346.88 L728.08 345.33 L728.24 343.76 L728.4 342.17 L728.56 340.58 L728.72 338.97 L728.88 337.36 L729.04 335.75 L729.2 334.14 L729.36 332.53 L729.53 330.94 L729.69 329.36 L729.85 327.79 L730.01 326.26 L730.17 324.75 L730.33 323.29 L730.49 321.87 L730.65 320.5 L730.81 319.19 L730.97 317.95 L731.13 316.78 L731.29 315.69 L731.45 314.7 L731.62 313.8 L731.78 313.01 L731.94 312.33 L732.1 311.76 L732.26 311.31 L732.42 310.99 L732.58 310.79 L732.74 310.72 L732.9 310.78 L733.06 310.97 L733.22 311.28 L733.38 311.72 L733.55 312.28 L733.71 312.96 L733.87 313.74 L734.03 314.63 L734.19 315.62 L734.35 316.7 L734.51 317.85 L734.67 319.09 L734.83 320.39 L734.99 321.75 L735.15 323.16 L735.31 324.62 L735.47 326.12 L735.64 327.64 L735.8 329.2 L735.96 330.77 L736.12 332.36 L736.28 333.96 L736.44 335.56 L736.6 337.17 L736.76 338.77 L736.92 340.36 L737.08 341.95 L737.24 343.53 L737.4 345.09 L737.57 346.64 L737.73 348.17 L737.89 349.68 L738.05 351.17 L738.21 352.63 L738.37 354.08 L738.53 355.5 L738.69 356.9 L738.85 358.28 L739.01 359.63 L739.17 360.95 L739.33 362.25 L739.5 363.52 L739.66 364.76 L739.82 365.98 L739.98 367.17 L740.14 368.33 L740.3 369.47 L740.46 370.58 L740.62 371.67 L740.78 372.73 L740.94 373.76 L741.1 374.77 L741.26 375.75 L741.42 376.7 L741.59 377.63 L741.75 378.53 L741.91 379.41 L742.07 380.26 L742.23 381.09 L742.39 381.9 L742.55 382.68 L742.71 383.43 L742.87 384.16 L743.03 384.87 L743.19 385.56 L743.35 386.22 L743.52 386.87 L743.68 387.49 L743.84 388.09 L744 388.67 L744.16 389.23 L744.32 389.77 L744.48 390.29 L744.64 390.79 L744.8 391.28 L744.96 391.75 L745.12 392.2 L745.28 392.63 L745.45 393.05 L745.61 393.45 L745.77 393.83 L745.93 394.2 L746.09 394.56 L746.25 394.9 L746.41 395.23 L746.57 395.55 L746.73 395.85 L746.89 396.14 L747.05 396.42 L747.21 396.69 L747.37 396.95 L747.54 397.2 L747.7 397.43 L747.86 397.66 L748.02 397.88 L748.18 398.09 L748.34 398.29 L748.5 398.48 L748.66 398.67 L748.82 398.85 L748.98 399.02 L749.14 399.18 L749.3 399.34 L749.47 399.49 L749.63 399.63 L749.79 399.77 L749.95 399.91 L750.11 400.04 L750.27 400.16 L750.43 400.28 L750.59 400.39 L750.75 400.5 L750.91 400.61 L751.07 400.71 L751.23 400.81 L751.39 400.9 L751.56 400.99 L751.72 401.08 L751.88 401.17 L752.04 401.25 L752.2 401.33 L752.36 401.41 L752.52 401.48 L752.68 401.55 L752.84 401.62 L753 401.69 L753.16 401.75 L753.32 401.82 L753.49 401.88 L753.65 401.94 L753.81 402 L753.97 402.05 L754.13 402.11 L754.29 402.16 L754.45 402.21 L754.61 402.26 L754.77 402.31 L754.93 402.36 L755.09 402.41 L755.25 402.45 L755.42 402.5 L755.58 402.54 L755.74 402.58 L755.9 402.62 L756.06 402.66 L756.22 402.7 L756.38 402.74 L756.54 402.78 L756.7 402.81 L756.86 402.85 L757.02 402.89 L757.18 402.92 L757.34 402.95 L757.51 402.99 L757.67 403.02 L757.83 403.05 L757.99 403.08 L758.15 403.11 L758.31 403.14 L758.47 403.17 L758.63 403.2 L758.79 403.23 L758.95 403.26 L759.11 403.29 L759.27 403.31 L759.44 403.34 L759.6 403.36 L759.76 403.39 L759.92 403.41 L760.08 403.44 L760.24 403.46 L760.4 403.49 L760.56 403.51 L760.72 403.53 L760.88 403.56 L761.04 403.58 L761.2 403.6 L761.37 403.62 L761.53 403.64 L761.69 403.66 L761.85 403.68 L762.01 403.7 L762.17 403.72 L762.33 403.74 L762.49 403.76 L762.65 403.78 L762.81 403.8 L762.97 403.82 L763.13 403.84 L763.29 403.85 L763.46 403.87 L763.62 403.89 L763.78 403.9 L763.94 403.92 L764.1 403.94 L764.26 403.95 L764.42 403.97 L764.58 403.99 L764.74 404 L764.9 404.02 L765.06 404.03 L765.22 404.05 L765.39 404.06 L765.55 404.07 L765.71 404.09 L765.87 404.1 L766.03 404.12 L766.19 404.13 L766.35 404.14 L766.51 404.16 L766.67 404.17 L766.83 404.18 L766.99 404.19 L767.15 404.21 L767.32 404.22 L767.48 404.23 L767.64 404.24 L767.8 404.26 L767.96 404.27 L768.12 404.28 L768.28 404.29 L768.44 404.3 L768.6 404.31 L768.76 404.32 L768.92 404.33 L769.08 404.34 L769.24 404.35 L769.41 404.36 L769.57 404.37 L769.73 404.38 L769.89 404.39 L770.05 404.4 L770.21 404.41 L770.37 404.42 L770.53 404.43 L770.69 404.44 L770.85 404.45 L771.01 404.46 L771.17 404.47 L771.34 404.48 L771.5 404.49 L771.66 404.5 L771.82 404.5 L771.98 404.51 L772.14 404.52 L772.3 404.53 L772.46 404.54 L772.62 404.54 L772.78 404.55 L772.94 404.56 L773.1 404.57 L773.26 404.58 L773.43 404.58 L773.59 404.59 L773.75 404.6 L773.91 404.6 L774.07 404.61 L774.23 404.62 L774.39 404.63 L774.55 404.63 L774.71 404.64 L774.87 404.65 L775.03 404.65 L775.19 404.66 L775.36 404.67 L775.52 404.67 L775.68 404.68 L775.84 404.68 L776 404.69 L776.16 404.7 L776.32 404.7 L776.48 404.71 L776.64 404.71 L776.8 404.72 L776.96 404.73 L777.12 404.73 L777.29 404.74 L777.45 404.74 L777.61 404.75 L777.77 404.75 L777.93 404.76 L778.09 404.76 L778.25 404.77 L778.41 404.78 L778.57 404.78 L778.73 404.79 L778.89 404.79 L779.05 404.8 L779.21 404.8 L779.38 404.81 L779.54 404.81 L779.7 404.81 L779.86 404.82 L780.02 404.82 L780.18 404.83 L780.34 404.83 L780.5 404.84 L780.66 404.84 L780.82 404.85 L780.98 404.85 L781.14 404.86 L781.31 404.86 L781.47 404.86 L781.63 404.87 L781.79 404.87 L781.95 404.88 L782.11 404.88 L782.27 404.88 L782.43 404.89 L782.59 404.89 L782.75 404.9 L782.91 404.9 L783.07 404.9 L783.24 404.91 L783.4 404.91 L783.56 404.91 L783.72 404.92 L783.88 404.92 L784.04 404.92 L784.2 404.93" fill="none" stroke="#f06868" stroke-width="1.3" stroke-linejoin="round" />
<path d="M565.5 413.79 L565.66 413.79 L565.82 413.79 L565.98 413.79 L566.14 413.79 L566.3 413.79 L566.46 413.79 L566.63 413.79 L566.79 413.79 L566.95 413.78 L567.11 413.78 L567.27 413.78 L567.43 413.78 L567.59 413.78 L567.75 413.78 L567.91 413.78 L568.07 413.78 L568.23 413.78 L568.39 413.77 L568.56 413.77 L568.72 413.77 L568.88 413.77 L569.04 413.77 L569.2 413.77 L569.36 413.77 L569.52 413.77 L569.68 413.76 L569.84 413.76 L570 413.76 L570.16 413.76 L570.32 413.76 L570.49 413.76 L570.65 413.76 L570.81 413.76 L570.97 413.75 L571.13 413.75 L571.29 413.75 L571.45 413.75 L571.61 413.75 L571.77 413.75 L571.93 413.75 L572.09 413.74 L572.25 413.74 L572.41 413.74 L572.58 413.74 L572.74 413.74 L572.9 413.74 L573.06 413.74 L573.22 413.73 L573.38 413.73 L573.54 413.73 L573.7 413.73 L573.86 413.73 L574.02 413.73 L574.18 413.73 L574.34 413.72 L574.51 413.72 L574.67 413.72 L574.83 413.72 L574.99 413.72 L575.15 413.72 L575.31 413.72 L575.47 413.71 L575.63 413.71 L575.79 413.71 L575.95 413.71 L576.11 413.71 L576.27 413.71 L576.44 413.7 L576.6 413.7 L576.76 413.7 L576.92 413.7 L577.08 413.7 L577.24 413.7 L577.4 413.69 L577.56 413.69 L577.72 413.69 L577.88 413.69 L578.04 413.69 L578.2 413.69 L578.36 413.68 L578.53 413.68 L578.69 413.68 L578.85 413.68 L579.01 413.68 L579.17 413.68 L579.33 413.67 L579.49 413.67 L579.65 413.67 L579.81 413.67 L579.97 413.67 L580.13 413.66 L580.29 413.66 L580.46 413.66 L580.62 413.66 L580.78 413.66 L580.94 413.66 L581.1 413.65 L581.26 413.65 L581.42 413.65 L581.58 413.65 L581.74 413.65 L581.9 413.64 L582.06 413.64 L582.22 413.64 L582.38 413.64 L582.55 413.64 L582.71 413.63 L582.87 413.63 L583.03 413.63 L583.19 413.63 L583.35 413.63 L583.51 413.62 L583.67 413.62 L583.83 413.62 L583.99 413.62 L584.15 413.61 L584.31 413.61 L584.48 413.61 L584.64 413.61 L584.8 413.61 L584.96 413.6 L585.12 413.6 L585.28 413.6 L585.44 413.6 L585.6 413.59 L585.76 413.59 L585.92 413.59 L586.08 413.59 L586.24 413.59 L586.41 413.58 L586.57 413.58 L586.73 413.58 L586.89 413.58 L587.05 413.57 L587.21 413.57 L587.37 413.57 L587.53 413.57 L587.69 413.56 L587.85 413.56 L588.01 413.56 L588.17 413.56 L588.33 413.55 L588.5 413.55 L588.66 413.55 L588.82 413.55 L588.98 413.54 L589.14 413.54 L589.3 413.54 L589.46 413.53 L589.62 413.53 L589.78 413.53 L589.94 413.53 L590.1 413.52 L590.26 413.52 L590.43 413.52 L590.59 413.51 L590.75 413.51 L590.91 413.51 L591.07 413.51 L591.23 413.5 L591.39 413.5 L591.55 413.5 L591.71 413.49 L591.87 413.49 L592.03 413.49 L592.19 413.48 L592.36 413.48 L592.52 413.48 L592.68 413.48 L592.84 413.47 L593 413.47 L593.16 413.47 L593.32 413.46 L593.48 413.46 L593.64 413.46 L593.8 413.45 L593.96 413.45 L594.12 413.45 L594.28 413.44 L594.45 413.44 L594.61 413.44 L594.77 413.43 L594.93 413.43 L595.09 413.43 L595.25 413.42 L595.41 413.42 L595.57 413.41 L595.73 413.41 L595.89 413.41 L596.05 413.4 L596.21 413.4 L596.38 413.4 L596.54 413.39 L596.7 413.39 L596.86 413.38 L597.02 413.38 L597.18 413.38 L597.34 413.37 L597.5 413.37 L597.66 413.36 L597.82 413.36 L597.98 413.36 L598.14 413.35 L598.31 413.35 L598.47 413.34 L598.63 413.34 L598.79 413.34 L598.95 413.33 L599.11 413.33 L599.27 413.32 L599.43 413.32 L599.59 413.31 L599.75 413.31 L599.91 413.3 L600.07 413.3 L600.23 413.29 L600.4 413.29 L600.56 413.29 L600.72 413.28 L600.88 413.28 L601.04 413.27 L601.2 413.27 L601.36 413.26 L601.52 413.26 L601.68 413.25 L601.84 413.25 L602 413.24 L602.16 413.24 L602.33 413.23 L602.49 413.23 L602.65 413.22 L602.81 413.22 L602.97 413.21 L603.13 413.2 L603.29 413.2 L603.45 413.19 L603.61 413.19 L603.77 413.18 L603.93 413.18 L604.09 413.17 L604.25 413.17 L604.42 413.16 L604.58 413.15 L604.74 413.15 L604.9 413.14 L605.06 413.14 L605.22 413.13 L605.38 413.12 L605.54 413.12 L605.7 413.11 L605.86 413.1 L606.02 413.1 L606.18 413.09 L606.35 413.08 L606.51 413.08 L606.67 413.07 L606.83 413.06 L606.99 413.06 L607.15 413.05 L607.31 413.04 L607.47 413.04 L607.63 413.03 L607.79 413.02 L607.95 413.02 L608.11 413.01 L608.28 413 L608.44 412.99 L608.6 412.99 L608.76 412.98 L608.92 412.97 L609.08 412.96 L609.24 412.96 L609.4 412.95 L609.56 412.94 L609.72 412.93 L609.88 412.92 L610.04 412.92 L610.2 412.91 L610.37 412.9 L610.53 412.89 L610.69 412.88 L610.85 412.87 L611.01 412.86 L611.17 412.86 L611.33 412.85 L611.49 412.84 L611.65 412.83 L611.81 412.82 L611.97 412.81 L612.13 412.8 L612.3 412.79 L612.46 412.78 L612.62 412.77 L612.78 412.76 L612.94 412.75 L613.1 412.74 L613.26 412.73 L613.42 412.72 L613.58 412.71 L613.74 412.7 L613.9 412.69 L614.06 412.68 L614.23 412.67 L614.39 412.66 L614.55 412.65 L614.71 412.63 L614.87 412.62 L615.03 412.61 L615.19 412.6 L615.35 412.59 L615.51 412.58 L615.67 412.56 L615.83 412.55 L615.99 412.54 L616.15 412.53 L616.32 412.51 L616.48 412.5 L616.64 412.49 L616.8 412.47 L616.96 412.46 L617.12 412.45 L617.28 412.43 L617.44 412.42 L617.6 412.41 L617.76 412.39 L617.92 412.38 L618.08 412.36 L618.25 412.35 L618.41 412.33 L618.57 412.32 L618.73 412.3 L618.89 412.29 L619.05 412.27 L619.21 412.26 L619.37 412.24 L619.53 412.22 L619.69 412.21 L619.85 412.19 L620.01 412.17 L620.17 412.16 L620.34 412.14 L620.5 412.12 L620.66 412.1 L620.82 412.09 L620.98 412.07 L621.14 412.05 L621.3 412.03 L621.46 412.01 L621.62 411.99 L621.78 411.97 L621.94 411.95 L622.1 411.93 L622.27 411.91 L622.43 411.89 L622.59 411.87 L622.75 411.85 L622.91 411.83 L623.07 411.8 L623.23 411.78 L623.39 411.76 L623.55 411.74 L623.71 411.71 L623.87 411.69 L624.03 411.66 L624.2 411.64 L624.36 411.61 L624.52 411.59 L624.68 411.56 L624.84 411.54 L625 411.51 L625.16 411.49 L625.32 411.46 L625.48 411.43 L625.64 411.4 L625.8 411.37 L625.96 411.35 L626.12 411.32 L626.29 411.29 L626.45 411.26 L626.61 411.22 L626.77 411.19 L626.93 411.16 L627.09 411.13 L627.25 411.1 L627.41 411.06 L627.57 411.03 L627.73 410.99 L627.89 410.96 L628.05 410.92 L628.22 410.89 L628.38 410.85 L628.54 410.81 L628.7 410.77 L628.86 410.73 L629.02 410.69 L629.18 410.65 L629.34 410.61 L629.5 410.57 L629.66 410.53 L629.82 410.48 L629.98 410.44 L630.15 410.39 L630.31 410.35 L630.47 410.3 L630.63 410.25 L630.79 410.2 L630.95 410.15 L631.11 410.1 L631.27 410.05 L631.43 410 L631.59 409.94 L631.75 409.89 L631.91 409.83 L632.07 409.77 L632.24 409.71 L632.4 409.65 L632.56 409.59 L632.72 409.53 L632.88 409.46 L633.04 409.39 L633.2 409.32 L633.36 409.25 L633.52 409.18 L633.68 409.11 L633.84 409.03 L634 408.95 L634.17 408.87 L634.33 408.79 L634.49 408.71 L634.65 408.62 L634.81 408.53 L634.97 408.43 L635.13 408.34 L635.29 408.24 L635.45 408.14 L635.61 408.03 L635.77 407.92 L635.93 407.81 L636.1 407.7 L636.26 407.58 L636.42 407.45 L636.58 407.32 L636.74 407.19 L636.9 407.05 L637.06 406.91 L637.22 406.76 L637.38 406.6 L637.54 406.44 L637.7 406.28 L637.86 406.1 L638.02 405.92 L638.19 405.74 L638.35 405.54 L638.51 405.34 L638.67 405.13 L638.83 404.91 L638.99 404.68 L639.15 404.44 L639.31 404.2 L639.47 403.94 L639.63 403.67 L639.79 403.39 L639.95 403.1 L640.12 402.79 L640.28 402.47 L640.44 402.14 L640.6 401.8 L640.76 401.44 L640.92 401.07 L641.08 400.68 L641.24 400.27 L641.4 399.85 L641.56 399.41 L641.72 398.95 L641.88 398.47 L642.04 397.97 L642.21 397.45 L642.37 396.91 L642.53 396.35 L642.69 395.77 L642.85 395.16 L643.01 394.53 L643.17 393.88 L643.33 393.2 L643.49 392.5 L643.65 391.76 L643.81 391 L643.97 390.22 L644.14 389.4 L644.3 388.55 L644.46 387.68 L644.62 386.77 L644.78 385.83 L644.94 384.86 L645.1 383.86 L645.26 382.82 L645.42 381.75 L645.58 380.64 L645.74 379.5 L645.9 378.33 L646.07 377.11 L646.23 375.86 L646.39 374.57 L646.55 373.25 L646.71 371.89 L646.87 370.48 L647.03 369.04 L647.19 367.56 L647.35 366.04 L647.51 364.48 L647.67 362.88 L647.83 361.24 L647.99 359.56 L648.16 357.84 L648.32 356.07 L648.48 354.27 L648.64 352.43 L648.8 350.54 L648.96 348.62 L649.12 346.66 L649.28 344.65 L649.44 342.61 L649.6 340.53 L649.76 338.41 L649.92 336.26 L650.09 334.07 L650.25 331.84 L650.41 329.59 L650.57 327.3 L650.73 324.98 L650.89 322.64 L651.05 320.27 L651.21 317.88 L651.37 315.48 L651.53 313.06 L651.69 310.63 L651.85 308.2 L652.02 305.77 L652.18 303.35 L652.34 300.94 L652.5 298.55 L652.66 296.19 L652.82 293.87 L652.98 291.6 L653.14 289.38 L653.3 287.23 L653.46 285.16 L653.62 283.18 L653.78 281.3 L653.94 279.53 L654.11 277.88 L654.27 276.37 L654.43 275 L654.59 273.79 L654.75 272.74 L654.91 271.86 L655.07 271.16 L655.23 270.65 L655.39 270.33 L655.55 270.2 L655.71 270.26 L655.87 270.52 L656.04 270.96 L656.2 271.59 L656.36 272.4 L656.52 273.38 L656.68 274.53 L656.84 275.83 L657 277.27 L657.16 278.86 L657.32 280.56 L657.48 282.38 L657.64 284.3 L657.8 286.3 L657.97 288.39 L658.13 290.54 L658.29 292.75 L658.45 295.01 L658.61 297.31 L658.77 299.64 L658.93 301.99 L659.09 304.35 L659.25 306.72 L659.41 309.1 L659.57 311.46 L659.73 313.82 L659.89 316.17 L660.06 318.5 L660.22 320.81 L660.38 323.1 L660.54 325.36 L660.7 327.59 L660.86 329.79 L661.02 331.97 L661.18 334.1 L661.34 336.21 L661.5 338.28 L661.66 340.31 L661.82 342.3 L661.99 344.26 L662.15 346.17 L662.31 348.05 L662.47 349.89 L662.63 351.69 L662.79 353.45 L662.95 355.17 L663.11 356.85 L663.27 358.49 L663.43 360.1 L663.59 361.66 L663.75 363.18 L663.91 364.66 L664.08 366.11 L664.24 367.51 L664.4 368.88 L664.56 370.21 L664.72 371.5 L664.88 372.76 L665.04 373.97 L665.2 375.16 L665.36 376.3 L665.52 377.41 L665.68 378.49 L665.84 379.53 L666.01 380.54 L666.17 381.52 L666.33 382.46 L666.49 383.37 L666.65 384.26 L666.81 385.11 L666.97 385.93 L667.13 386.72 L667.29 387.48 L667.45 388.22 L667.61 388.93 L667.77 389.61 L667.94 390.27 L668.1 390.91 L668.26 391.51 L668.42 392.1 L668.58 392.66 L668.74 393.2 L668.9 393.72 L669.06 394.22 L669.22 394.7 L669.38 395.16 L669.54 395.6 L669.7 396.03 L669.86 396.43 L670.03 396.82 L670.19 397.2 L670.35 397.55 L670.51 397.9 L670.67 398.23 L670.83 398.54 L670.99 398.84 L671.15 399.13 L671.31 399.41 L671.47 399.68 L671.63 399.93 L671.79 400.18 L671.96 400.41 L672.12 400.63 L672.28 400.85 L672.44 401.06 L672.6 401.25 L672.76 401.44 L672.92 401.62 L673.08 401.8 L673.24 401.97 L673.4 402.13 L673.56 402.28 L673.72 402.43 L673.89 402.57 L674.05 402.71 L674.21 402.84 L674.37 402.97 L674.53 403.09 L674.69 403.21 L674.85 403.32 L675.01 403.43 L675.17 403.54 L675.33 403.64 L675.49 403.74 L675.65 403.83 L675.81 403.92 L675.98 404.01 L676.14 404.1 L676.3 404.18 L676.46 404.26 L676.62 404.34 L676.78 404.41 L676.94 404.48 L677.1 404.55 L677.26 404.62 L677.42 404.69 L677.58 404.75 L677.74 404.81 L677.91 404.87 L678.07 404.93 L678.23 404.99 L678.39 405.05 L678.55 405.1 L678.71 405.15 L678.87 405.2 L679.03 405.25 L679.19 405.3 L679.35 405.35 L679.51 405.4 L679.67 405.44 L679.84 405.48 L680 405.53 L680.16 405.57 L680.32 405.61 L680.48 405.65 L680.64 405.69 L680.8 405.73 L680.96 405.76 L681.12 405.8 L681.28 405.83 L681.44 405.87 L681.6 405.9 L681.76 405.93 L681.93 405.97 L682.09 406 L682.25 406.03 L682.41 406.06 L682.57 406.09 L682.73 406.12 L682.89 406.14 L683.05 406.17 L683.21 406.2 L683.37 406.22 L683.53 406.25 L683.69 406.27 L683.86 406.3 L684.02 406.32 L684.18 406.34 L684.34 406.37 L684.5 406.39 L684.66 406.41 L684.82 406.43 L684.98 406.45 L685.14 406.47 L685.3 406.49 L685.46 406.51 L685.62 406.53 L685.79 406.55 L685.95 406.57 L686.11 406.58 L686.27 406.6 L686.43 406.62 L686.59 406.63 L686.75 406.65 L686.91 406.66 L687.07 406.68 L687.23 406.69 L687.39 406.71 L687.55 406.72 L687.71 406.74 L687.88 406.75 L688.04 406.76 L688.2 406.78 L688.36 406.79 L688.52 406.8 L688.68 406.81 L688.84 406.82 L689 406.83 L689.16 406.84 L689.32 406.86 L689.48 406.87 L689.64 406.88 L689.81 406.89 L689.97 406.89 L690.13 406.9 L690.29 406.91 L690.45 406.92 L690.61 406.93 L690.77 406.94 L690.93 406.95 L691.09 406.95 L691.25 406.96 L691.41 406.97 L691.57 406.98 L691.73 406.98 L691.9 406.99 L692.06 406.99 L692.22 407 L692.38 407.01 L692.54 407.01 L692.7 407.02 L692.86 407.02 L693.02 407.03 L693.18 407.03 L693.34 407.04 L693.5 407.04 L693.66 407.05 L693.83 407.05 L693.99 407.06 L694.15 407.06 L694.31 407.06 L694.47 407.07 L694.63 407.07 L694.79 407.07 L694.95 407.08 L695.11 407.08 L695.27 407.08 L695.43 407.08 L695.59 407.09 L695.76 407.09 L695.92 407.09 L696.08 407.09 L696.24 407.1 L696.4 407.1 L696.56 407.1 L696.72 407.1 L696.88 407.1 L697.04 407.1 L697.2 407.1 L697.36 407.11 L697.52 407.11 L697.68 407.11 L697.85 407.11 L698.01 407.11 L698.17 407.11 L698.33 407.11 L698.49 407.11 L698.65 407.11 L698.81 407.11 L698.97 407.11 L699.13 407.11 L699.29 407.11 L699.45 407.11 L699.61 407.11 L699.78 407.11 L699.94 407.11 L700.1 407.11 L700.26 407.1 L700.42 407.1 L700.58 407.1 L700.74 407.1 L700.9 407.1 L701.06 407.1 L701.22 407.1 L701.38 407.1 L701.54 407.09 L701.71 407.09 L701.87 407.09 L702.03 407.09 L702.19 407.09 L702.35 407.08 L702.51 407.08 L702.67 407.08 L702.83 407.08 L702.99 407.08 L703.15 407.07 L703.31 407.07 L703.47 407.07 L703.63 407.07 L703.8 407.06 L703.96 407.06 L704.12 407.06 L704.28 407.05 L704.44 407.05 L704.6 407.05 L704.76 407.05 L704.92 407.04 L705.08 407.04 L705.24 407.04 L705.4 407.03 L705.56 407.03 L705.73 407.03 L705.89 407.02 L706.05 407.02 L706.21 407.02 L706.37 407.01 L706.53 407.01 L706.69 407.01 L706.85 407" fill="none" stroke="#6a9ad8" stroke-width="1.4" stroke-linejoin="round" />
<path d="M681.44 408.8 L681.6 408.79 L681.76 408.78 L681.93 408.76 L682.09 408.75 L682.25 408.74 L682.41 408.73 L682.57 408.71 L682.73 408.7 L682.89 408.69 L683.05 408.67 L683.21 408.66 L683.37 408.65 L683.53 408.63 L683.69 408.62 L683.86 408.61 L684.02 408.59 L684.18 408.58 L684.34 408.57 L684.5 408.55 L684.66 408.54 L684.82 408.52 L684.98 408.51 L685.14 408.5 L685.3 408.48 L685.46 408.47 L685.62 408.45 L685.79 408.44 L685.95 408.43 L686.11 408.41 L686.27 408.4 L686.43 408.38 L686.59 408.37 L686.75 408.35 L686.91 408.34 L687.07 408.32 L687.23 408.31 L687.39 408.3 L687.55 408.28 L687.71 408.27 L687.88 408.25 L688.04 408.24 L688.2 408.22 L688.36 408.21 L688.52 408.19 L688.68 408.17 L688.84 408.16 L689 408.14 L689.16 408.13 L689.32 408.11 L689.48 408.1 L689.64 408.08 L689.81 408.07 L689.97 408.05 L690.13 408.03 L690.29 408.02 L690.45 408 L690.61 407.98 L690.77 407.97 L690.93 407.95 L691.09 407.93 L691.25 407.92 L691.41 407.9 L691.57 407.88 L691.73 407.87 L691.9 407.85 L692.06 407.83 L692.22 407.82 L692.38 407.8 L692.54 407.78 L692.7 407.76 L692.86 407.75 L693.02 407.73 L693.18 407.71 L693.34 407.69 L693.5 407.68 L693.66 407.66 L693.83 407.64 L693.99 407.62 L694.15 407.6 L694.31 407.58 L694.47 407.56 L694.63 407.55 L694.79 407.53 L694.95 407.51 L695.11 407.49 L695.27 407.47 L695.43 407.45 L695.59 407.43 L695.76 407.41 L695.92 407.39 L696.08 407.37 L696.24 407.35 L696.4 407.33 L696.56 407.31 L696.72 407.29 L696.88 407.27 L697.04 407.25 L697.2 407.23 L697.36 407.21 L697.52 407.18 L697.68 407.16 L697.85 407.14 L698.01 407.12 L698.17 407.1 L698.33 407.08 L698.49 407.05 L698.65 407.03 L698.81 407.01 L698.97 406.99 L699.13 406.96 L699.29 406.94 L699.45 406.92 L699.61 406.89 L699.78 406.87 L699.94 406.84 L700.1 406.82 L700.26 406.8 L700.42 406.77 L700.58 406.75 L700.74 406.72 L700.9 406.7 L701.06 406.67 L701.22 406.65 L701.38 406.62 L701.54 406.59 L701.71 406.57 L701.87 406.54 L702.03 406.51 L702.19 406.49 L702.35 406.46 L702.51 406.43 L702.67 406.4 L702.83 406.37 L702.99 406.35 L703.15 406.32 L703.31 406.29 L703.47 406.26 L703.63 406.23 L703.8 406.2 L703.96 406.17 L704.12 406.14 L704.28 406.11 L704.44 406.08 L704.6 406.04 L704.76 406.01 L704.92 405.98 L705.08 405.95 L705.24 405.91 L705.4 405.88 L705.56 405.84 L705.73 405.81 L705.89 405.77 L706.05 405.74 L706.21 405.7 L706.37 405.67 L706.53 405.63 L706.69 405.59 L706.85 405.55 L707.01 405.52 L707.17 405.48 L707.33 405.44 L707.49 405.4 L707.66 405.36 L707.82 405.32 L707.98 405.27 L708.14 405.23 L708.3 405.19 L708.46 405.14 L708.62 405.1 L708.78 405.05 L708.94 405.01 L709.1 404.96 L709.26 404.91 L709.42 404.86 L709.58 404.82 L709.75 404.76 L709.91 404.71 L710.07 404.66 L710.23 404.61 L710.39 404.55 L710.55 404.5 L710.71 404.44 L710.87 404.38 L711.03 404.32 L711.19 404.26 L711.35 404.2 L711.51 404.14 L711.68 404.07 L711.84 404 L712 403.93 L712.16 403.86 L712.32 403.79 L712.48 403.72 L712.64 403.64 L712.8 403.56 L712.96 403.48 L713.12 403.4 L713.28 403.31 L713.44 403.23 L713.6 403.13 L713.77 403.04 L713.93 402.94 L714.09 402.84 L714.25 402.74 L714.41 402.63 L714.57 402.52 L714.73 402.41 L714.89 402.29 L715.05 402.17 L715.21 402.04 L715.37 401.91 L715.53 401.77 L715.7 401.63 L715.86 401.48 L716.02 401.33 L716.18 401.17 L716.34 401 L716.5 400.83 L716.66 400.65 L716.82 400.46 L716.98 400.27 L717.14 400.07 L717.3 399.86 L717.46 399.64 L717.63 399.41 L717.79 399.18 L717.95 398.93 L718.11 398.68 L718.27 398.41 L718.43 398.13 L718.59 397.85 L718.75 397.55 L718.91 397.23 L719.07 396.91 L719.23 396.57 L719.39 396.22 L719.55 395.86 L719.72 395.48 L719.88 395.08 L720.04 394.68 L720.2 394.25 L720.36 393.81 L720.52 393.35 L720.68 392.88 L720.84 392.38 L721 391.87 L721.16 391.35 L721.32 390.8 L721.48 390.23 L721.65 389.64 L721.81 389.03 L721.97 388.4 L722.13 387.75 L722.29 387.08 L722.45 386.39 L722.61 385.67 L722.77 384.93 L722.93 384.17 L723.09 383.38 L723.25 382.57 L723.41 381.74 L723.58 380.88 L723.74 379.99 L723.9 379.08 L724.06 378.14 L724.22 377.18 L724.38 376.2 L724.54 375.18 L724.7 374.14 L724.86 373.07 L725.02 371.98 L725.18 370.86 L725.34 369.71 L725.5 368.54 L725.67 367.34 L725.83 366.11 L725.99 364.86 L726.15 363.58 L726.31 362.27 L726.47 360.94 L726.63 359.58 L726.79 358.19 L726.95 356.78 L727.11 355.35 L727.27 353.89 L727.43 352.42 L727.6 350.92 L727.76 349.39 L727.92 347.85 L728.08 346.3 L728.24 344.73 L728.4 343.14 L728.56 341.54 L728.72 339.94 L728.88 338.32 L729.04 336.71 L729.2 335.1 L729.36 333.49 L729.53 331.89 L729.69 330.31 L729.85 328.74 L730.01 327.2 L730.17 325.7 L730.33 324.23 L730.49 322.81 L730.65 321.44 L730.81 320.12 L730.97 318.88 L731.13 317.71 L731.29 316.63 L731.45 315.63 L731.62 314.73 L731.78 313.93 L731.94 313.25 L732.1 312.68 L732.26 312.23 L732.42 311.9 L732.58 311.71 L732.74 311.64 L732.9 311.69 L733.06 311.88 L733.22 312.19 L733.38 312.63 L733.55 313.19 L733.71 313.86 L733.87 314.65 L734.03 315.53 L734.19 316.52 L734.35 317.59 L734.51 318.75 L734.67 319.98 L734.83 321.28 L734.99 322.64 L735.15 324.05 L735.31 325.51 L735.47 327 L735.64 328.53 L735.8 330.08 L735.96 331.66 L736.12 333.24 L736.28 334.84 L736.44 336.44 L736.6 338.04 L736.76 339.64 L736.92 341.24 L737.08 342.82 L737.24 344.4 L737.4 345.96 L737.57 347.5 L737.73 349.03 L737.89 350.54 L738.05 352.03 L738.21 353.5 L738.37 354.94 L738.53 356.36 L738.69 357.76 L738.85 359.13 L739.01 360.48 L739.17 361.8 L739.33 363.1 L739.5 364.37 L739.66 365.61 L739.82 366.83 L739.98 368.02 L740.14 369.18 L740.3 370.32 L740.46 371.42 L740.62 372.51 L740.78 373.57 L740.94 374.6 L741.1 375.61 L741.26 376.59 L741.42 377.54 L741.59 378.47 L741.75 379.37 L741.91 380.24 L742.07 381.1 L742.23 381.92 L742.39 382.72 L742.55 383.5 L742.71 384.26 L742.87 384.99 L743.03 385.7 L743.19 386.38 L743.35 387.05 L743.52 387.69 L743.68 388.31 L743.84 388.91 L744 389.49 L744.16 390.04 L744.32 390.58 L744.48 391.1 L744.64 391.61 L744.8 392.09 L744.96 392.56 L745.12 393 L745.28 393.44 L745.45 393.85 L745.61 394.25 L745.77 394.64 L745.93 395.01 L746.09 395.36 L746.25 395.7 L746.41 396.03 L746.57 396.35 L746.73 396.65 L746.89 396.94 L747.05 397.22 L747.21 397.49 L747.37 397.74 L747.54 397.99 L747.7 398.23 L747.86 398.45 L748.02 398.67 L748.18 398.88 L748.34 399.08 L748.5 399.27 L748.66 399.46 L748.82 399.63 L748.98 399.8 L749.14 399.96 L749.3 400.12 L749.47 400.27 L749.63 400.41 L749.79 400.55 L749.95 400.69 L750.11 400.81 L750.27 400.94 L750.43 401.05 L750.59 401.17 L750.75 401.28 L750.91 401.38 L751.07 401.48 L751.23 401.58 L751.39 401.67 L751.56 401.76 L751.72 401.85 L751.88 401.94 L752.04 402.02 L752.2 402.1 L752.36 402.17 L752.52 402.24 L752.68 402.32 L752.84 402.38 L753 402.45 L753.16 402.51 L753.32 402.58 L753.49 402.64 L753.65 402.7 L753.81 402.75 L753.97 402.81 L754.13 402.86 L754.29 402.91 L754.45 402.97 L754.61 403.02 L754.77 403.06 L754.93 403.11 L755.09 403.16 L755.25 403.2 L755.42 403.24 L755.58 403.29 L755.74 403.33 L755.9 403.37 L756.06 403.41 L756.22 403.45 L756.38 403.48 L756.54 403.52 L756.7 403.56 L756.86 403.59 L757.02 403.63 L757.18 403.66 L757.34 403.69 L757.51 403.73 L757.67 403.76 L757.83 403.79 L757.99 403.82 L758.15 403.85 L758.31 403.88 L758.47 403.91 L758.63 403.94 L758.79 403.96 L758.95 403.99 L759.11 404.02 L759.27 404.04 L759.44 404.07 L759.6 404.09 L759.76 404.12 L759.92 404.14 L760.08 404.17 L760.24 404.19 L760.4 404.21 L760.56 404.24 L760.72 404.26 L760.88 404.28 L761.04 404.3 L761.2 404.32 L761.37 404.34 L761.53 404.36 L761.69 404.38 L761.85 404.4 L762.01 404.42 L762.17 404.44 L762.33 404.46 L762.49 404.48 L762.65 404.5 L762.81 404.52 L762.97 404.53 L763.13 404.55 L763.29 404.57 L763.46 404.58 L763.62 404.6 L763.78 404.62 L763.94 404.63 L764.1 404.65 L764.26 404.66 L764.42 404.68 L764.58 404.69 L764.74 404.71 L764.9 404.72 L765.06 404.74 L765.22 404.75 L765.39 404.77 L765.55 404.78 L765.71 404.79 L765.87 404.81 L766.03 404.82 L766.19 404.83 L766.35 404.85 L766.51 404.86 L766.67 404.87 L766.83 404.88 L766.99 404.89 L767.15 404.91 L767.32 404.92 L767.48 404.93 L767.64 404.94 L767.8 404.95 L767.96 404.96 L768.12 404.97 L768.28 404.99 L768.44 405 L768.6 405.01 L768.76 405.02 L768.92 405.03 L769.08 405.04 L769.24 405.05 L769.41 405.06 L769.57 405.07 L769.73 405.08 L769.89 405.08 L770.05 405.09 L770.21 405.1 L770.37 405.11 L770.53 405.12 L770.69 405.13 L770.85 405.14 L771.01 405.15 L771.17 405.15 L771.34 405.16 L771.5 405.17 L771.66 405.18 L771.82 405.19 L771.98 405.2 L772.14 405.2 L772.3 405.21 L772.46 405.22 L772.62 405.23 L772.78 405.23 L772.94 405.24 L773.1 405.25 L773.26 405.25 L773.43 405.26 L773.59 405.27 L773.75 405.28 L773.91 405.28 L774.07 405.29 L774.23 405.29 L774.39 405.3 L774.55 405.31 L774.71 405.31 L774.87 405.32 L775.03 405.33 L775.19 405.33 L775.36 405.34 L775.52 405.34 L775.68 405.35 L775.84 405.36 L776 405.36 L776.16 405.37 L776.32 405.37 L776.48 405.38 L776.64 405.38 L776.8 405.39 L776.96 405.39 L777.12 405.4 L777.29 405.41 L777.45 405.41 L777.61 405.42 L777.77 405.42 L777.93 405.43 L778.09 405.43 L778.25 405.43 L778.41 405.44 L778.57 405.44 L778.73 405.45 L778.89 405.45 L779.05 405.46 L779.21 405.46 L779.38 405.47 L779.54 405.47 L779.7 405.48 L779.86 405.48 L780.02 405.48 L780.18 405.49 L780.34 405.49 L780.5 405.5 L780.66 405.5 L780.82 405.5 L780.98 405.51 L781.14 405.51 L781.31 405.52 L781.47 405.52 L781.63 405.52 L781.79 405.53 L781.95 405.53 L782.11 405.53 L782.27 405.54 L782.43 405.54 L782.59 405.55 L782.75 405.55 L782.91 405.55 L783.07 405.56 L783.24 405.56 L783.4 405.56 L783.56 405.57 L783.72 405.57 L783.88 405.57 L784.04 405.58 L784.2 405.58" fill="none" stroke="#9fc4bc" stroke-width="1.4" stroke-linejoin="round" />
<rect x="565.5" y="255.9" width="218.7" height="175.9" fill="none" stroke="#3a3a3a" stroke-width="1.5"/>
<line x1="578.36" y1="431.8" x2="578.36" y2="428.8" stroke="#3a3a3a" stroke-width="1" />
<line x1="591.23" y1="431.8" x2="591.23" y2="430" stroke="#3a3a3a" stroke-width="1" />
<line x1="604.09" y1="431.8" x2="604.09" y2="428.8" stroke="#3a3a3a" stroke-width="1" />
<line x1="616.96" y1="431.8" x2="616.96" y2="430" stroke="#3a3a3a" stroke-width="1" />
<line x1="629.82" y1="431.8" x2="629.82" y2="428.8" stroke="#3a3a3a" stroke-width="1" />
<line x1="642.69" y1="431.8" x2="642.69" y2="430" stroke="#3a3a3a" stroke-width="1" />
<line x1="655.55" y1="431.8" x2="655.55" y2="428.8" stroke="#3a3a3a" stroke-width="1" />
<line x1="668.42" y1="431.8" x2="668.42" y2="430" stroke="#3a3a3a" stroke-width="1" />
<line x1="681.28" y1="431.8" x2="681.28" y2="428.8" stroke="#3a3a3a" stroke-width="1" />
<line x1="694.15" y1="431.8" x2="694.15" y2="430" stroke="#3a3a3a" stroke-width="1" />
<line x1="707.01" y1="431.8" x2="707.01" y2="428.8" stroke="#3a3a3a" stroke-width="1" />
<line x1="719.88" y1="431.8" x2="719.88" y2="430" stroke="#3a3a3a" stroke-width="1" />
<line x1="732.74" y1="431.8" x2="732.74" y2="428.8" stroke="#3a3a3a" stroke-width="1" />
<line x1="745.61" y1="431.8" x2="745.61" y2="430" stroke="#3a3a3a" stroke-width="1" />
<line x1="758.47" y1="431.8" x2="758.47" y2="428.8" stroke="#3a3a3a" stroke-width="1" />
<line x1="771.34" y1="431.8" x2="771.34" y2="430" stroke="#3a3a3a" stroke-width="1" />
<text transform="translate(578.36 446.2) scale(1 1.08)" x="0" y="0" font-size="13" fill="#1a1a1a" text-anchor="middle">362</text>
<text transform="translate(604.09 446.2) scale(1 1.08)" x="0" y="0" font-size="13" fill="#1a1a1a" text-anchor="middle">364</text>
<text transform="translate(629.82 446.2) scale(1 1.08)" x="0" y="0" font-size="13" fill="#1a1a1a" text-anchor="middle">366</text>
<text transform="translate(655.55 446.2) scale(1 1.08)" x="0" y="0" font-size="13" fill="#1a1a1a" text-anchor="middle">368</text>
<text transform="translate(681.28 446.2) scale(1 1.08)" x="0" y="0" font-size="13" fill="#1a1a1a" text-anchor="middle">370</text>
<text transform="translate(707.01 446.2) scale(1 1.08)" x="0" y="0" font-size="13" fill="#1a1a1a" text-anchor="middle">372</text>
<text transform="translate(732.74 446.2) scale(1 1.08)" x="0" y="0" font-size="13" fill="#1a1a1a" text-anchor="middle">374</text>
<text transform="translate(758.47 446.2) scale(1 1.08)" x="0" y="0" font-size="13" fill="#1a1a1a" text-anchor="middle">376</text>
<text transform="translate(784.2 446.2) scale(1 1.08)" x="0" y="0" font-size="13" fill="#1a1a1a" text-anchor="middle">378</text>
<text x="674.95" y="469.2" font-size="14.4" font-weight="bold" fill="#000" text-anchor="middle" >Binding energy (eV)</text>
<text x="556.7" y="343.6" font-size="14.2" font-weight="bold" fill="#000" text-anchor="middle" transform="rotate(-90 556.7 343.6)">Intensity (a.u.)</text>
<text x="571.6" y="273.2" font-size="13.3" font-weight="bold" fill="#000" text-anchor="start" >Ag 3d</text>
<text x="662" y="284.2" font-size="15.5" font-weight="bold" fill="#5e90d8">Ag 3d<tspan font-size="10" dy="3.3">1/2</tspan></text>
<text x="724.7" y="307.2" font-size="15.5" font-weight="bold" fill="#a8cbc6">Ag 3d<tspan font-size="10" dy="3.3">3/2</tspan></text>
</svg></body></html>
